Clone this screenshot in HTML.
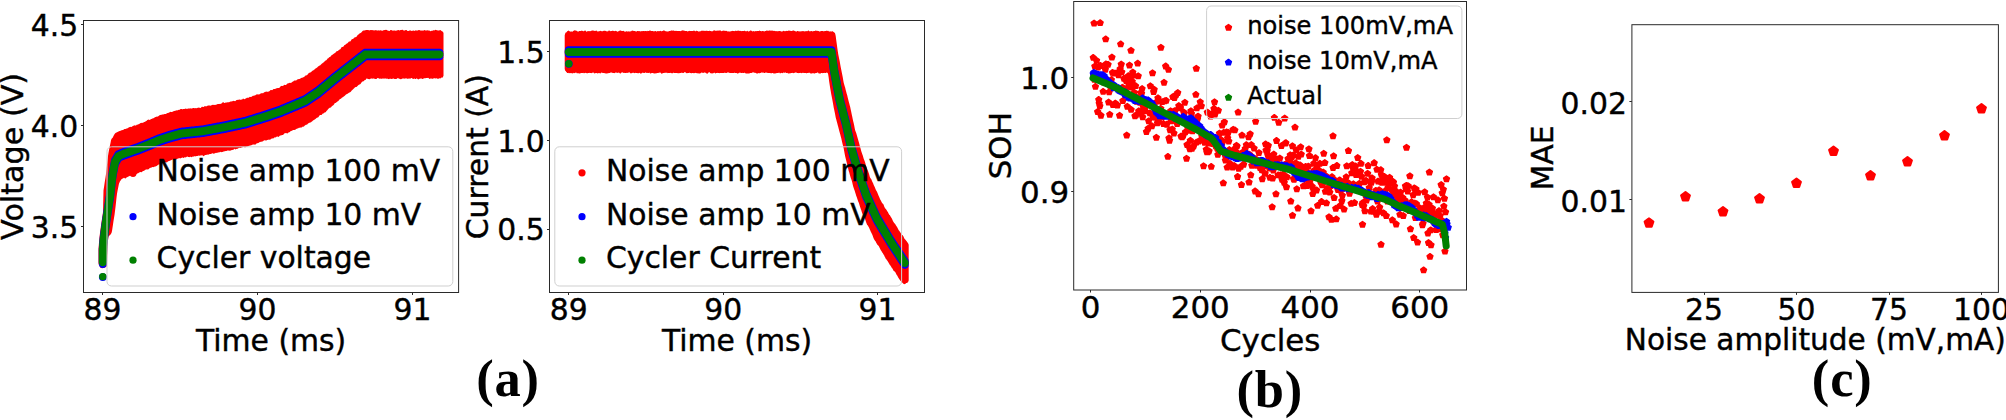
<!DOCTYPE html>
<html><head><meta charset="utf-8"><title>figure</title>
<style>html,body{margin:0;padding:0;background:#fff}svg{display:block}</style></head>
<body>
<svg width="2006" height="420" viewBox="0 0 2006 420">
<rect width="2006" height="420" fill="#fff"/>
<clipPath id="cp1"><rect x="83.5" y="20.5" width="375.1" height="272.0"/></clipPath>
<g clip-path="url(#cp1)">
<path d="M98.5,248.8 99.0,242.4 99.5,236.9 100.0,233.0 100.5,229.1 101.0,225.5 101.5,222.1 102.0,218.7 102.5,215.4 103.0,212.0 103.5,190.3 104.0,187.3 104.5,183.8 105.0,180.5 105.5,177.4 106.0,174.0 106.5,169.6 107.0,164.8 107.5,160.4 108.0,155.9 108.5,152.7 109.0,150.1 109.5,147.8 110.0,145.3 110.5,142.9 111.0,140.2 111.5,139.1 112.0,138.3 112.5,137.9 113.0,136.9 113.5,135.9 114.0,134.9 114.5,134.2 115.0,133.6 115.5,133.0 116.0,132.7 116.5,132.4 117.0,132.2 117.5,132.0 118.0,131.7 118.5,131.6 119.0,131.2 119.5,130.9 120.0,131.0 120.5,130.7 121.0,130.6 121.5,130.2 122.0,130.2 122.5,130.1 123.0,130.0 123.5,129.7 124.0,129.2 124.5,129.0 125.0,129.0 125.5,129.0 126.0,128.7 126.5,128.6 127.0,128.6 127.5,128.3 128.0,128.1 128.5,127.6 129.0,127.5 129.5,127.1 130.0,126.9 130.5,126.7 131.0,126.9 131.5,127.0 132.0,126.6 132.5,126.2 133.0,125.9 133.5,125.7 134.0,125.5 134.5,125.2 135.0,125.6 135.5,125.6 136.0,125.4 136.5,125.0 137.0,124.6 137.5,124.7 138.0,124.5 138.5,124.3 139.0,123.9 139.5,123.8 140.0,123.6 140.5,123.1 141.0,122.9 141.5,122.7 142.0,122.9 142.5,122.8 143.0,122.7 143.5,122.4 144.0,122.0 144.5,122.0 145.0,121.7 145.5,121.6 146.0,121.1 146.5,120.9 147.0,120.3 147.5,120.0 148.0,119.7 148.5,119.6 149.0,119.8 149.5,120.0 150.0,119.8 150.5,119.5 151.0,118.9 151.5,118.9 152.0,118.8 152.5,118.5 153.0,118.3 153.5,118.2 154.0,117.9 154.5,117.5 155.0,117.3 155.5,117.0 156.0,116.9 156.5,116.5 157.0,116.7 157.5,116.4 158.0,116.4 158.5,115.9 159.0,115.7 159.5,115.2 160.0,114.9 160.5,114.9 161.0,114.7 161.5,114.9 162.0,114.3 162.5,114.7 163.0,114.2 163.5,114.5 164.0,114.2 164.5,113.9 165.0,113.9 165.5,113.9 166.0,114.0 166.5,113.6 167.0,113.2 167.5,112.9 168.0,112.9 168.5,112.7 169.0,112.7 169.5,112.3 170.0,112.1 170.5,111.8 171.0,112.0 171.5,111.9 172.0,112.1 172.5,111.8 173.0,111.6 173.5,111.2 174.0,111.0 174.5,111.0 175.0,110.8 175.5,110.7 176.0,110.4 176.5,110.2 177.0,110.4 177.5,110.3 178.0,110.2 178.5,109.8 179.0,110.0 179.5,109.8 180.0,109.6 180.5,109.1 181.0,109.0 181.5,109.1 182.0,109.1 182.5,109.4 183.0,109.1 183.5,109.1 184.0,109.0 184.5,109.0 185.0,108.7 185.5,108.5 186.0,108.7 186.5,108.8 187.0,109.0 187.5,108.7 188.0,108.6 188.5,108.5 189.0,108.5 189.5,108.5 190.0,108.5 190.5,108.3 191.0,108.5 191.5,108.6 192.0,108.6 192.5,108.3 193.0,107.9 193.5,107.9 194.0,108.1 194.5,108.3 195.0,108.2 195.5,108.1 196.0,108.2 196.5,108.2 197.0,107.9 197.5,108.0 198.0,107.6 198.5,107.7 199.0,107.5 199.5,107.8 200.0,107.9 200.5,108.0 201.0,107.7 201.5,107.0 202.0,106.8 202.5,106.8 203.0,107.0 203.5,106.9 204.0,106.7 204.5,106.2 205.0,106.1 205.5,106.2 206.0,106.5 206.5,106.3 207.0,106.1 207.5,105.8 208.0,105.6 208.5,105.5 209.0,105.4 209.5,105.4 210.0,105.5 210.5,105.7 211.0,105.4 211.5,105.2 212.0,104.9 212.5,104.8 213.0,104.9 213.5,104.8 214.0,104.9 214.5,104.8 215.0,105.2 215.5,104.8 216.0,104.8 216.5,104.4 217.0,104.5 217.5,104.0 218.0,103.9 218.5,103.9 219.0,104.1 219.5,104.0 220.0,103.8 220.5,103.9 221.0,103.8 221.5,103.4 222.0,103.0 222.5,102.6 223.0,102.3 223.5,102.2 224.0,102.7 224.5,103.1 225.0,102.9 225.5,102.4 226.0,102.5 226.5,102.6 227.0,102.6 227.5,102.3 228.0,102.2 228.5,102.2 229.0,102.2 229.5,102.1 230.0,101.7 230.5,101.6 231.0,101.4 231.5,101.6 232.0,101.2 232.5,101.2 233.0,100.9 233.5,100.8 234.0,101.0 234.5,101.1 235.0,101.2 235.5,100.9 236.0,100.6 236.5,100.1 237.0,99.9 237.5,99.8 238.0,100.1 238.5,99.8 239.0,99.6 239.5,99.5 240.0,99.8 240.5,99.7 241.0,99.7 241.5,99.6 242.0,99.4 242.5,99.2 243.0,98.5 243.5,98.8 244.0,98.9 244.5,99.2 245.0,98.9 245.5,98.6 246.0,98.4 246.5,98.1 247.0,97.8 247.5,97.7 248.0,97.8 248.5,97.8 249.0,97.6 249.5,97.1 250.0,96.7 250.5,96.9 251.0,96.9 251.5,96.8 252.0,96.4 252.5,95.9 253.0,95.8 253.5,95.8 254.0,95.8 254.5,95.6 255.0,95.2 255.5,95.2 256.0,94.8 256.5,94.6 257.0,94.3 257.5,94.6 258.0,94.3 258.5,94.4 259.0,94.4 259.5,94.3 260.0,93.9 260.5,93.5 261.0,93.4 261.5,93.2 262.0,93.1 262.5,93.3 263.0,93.3 263.5,93.0 264.0,92.3 264.5,92.3 265.0,91.9 265.5,91.8 266.0,91.8 266.5,91.6 267.0,91.8 267.5,91.7 268.0,91.7 268.5,91.5 269.0,91.4 269.5,91.1 270.0,90.8 270.5,90.0 271.0,89.9 271.5,90.1 272.0,90.3 272.5,90.0 273.0,89.4 273.5,89.0 274.0,89.0 274.5,89.0 275.0,88.9 275.5,88.7 276.0,88.6 276.5,88.3 277.0,88.2 277.5,88.0 278.0,87.9 278.5,88.1 279.0,88.0 279.5,87.7 280.0,86.9 280.5,86.6 281.0,86.1 281.5,85.9 282.0,85.8 282.5,86.0 283.0,86.0 283.5,85.4 284.0,85.0 284.5,84.7 285.0,84.9 285.5,85.1 286.0,85.0 286.5,84.6 287.0,83.8 287.5,83.6 288.0,83.5 288.5,83.3 289.0,83.1 289.5,82.7 290.0,82.9 290.5,82.8 291.0,83.0 291.5,82.5 292.0,82.2 292.5,81.8 293.0,81.6 293.5,81.2 294.0,80.8 294.5,80.4 295.0,80.4 295.5,80.4 296.0,80.5 296.5,80.3 297.0,79.8 297.5,79.4 298.0,79.1 298.5,79.2 299.0,79.1 299.5,79.0 300.0,78.8 300.5,78.4 301.0,77.9 301.5,77.8 302.0,77.9 302.5,77.5 303.0,77.4 303.5,77.0 304.0,77.2 304.5,76.6 305.0,76.1 305.5,75.4 306.0,75.5 306.5,75.2 307.0,75.3 307.5,74.5 308.0,74.2 308.5,73.3 309.0,73.0 309.5,72.8 310.0,72.6 310.5,72.5 311.0,72.0 311.5,71.7 312.0,71.1 312.5,70.7 313.0,70.5 313.5,70.2 314.0,69.8 314.5,69.4 315.0,69.0 315.5,68.6 316.0,68.2 316.5,68.1 317.0,67.6 317.5,67.2 318.0,66.6 318.5,66.2 319.0,66.0 319.5,65.6 320.0,65.6 320.5,64.9 321.0,64.6 321.5,63.9 322.0,63.5 322.5,63.2 323.0,62.7 323.5,62.6 324.0,62.0 324.5,61.5 325.0,60.9 325.5,60.6 326.0,60.5 326.5,59.9 327.0,59.5 327.5,58.6 328.0,58.5 328.5,57.9 329.0,57.5 329.5,56.9 330.0,56.9 330.5,56.5 331.0,56.0 331.5,55.2 332.0,54.9 332.5,54.7 333.0,54.3 333.5,54.0 334.0,53.6 334.5,53.2 335.0,53.0 335.5,52.4 336.0,51.9 336.5,51.2 337.0,51.2 337.5,51.0 338.0,51.0 338.5,50.2 339.0,49.9 339.5,49.5 340.0,49.4 340.5,48.9 341.0,48.2 341.5,47.3 342.0,46.9 342.5,46.9 343.0,46.8 343.5,46.5 344.0,45.7 344.5,45.1 345.0,45.1 345.5,44.5 346.0,44.3 346.5,43.5 347.0,43.7 347.5,43.1 348.0,42.8 348.5,42.0 349.0,41.6 349.5,41.5 350.0,41.5 350.5,41.2 351.0,40.4 351.5,39.6 352.0,39.2 352.5,38.9 353.0,38.9 353.5,38.5 354.0,38.0 354.5,37.6 355.0,37.2 355.5,37.2 356.0,37.1 356.5,36.7 357.0,36.0 357.5,35.2 358.0,34.8 358.5,34.4 359.0,34.0 359.5,33.5 360.0,33.3 360.5,32.9 361.0,32.7 361.5,32.2 362.0,31.7 362.5,31.1 363.0,30.7 363.5,30.5 364.0,30.5 364.5,30.4 365.0,30.2 365.5,30.2 366.0,30.0 366.5,30.1 367.0,30.0 367.5,29.9 368.0,30.0 368.5,30.1 369.0,30.4 369.5,30.3 370.0,30.2 370.5,30.1 371.0,30.1 371.5,30.1 372.0,30.3 372.5,30.1 373.0,30.3 373.5,30.3 374.0,30.4 374.5,30.3 375.0,30.4 375.5,30.1 376.0,30.3 376.5,30.2 377.0,30.6 377.5,30.6 378.0,30.4 378.5,30.3 379.0,30.4 379.5,30.5 380.0,30.6 380.5,30.3 381.0,30.3 381.5,30.4 382.0,30.9 382.5,30.8 383.0,30.3 383.5,30.3 384.0,30.3 384.5,30.1 385.0,30.0 385.5,29.8 386.0,30.0 386.5,29.8 387.0,30.3 387.5,30.4 388.0,30.6 388.5,30.7 389.0,31.0 389.5,30.9 390.0,30.6 390.5,30.1 391.0,30.0 391.5,30.1 392.0,30.4 392.5,30.6 393.0,30.7 393.5,30.5 394.0,30.4 394.5,30.4 395.0,30.6 395.5,30.8 396.0,30.7 396.5,30.6 397.0,30.5 397.5,30.2 398.0,30.0 398.5,30.1 399.0,30.2 399.5,30.5 400.0,30.2 400.5,30.1 401.0,30.0 401.5,30.1 402.0,29.8 402.5,29.8 403.0,30.1 403.5,30.6 404.0,30.5 404.5,30.4 405.0,30.4 405.5,30.1 406.0,30.0 406.5,30.0 407.0,30.6 407.5,30.9 408.0,31.0 408.5,30.9 409.0,30.7 409.5,30.6 410.0,30.5 410.5,30.4 411.0,30.5 411.5,30.9 412.0,30.9 412.5,30.7 413.0,30.4 413.5,30.6 414.0,30.7 414.5,30.9 415.0,30.5 415.5,30.5 416.0,30.2 416.5,30.5 417.0,30.7 417.5,30.5 418.0,30.2 418.5,30.1 419.0,30.2 419.5,30.1 420.0,30.2 420.5,30.4 421.0,30.7 421.5,30.5 422.0,30.6 422.5,30.5 423.0,30.7 423.5,30.4 424.0,30.3 424.5,30.1 425.0,30.2 425.5,30.4 426.0,30.4 426.5,30.4 427.0,30.3 427.5,30.2 428.0,30.5 428.5,30.4 429.0,30.4 429.5,30.4 430.0,30.9 430.5,31.3 431.0,31.1 431.5,30.8 432.0,30.7 432.5,30.7 433.0,30.5 433.5,30.2 434.0,30.3 434.5,30.4 435.0,30.1 435.5,29.7 436.0,30.0 436.5,30.1 437.0,30.4 437.5,30.3 438.0,30.5 438.5,30.5 439.0,30.5 439.5,30.3 440.0,30.3 440.5,30.1 441.0,30.6 441.5,30.9 442.0,31.3 442.5,31.4 443.0,32.0 443.5,33.0 443.5,75.8 443.0,76.8 442.5,77.7 442.0,77.5 441.5,77.6 441.0,77.9 440.5,78.4 440.0,78.3 439.5,78.3 439.0,78.5 438.5,78.7 438.0,78.7 437.5,78.7 437.0,78.6 436.5,78.3 436.0,78.3 435.5,78.5 435.0,78.5 434.5,78.2 434.0,78.1 433.5,78.6 433.0,78.8 432.5,78.8 432.0,78.7 431.5,78.6 431.0,78.4 430.5,78.6 430.0,78.8 429.5,79.0 429.0,78.4 428.5,78.1 428.0,77.8 427.5,78.0 427.0,78.0 426.5,78.1 426.0,78.1 425.5,78.3 425.0,78.3 424.5,78.3 424.0,78.3 423.5,78.6 423.0,78.9 422.5,78.9 422.0,78.8 421.5,78.4 421.0,78.6 420.5,78.5 420.0,78.7 419.5,78.7 419.0,79.0 418.5,79.4 418.0,79.3 417.5,78.9 417.0,78.4 416.5,78.3 416.0,78.9 415.5,79.1 415.0,78.9 414.5,78.6 414.0,78.5 413.5,78.9 413.0,78.9 412.5,78.8 412.0,78.1 411.5,78.1 411.0,78.3 410.5,78.6 410.0,78.8 409.5,78.4 409.0,78.6 408.5,78.5 408.0,78.9 407.5,78.8 407.0,78.6 406.5,78.5 406.0,78.2 405.5,78.6 405.0,78.6 404.5,78.8 404.0,78.5 403.5,78.6 403.0,78.6 402.5,78.6 402.0,78.7 401.5,79.0 401.0,79.2 400.5,79.2 400.0,78.8 399.5,78.9 399.0,78.5 398.5,78.4 398.0,77.9 397.5,78.2 397.0,78.6 396.5,79.1 396.0,79.1 395.5,79.1 395.0,79.0 394.5,79.0 394.0,78.7 393.5,78.5 393.0,78.5 392.5,78.8 392.0,79.0 391.5,79.1 391.0,78.8 390.5,78.7 390.0,78.8 389.5,78.7 389.0,79.2 388.5,78.9 388.0,79.1 387.5,78.5 387.0,78.7 386.5,78.7 386.0,78.6 385.5,78.4 385.0,78.5 384.5,78.5 384.0,78.7 383.5,78.6 383.0,78.5 382.5,78.4 382.0,78.7 381.5,78.7 381.0,78.7 380.5,78.5 380.0,78.7 379.5,78.7 379.0,78.4 378.5,78.2 378.0,78.0 377.5,78.1 377.0,78.4 376.5,79.0 376.0,79.0 375.5,78.9 375.0,79.0 374.5,78.8 374.0,78.6 373.5,78.5 373.0,78.6 372.5,78.7 372.0,78.6 371.5,78.4 371.0,78.4 370.5,78.7 370.0,79.1 369.5,79.2 369.0,79.2 368.5,79.1 368.0,78.9 367.5,78.7 367.0,78.5 366.5,78.6 366.0,79.3 365.5,79.9 365.0,80.1 364.5,80.3 364.0,80.8 363.5,81.3 363.0,81.4 362.5,81.4 362.0,81.8 361.5,82.4 361.0,83.2 360.5,84.0 360.0,84.3 359.5,84.5 359.0,84.7 358.5,85.1 358.0,85.4 357.5,86.1 357.0,86.6 356.5,87.0 356.0,87.1 355.5,87.1 355.0,87.4 354.5,87.8 354.0,88.6 353.5,88.8 353.0,89.4 352.5,89.7 352.0,90.3 351.5,90.8 351.0,91.4 350.5,92.0 350.0,92.3 349.5,92.5 349.0,92.8 348.5,93.1 348.0,93.6 347.5,93.8 347.0,93.9 346.5,94.3 346.0,94.4 345.5,95.0 345.0,95.4 344.5,96.1 344.0,96.3 343.5,96.7 343.0,97.1 342.5,97.6 342.0,97.6 341.5,98.3 341.0,98.5 340.5,99.0 340.0,99.1 339.5,99.5 339.0,100.3 338.5,100.8 338.0,101.2 337.5,101.4 337.0,101.8 336.5,102.3 336.0,102.8 335.5,102.9 335.0,103.1 334.5,103.6 334.0,104.4 333.5,105.1 333.0,105.5 332.5,105.7 332.0,105.9 331.5,106.8 331.0,107.2 330.5,107.8 330.0,107.6 329.5,108.0 329.0,108.3 328.5,108.7 328.0,109.2 327.5,109.9 327.0,110.4 326.5,111.0 326.0,111.7 325.5,112.3 325.0,112.5 324.5,112.5 324.0,113.1 323.5,113.4 323.0,113.5 322.5,113.7 322.0,114.4 321.5,115.1 321.0,115.0 320.5,115.1 320.0,115.1 319.5,115.6 319.0,116.3 318.5,116.9 318.0,117.4 317.5,117.4 317.0,117.8 316.5,118.0 316.0,118.4 315.5,119.0 315.0,119.3 314.5,119.8 314.0,119.8 313.5,120.3 313.0,120.6 312.5,121.0 312.0,121.4 311.5,121.8 311.0,122.3 310.5,122.5 310.0,122.6 309.5,122.8 309.0,122.9 308.5,123.3 308.0,123.6 307.5,124.3 307.0,124.6 306.5,124.8 306.0,124.8 305.5,125.1 305.0,125.4 304.5,125.8 304.0,126.5 303.5,126.7 303.0,126.5 302.5,126.7 302.0,127.2 301.5,127.6 301.0,127.4 300.5,127.4 300.0,127.7 299.5,127.7 299.0,127.8 298.5,128.1 298.0,128.4 297.5,128.5 297.0,128.4 296.5,128.9 296.0,129.1 295.5,129.7 295.0,129.7 294.5,129.9 294.0,130.0 293.5,130.0 293.0,129.9 292.5,130.4 292.0,130.5 291.5,131.1 291.0,130.9 290.5,131.3 290.0,131.7 289.5,132.2 289.0,132.3 288.5,132.6 288.0,132.9 287.5,133.4 287.0,133.3 286.5,133.3 286.0,133.1 285.5,133.3 285.0,133.1 284.5,133.5 284.0,133.8 283.5,134.4 283.0,134.9 282.5,135.1 282.0,135.0 281.5,135.2 281.0,135.5 280.5,135.6 280.0,135.4 279.5,135.9 279.0,136.6 278.5,137.0 278.0,136.7 277.5,136.4 277.0,136.5 276.5,136.8 276.0,137.2 275.5,137.4 275.0,137.3 274.5,137.6 274.0,137.8 273.5,138.5 273.0,138.3 272.5,138.6 272.0,138.5 271.5,138.7 271.0,138.8 270.5,139.4 270.0,139.7 269.5,139.8 269.0,139.6 268.5,139.8 268.0,139.7 267.5,140.0 267.0,139.9 266.5,140.6 266.0,140.5 265.5,140.5 265.0,140.2 264.5,140.2 264.0,140.5 263.5,140.8 263.0,141.3 262.5,141.5 262.0,141.5 261.5,141.8 261.0,141.7 260.5,141.9 260.0,141.7 259.5,142.2 259.0,142.4 258.5,142.9 258.0,143.1 257.5,143.2 257.0,143.3 256.5,143.5 256.0,144.0 255.5,144.4 255.0,144.7 254.5,144.5 254.0,144.6 253.5,144.5 253.0,144.6 252.5,144.8 252.0,144.8 251.5,145.3 251.0,145.2 250.5,145.4 250.0,145.4 249.5,145.7 249.0,145.7 248.5,146.1 248.0,146.4 247.5,146.6 247.0,146.6 246.5,146.8 246.0,146.9 245.5,147.2 245.0,147.2 244.5,147.3 244.0,147.0 243.5,146.9 243.0,146.8 242.5,147.2 242.0,147.4 241.5,147.6 241.0,147.8 240.5,147.9 240.0,148.1 239.5,147.7 239.0,148.1 238.5,148.1 238.0,148.7 237.5,148.7 237.0,148.8 236.5,149.0 236.0,149.1 235.5,149.4 235.0,149.2 234.5,148.8 234.0,149.1 233.5,149.7 233.0,150.1 232.5,150.0 232.0,149.7 231.5,150.2 231.0,150.3 230.5,150.7 230.0,150.6 229.5,150.7 229.0,150.8 228.5,150.6 228.0,150.6 227.5,150.5 227.0,150.7 226.5,150.9 226.0,150.9 225.5,151.0 225.0,151.2 224.5,151.3 224.0,151.5 223.5,151.6 223.0,151.7 222.5,151.9 222.0,152.1 221.5,152.2 221.0,151.9 220.5,151.8 220.0,152.2 219.5,152.3 219.0,152.3 218.5,152.4 218.0,152.4 217.5,152.8 217.0,152.7 216.5,152.9 216.0,152.7 215.5,153.0 215.0,153.2 214.5,153.4 214.0,153.5 213.5,153.7 213.0,153.4 212.5,153.3 212.0,153.3 211.5,153.8 211.0,154.1 210.5,154.1 210.0,154.1 209.5,154.1 209.0,154.4 208.5,154.6 208.0,154.8 207.5,154.5 207.0,154.8 206.5,154.8 206.0,155.1 205.5,155.0 205.0,155.1 204.5,155.5 204.0,155.9 203.5,156.2 203.0,155.7 202.5,155.4 202.0,155.1 201.5,155.4 201.0,155.4 200.5,155.5 200.0,155.6 199.5,155.7 199.0,155.7 198.5,155.6 198.0,155.7 197.5,155.9 197.0,156.0 196.5,155.9 196.0,156.2 195.5,156.2 195.0,156.4 194.5,156.1 194.0,156.4 193.5,156.5 193.0,156.7 192.5,156.6 192.0,157.0 191.5,157.2 191.0,156.9 190.5,156.7 190.0,156.7 189.5,157.2 189.0,157.1 188.5,157.1 188.0,156.9 187.5,156.6 187.0,156.6 186.5,156.9 186.0,157.3 185.5,157.4 185.0,157.2 184.5,157.3 184.0,157.8 183.5,157.9 183.0,157.7 182.5,157.5 182.0,157.6 181.5,158.0 181.0,158.0 180.5,158.5 180.0,158.3 179.5,158.2 179.0,158.0 178.5,158.4 178.0,158.5 177.5,158.8 177.0,158.9 176.5,159.3 176.0,159.4 175.5,159.1 175.0,159.1 174.5,159.3 174.0,159.7 173.5,159.6 173.0,159.4 172.5,159.5 172.0,159.7 171.5,160.0 171.0,160.3 170.5,160.5 170.0,160.6 169.5,160.9 169.0,161.0 168.5,161.3 168.0,161.2 167.5,161.9 167.0,162.3 166.5,162.6 166.0,162.2 165.5,162.3 165.0,162.4 164.5,162.7 164.0,162.6 163.5,162.9 163.0,163.0 162.5,163.0 162.0,162.9 161.5,163.2 161.0,163.9 160.5,164.1 160.0,164.3 159.5,164.2 159.0,164.6 158.5,164.6 158.0,164.9 157.5,165.2 157.0,165.7 156.5,166.1 156.0,166.2 155.5,166.5 155.0,166.5 154.5,166.8 154.0,166.8 153.5,167.2 153.0,167.0 152.5,167.1 152.0,167.3 151.5,167.6 151.0,167.7 150.5,167.7 150.0,167.9 149.5,168.2 149.0,168.8 148.5,169.3 148.0,169.6 147.5,169.4 147.0,169.3 146.5,169.4 146.0,169.4 145.5,169.7 145.0,170.0 144.5,170.5 144.0,170.8 143.5,171.0 143.0,171.0 142.5,171.5 142.0,171.7 141.5,172.3 141.0,172.2 140.5,172.1 140.0,171.9 139.5,172.4 139.0,172.6 138.5,173.2 138.0,173.0 137.5,173.5 137.0,173.7 136.5,174.0 136.0,174.1 135.5,174.2 135.0,174.1 134.5,174.3 134.0,174.6 133.5,174.9 133.0,174.9 132.5,175.4 132.0,175.5 131.5,175.5 131.0,175.3 130.5,175.5 130.0,175.8 129.5,176.0 129.0,176.2 128.5,176.4 128.0,176.8 127.5,176.9 127.0,177.2 126.5,177.4 126.0,178.0 125.5,178.4 125.0,178.4 124.5,178.0 124.0,177.8 123.5,177.9 123.0,178.4 122.5,178.6 122.0,178.9 121.5,179.2 121.0,179.8 120.5,180.8 120.0,181.2 119.5,182.4 119.0,183.4 118.5,186.1 118.0,188.5 117.5,190.9 117.0,193.7 116.5,197.7 116.0,202.5 115.5,206.9 115.0,211.1 114.5,214.9 114.0,218.1 113.5,221.0 113.0,224.5 112.5,227.7 112.0,231.1 111.5,233.0 111.0,233.8 110.5,234.4 110.0,235.2 109.5,235.5 109.0,235.7 108.5,236.7 108.0,240.6 107.5,246.2 107.0,264.9 106.5,266.4 106.0,266.9 105.5,267.2 105.0,267.3 104.5,267.8 104.0,267.9 103.5,267.8 103.0,268.0 102.5,268.2 102.0,268.2 101.5,267.9 101.0,268.0 100.5,267.7 100.0,266.9 99.5,265.8 99.0,265.2 98.5,263.4Z" fill="#ff0000"/>
<path d="M98.8,248.2 99.3,241.8 99.8,236.4 100.3,232.7 100.8,228.9 101.3,225.2 101.8,221.5 102.3,218.0 102.8,214.8 103.3,211.5 103.8,208.3 104.3,205.1 104.8,201.9 105.3,198.7 105.8,195.5 106.3,192.1 106.8,187.8 107.3,183.4 107.8,179.1 108.3,174.7 108.8,171.3 109.3,168.7 109.8,166.1 110.3,163.5 110.8,160.9 111.3,158.7 111.8,157.7 112.3,156.9 112.8,156.0 113.3,155.2 113.8,154.3 114.3,153.5 114.8,152.6 115.3,151.8 115.8,151.2 116.3,150.9 116.8,150.6 117.3,150.4 117.8,150.2 118.3,150.0 118.8,149.7 119.3,149.5 119.8,149.3 120.3,149.1 120.8,148.9 121.3,148.7 121.8,148.5 122.3,148.3 122.8,148.1 123.3,147.9 123.8,147.7 124.3,147.5 124.8,147.3 125.3,147.2 125.8,147.0 126.3,146.8 126.8,146.6 127.3,146.5 127.8,146.3 128.3,146.1 128.8,146.0 129.3,145.8 129.8,145.6 130.3,145.4 130.8,145.3 131.3,145.1 131.8,144.9 132.3,144.7 132.8,144.6 133.3,144.4 133.8,144.2 134.3,144.0 134.8,143.9 135.3,143.7 135.8,143.5 136.3,143.4 136.8,143.2 137.3,143.0 137.8,142.8 138.3,142.6 138.8,142.4 139.3,142.2 139.8,142.0 140.3,141.8 140.8,141.6 141.3,141.4 141.8,141.2 142.3,141.0 142.8,140.8 143.3,140.6 143.8,140.4 144.3,140.2 144.8,140.0 145.3,139.8 145.8,139.6 146.3,139.4 146.8,139.2 147.3,139.0 147.8,138.8 148.3,138.6 148.8,138.4 149.3,138.2 149.8,137.9 150.3,137.7 150.8,137.5 151.3,137.3 151.8,137.1 152.3,136.9 152.8,136.7 153.3,136.5 153.8,136.3 154.3,136.1 154.8,135.8 155.3,135.6 155.8,135.4 156.3,135.2 156.8,135.0 157.3,134.8 157.8,134.6 158.3,134.4 158.8,134.2 159.3,134.0 159.8,133.9 160.3,133.7 160.8,133.5 161.3,133.4 161.8,133.2 162.3,133.1 162.8,132.9 163.3,132.7 163.8,132.6 164.3,132.4 164.8,132.3 165.3,132.1 165.8,131.9 166.3,131.8 166.8,131.6 167.3,131.5 167.8,131.3 168.3,131.1 168.8,131.0 169.3,130.8 169.8,130.7 170.3,130.6 170.8,130.4 171.3,130.3 171.8,130.2 172.3,130.0 172.8,129.9 173.3,129.8 173.8,129.6 174.3,129.5 174.8,129.3 175.3,129.2 175.8,129.1 176.3,128.9 176.8,128.8 177.3,128.7 177.8,128.5 178.3,128.4 178.8,128.3 179.3,128.1 179.8,128.0 180.3,127.9 180.8,127.7 181.3,127.7 181.8,127.6 182.3,127.6 182.8,127.5 183.3,127.5 183.8,127.4 184.3,127.4 184.8,127.3 185.3,127.3 185.8,127.2 186.3,127.2 186.8,127.1 187.3,127.0 187.8,127.0 188.3,126.9 188.8,126.9 189.3,126.8 189.8,126.8 190.3,126.7 190.8,126.7 191.3,126.6 191.8,126.6 192.3,126.5 192.8,126.5 193.3,126.4 193.8,126.4 194.3,126.3 194.8,126.2 195.3,126.2 195.8,126.1 196.3,126.1 196.8,126.0 197.3,126.0 197.8,125.9 198.3,125.9 198.8,125.8 199.3,125.8 199.8,125.7 200.3,125.7 200.8,125.6 201.3,125.5 201.8,125.5 202.3,125.4 202.8,125.4 203.3,125.3 203.8,125.2 204.3,125.1 204.8,125.0 205.3,124.9 205.8,124.8 206.3,124.7 206.8,124.6 207.3,124.5 207.8,124.4 208.3,124.3 208.8,124.2 209.3,124.1 209.8,124.0 210.3,124.0 210.8,123.9 211.3,123.8 211.8,123.7 212.3,123.6 212.8,123.5 213.3,123.4 213.8,123.3 214.3,123.2 214.8,123.1 215.3,123.0 215.8,122.9 216.3,122.8 216.8,122.7 217.3,122.6 217.8,122.5 218.3,122.5 218.8,122.4 219.3,122.3 219.8,122.2 220.3,122.1 220.8,122.0 221.3,121.9 221.8,121.8 222.3,121.7 222.8,121.6 223.3,121.5 223.8,121.4 224.3,121.3 224.8,121.2 225.3,121.1 225.8,121.0 226.3,120.9 226.8,120.8 227.3,120.7 227.8,120.6 228.3,120.4 228.8,120.3 229.3,120.2 229.8,120.1 230.3,120.0 230.8,119.9 231.3,119.8 231.8,119.7 232.3,119.6 232.8,119.5 233.3,119.4 233.8,119.3 234.3,119.2 234.8,119.1 235.3,118.9 235.8,118.8 236.3,118.7 236.8,118.6 237.3,118.5 237.8,118.4 238.3,118.3 238.8,118.2 239.3,118.1 239.8,118.0 240.3,117.9 240.8,117.8 241.3,117.7 241.8,117.5 242.3,117.4 242.8,117.3 243.3,117.2 243.8,117.1 244.3,117.0 244.8,116.9 245.3,116.7 245.8,116.6 246.3,116.4 246.8,116.3 247.3,116.1 247.8,116.0 248.3,115.8 248.8,115.6 249.3,115.5 249.8,115.3 250.3,115.2 250.8,115.0 251.3,114.9 251.8,114.7 252.3,114.5 252.8,114.4 253.3,114.2 253.8,114.1 254.3,113.9 254.8,113.8 255.3,113.6 255.8,113.5 256.3,113.3 256.8,113.1 257.3,113.0 257.8,112.8 258.3,112.7 258.8,112.5 259.3,112.4 259.8,112.2 260.3,112.0 260.8,111.9 261.3,111.7 261.8,111.6 262.3,111.4 262.8,111.3 263.3,111.1 263.8,110.9 264.3,110.8 264.8,110.6 265.3,110.5 265.8,110.3 266.3,110.1 266.8,110.0 267.3,109.8 267.8,109.6 268.3,109.5 268.8,109.3 269.3,109.1 269.8,109.0 270.3,108.8 270.8,108.6 271.3,108.4 271.8,108.3 272.3,108.1 272.8,107.9 273.3,107.8 273.8,107.6 274.3,107.4 274.8,107.2 275.3,107.1 275.8,106.9 276.3,106.7 276.8,106.6 277.3,106.4 277.8,106.2 278.3,106.1 278.8,105.9 279.3,105.7 279.8,105.5 280.3,105.2 280.8,105.0 281.3,104.8 281.8,104.6 282.3,104.4 282.8,104.2 283.3,104.0 283.8,103.8 284.3,103.6 284.8,103.4 285.3,103.1 285.8,102.9 286.3,102.7 286.8,102.5 287.3,102.3 287.8,102.1 288.3,101.9 288.8,101.7 289.3,101.5 289.8,101.3 290.3,101.1 290.8,100.8 291.3,100.6 291.8,100.4 292.3,100.2 292.8,100.0 293.3,99.8 293.8,99.6 294.3,99.4 294.8,99.2 295.3,99.0 295.8,98.7 296.3,98.5 296.8,98.3 297.3,98.1 297.8,97.9 298.3,97.7 298.8,97.5 299.3,97.3 299.8,97.1 300.3,96.8 300.8,96.6 301.3,96.4 301.8,96.2 302.3,96.0 302.8,95.8 303.3,95.5 303.8,95.2 304.3,94.9 304.8,94.5 305.3,94.2 305.8,93.9 306.3,93.5 306.8,93.2 307.3,92.9 307.8,92.5 308.3,92.2 308.8,91.8 309.3,91.5 309.8,91.2 310.3,90.8 310.8,90.5 311.3,90.2 311.8,89.8 312.3,89.5 312.8,89.2 313.3,88.8 313.8,88.5 314.3,88.2 314.8,87.8 315.3,87.5 315.8,87.1 316.3,86.7 316.8,86.3 317.3,85.9 317.8,85.5 318.3,85.1 318.8,84.7 319.3,84.2 319.8,83.8 320.3,83.4 320.8,83.0 321.3,82.6 321.8,82.2 322.3,81.8 322.8,81.4 323.3,80.9 323.8,80.5 324.3,80.1 324.8,79.7 325.3,79.3 325.8,78.9 326.3,78.5 326.8,78.1 327.3,77.6 327.8,77.2 328.3,76.8 328.8,76.4 329.3,76.0 329.8,75.6 330.3,75.2 330.8,74.8 331.3,74.3 331.8,73.9 332.3,73.5 332.8,73.1 333.3,72.7 333.8,72.3 334.3,71.9 334.8,71.5 335.3,71.1 335.8,70.7 336.3,70.4 336.8,70.0 337.3,69.6 337.8,69.2 338.3,68.8 338.8,68.4 339.3,68.0 339.8,67.6 340.3,67.2 340.8,66.8 341.3,66.5 341.8,66.1 342.3,65.7 342.8,65.3 343.3,64.9 343.8,64.5 344.3,64.1 344.8,63.7 345.3,63.3 345.8,62.9 346.3,62.6 346.8,62.2 347.3,61.8 347.8,61.4 348.3,61.0 348.8,60.6 349.3,60.2 349.8,59.8 350.3,59.4 350.8,59.0 351.3,58.7 351.8,58.3 352.3,57.9 352.8,57.5 353.3,57.1 353.8,56.7 354.3,56.3 354.8,55.9 355.3,55.5 355.8,55.1 356.3,54.7 356.8,54.3 357.3,53.9 357.8,53.5 358.3,53.1 358.8,52.8 359.3,52.4 359.8,52.0 360.3,51.6 360.8,51.2 361.3,50.8 361.8,50.4 362.3,50.0 362.8,49.6 363.3,49.2 363.8,49.0 364.3,48.8 364.8,48.7 365.3,48.7 365.8,48.7 366.3,48.7 366.8,48.7 367.3,48.7 367.8,48.7 368.3,48.7 368.8,48.7 369.3,48.7 369.8,48.7 370.3,48.7 370.8,48.7 371.3,48.7 371.8,48.7 372.3,48.7 372.8,48.7 373.3,48.7 373.8,48.7 374.3,48.7 374.8,48.7 375.3,48.7 375.8,48.7 376.3,48.7 376.8,48.7 377.3,48.7 377.8,48.7 378.3,48.7 378.8,48.7 379.3,48.7 379.8,48.7 380.3,48.7 380.8,48.7 381.3,48.7 381.8,48.7 382.3,48.7 382.8,48.7 383.3,48.7 383.8,48.7 384.3,48.7 384.8,48.7 385.3,48.7 385.8,48.7 386.3,48.7 386.8,48.7 387.3,48.7 387.8,48.7 388.3,48.7 388.8,48.7 389.3,48.7 389.8,48.7 390.3,48.7 390.8,48.7 391.3,48.7 391.8,48.7 392.3,48.7 392.8,48.7 393.3,48.7 393.8,48.7 394.3,48.7 394.8,48.7 395.3,48.7 395.8,48.7 396.3,48.7 396.8,48.7 397.3,48.7 397.8,48.7 398.3,48.7 398.8,48.7 399.3,48.7 399.8,48.7 400.3,48.7 400.8,48.7 401.3,48.7 401.8,48.7 402.3,48.7 402.8,48.7 403.3,48.7 403.8,48.7 404.3,48.7 404.8,48.7 405.3,48.7 405.8,48.7 406.3,48.7 406.8,48.7 407.3,48.7 407.8,48.7 408.3,48.7 408.8,48.7 409.3,48.7 409.8,48.7 410.3,48.7 410.8,48.7 411.3,48.7 411.8,48.7 412.3,48.7 412.8,48.7 413.3,48.7 413.8,48.7 414.3,48.7 414.8,48.7 415.3,48.7 415.8,48.7 416.3,48.7 416.8,48.7 417.3,48.7 417.8,48.7 418.3,48.7 418.8,48.7 419.3,48.7 419.8,48.7 420.3,48.7 420.8,48.7 421.3,48.7 421.8,48.7 422.3,48.7 422.8,48.7 423.3,48.7 423.8,48.7 424.3,48.7 424.8,48.7 425.3,48.7 425.8,48.7 426.3,48.7 426.8,48.7 427.3,48.7 427.8,48.7 428.3,48.7 428.8,48.7 429.3,48.7 429.8,48.7 430.3,48.7 430.8,48.7 431.3,48.7 431.8,48.7 432.3,48.7 432.8,48.7 433.3,48.7 433.8,48.7 434.3,48.7 434.8,48.7 435.3,48.7 435.8,48.7 436.3,48.7 436.8,48.7 437.3,48.7 437.8,48.7 438.3,48.7 438.8,48.7 439.3,48.7 439.8,48.7 440.3,48.8 440.8,48.9 441.3,49.1 441.8,49.4 442.3,49.8 442.8,50.4 443.3,51.5 443.3,57.5 442.8,58.6 442.3,59.2 441.8,59.6 441.3,59.9 440.8,60.1 440.3,60.2 439.8,60.3 439.3,60.3 438.8,60.3 438.3,60.3 437.8,60.3 437.3,60.3 436.8,60.3 436.3,60.3 435.8,60.3 435.3,60.3 434.8,60.3 434.3,60.3 433.8,60.3 433.3,60.3 432.8,60.3 432.3,60.3 431.8,60.3 431.3,60.3 430.8,60.3 430.3,60.3 429.8,60.3 429.3,60.3 428.8,60.3 428.3,60.3 427.8,60.3 427.3,60.3 426.8,60.3 426.3,60.3 425.8,60.3 425.3,60.3 424.8,60.3 424.3,60.3 423.8,60.3 423.3,60.3 422.8,60.3 422.3,60.3 421.8,60.3 421.3,60.3 420.8,60.3 420.3,60.3 419.8,60.3 419.3,60.3 418.8,60.3 418.3,60.3 417.8,60.3 417.3,60.3 416.8,60.3 416.3,60.3 415.8,60.3 415.3,60.3 414.8,60.3 414.3,60.3 413.8,60.3 413.3,60.3 412.8,60.3 412.3,60.3 411.8,60.3 411.3,60.3 410.8,60.3 410.3,60.3 409.8,60.3 409.3,60.3 408.8,60.3 408.3,60.3 407.8,60.3 407.3,60.3 406.8,60.3 406.3,60.3 405.8,60.3 405.3,60.3 404.8,60.3 404.3,60.3 403.8,60.3 403.3,60.3 402.8,60.3 402.3,60.3 401.8,60.3 401.3,60.3 400.8,60.3 400.3,60.3 399.8,60.3 399.3,60.3 398.8,60.3 398.3,60.3 397.8,60.3 397.3,60.3 396.8,60.3 396.3,60.3 395.8,60.3 395.3,60.3 394.8,60.3 394.3,60.3 393.8,60.3 393.3,60.3 392.8,60.3 392.3,60.3 391.8,60.3 391.3,60.3 390.8,60.3 390.3,60.3 389.8,60.3 389.3,60.3 388.8,60.3 388.3,60.3 387.8,60.3 387.3,60.3 386.8,60.3 386.3,60.3 385.8,60.3 385.3,60.3 384.8,60.3 384.3,60.3 383.8,60.3 383.3,60.3 382.8,60.3 382.3,60.3 381.8,60.3 381.3,60.3 380.8,60.3 380.3,60.3 379.8,60.3 379.3,60.3 378.8,60.3 378.3,60.3 377.8,60.3 377.3,60.3 376.8,60.3 376.3,60.3 375.8,60.3 375.3,60.3 374.8,60.3 374.3,60.3 373.8,60.3 373.3,60.3 372.8,60.3 372.3,60.3 371.8,60.3 371.3,60.3 370.8,60.3 370.3,60.3 369.8,60.3 369.3,60.3 368.8,60.3 368.3,60.3 367.8,60.3 367.3,60.3 366.8,60.3 366.3,60.6 365.8,61.0 365.3,61.4 364.8,61.8 364.3,62.2 363.8,62.6 363.3,63.0 362.8,63.4 362.3,63.8 361.8,64.2 361.3,64.6 360.8,65.0 360.3,65.4 359.8,65.8 359.3,66.2 358.8,66.5 358.3,66.9 357.8,67.3 357.3,67.7 356.8,68.1 356.3,68.5 355.8,68.9 355.3,69.3 354.8,69.7 354.3,70.1 353.8,70.4 353.3,70.8 352.8,71.2 352.3,71.6 351.8,72.0 351.3,72.4 350.8,72.8 350.3,73.2 349.8,73.6 349.3,74.0 348.8,74.3 348.3,74.7 347.8,75.1 347.3,75.5 346.8,75.9 346.3,76.3 345.8,76.7 345.3,77.1 344.8,77.5 344.3,77.9 343.8,78.2 343.3,78.6 342.8,79.0 342.3,79.4 341.8,79.8 341.3,80.2 340.8,80.6 340.3,81.0 339.8,81.4 339.3,81.8 338.8,82.2 338.3,82.5 337.8,82.9 337.3,83.4 336.8,83.8 336.3,84.2 335.8,84.6 335.3,85.0 334.8,85.4 334.3,85.8 333.8,86.2 333.3,86.7 332.8,87.1 332.3,87.5 331.8,87.9 331.3,88.3 330.8,88.7 330.3,89.1 329.8,89.6 329.3,90.0 328.8,90.4 328.3,90.8 327.8,91.2 327.3,91.6 326.8,92.0 326.3,92.4 325.8,92.9 325.3,93.3 324.8,93.7 324.3,94.1 323.8,94.5 323.3,94.9 322.8,95.3 322.3,95.7 321.8,96.2 321.3,96.6 320.8,97.0 320.3,97.4 319.8,97.7 319.3,98.0 318.8,98.4 318.3,98.7 317.8,99.0 317.3,99.4 316.8,99.7 316.3,100.0 315.8,100.4 315.3,100.7 314.8,101.1 314.3,101.4 313.8,101.7 313.3,102.1 312.8,102.4 312.3,102.7 311.8,103.1 311.3,103.4 310.8,103.7 310.3,104.1 309.8,104.4 309.3,104.7 308.8,105.1 308.3,105.4 307.8,105.7 307.3,106.1 306.8,106.4 306.3,106.6 305.8,106.8 305.3,107.0 304.8,107.2 304.3,107.4 303.8,107.6 303.3,107.9 302.8,108.1 302.3,108.3 301.8,108.5 301.3,108.7 300.8,108.9 300.3,109.1 299.8,109.3 299.3,109.5 298.8,109.7 298.3,110.0 297.8,110.2 297.3,110.4 296.8,110.6 296.3,110.8 295.8,111.0 295.3,111.2 294.8,111.4 294.3,111.6 293.8,111.9 293.3,112.1 292.8,112.3 292.3,112.5 291.8,112.7 291.3,112.9 290.8,113.1 290.3,113.3 289.8,113.5 289.3,113.7 288.8,114.0 288.3,114.2 287.8,114.4 287.3,114.6 286.8,114.8 286.3,115.0 285.8,115.2 285.3,115.4 284.8,115.6 284.3,115.8 283.8,116.0 283.3,116.3 282.8,116.5 282.3,116.7 281.8,116.9 281.3,117.1 280.8,117.3 280.3,117.4 279.8,117.6 279.3,117.8 278.8,117.9 278.3,118.1 277.8,118.3 277.3,118.4 276.8,118.6 276.3,118.8 275.8,119.0 275.3,119.1 274.8,119.3 274.3,119.5 273.8,119.6 273.3,119.8 272.8,120.0 272.3,120.2 271.8,120.3 271.3,120.5 270.8,120.7 270.3,120.8 269.8,121.0 269.3,121.2 268.8,121.3 268.3,121.5 267.8,121.7 267.3,121.8 266.8,122.0 266.3,122.1 265.8,122.3 265.3,122.5 264.8,122.6 264.3,122.8 263.8,122.9 263.3,123.1 262.8,123.2 262.3,123.4 261.8,123.6 261.3,123.7 260.8,123.9 260.3,124.0 259.8,124.2 259.3,124.3 258.8,124.5 258.3,124.6 257.8,124.8 257.3,125.0 256.8,125.1 256.3,125.3 255.8,125.4 255.3,125.6 254.8,125.7 254.3,125.9 253.8,126.1 253.3,126.2 252.8,126.4 252.3,126.5 251.8,126.7 251.3,126.8 250.8,127.0 250.3,127.2 249.8,127.3 249.3,127.5 248.8,127.6 248.3,127.8 247.8,127.9 247.3,128.1 246.8,128.2 246.3,128.4 245.8,128.5 245.3,128.6 244.8,128.7 244.3,128.8 243.8,128.9 243.3,129.0 242.8,129.1 242.3,129.2 241.8,129.3 241.3,129.4 240.8,129.5 240.3,129.7 239.8,129.8 239.3,129.9 238.8,130.0 238.3,130.1 237.8,130.2 237.3,130.3 236.8,130.4 236.3,130.5 235.8,130.6 235.3,130.7 234.8,130.8 234.3,130.9 233.8,131.0 233.3,131.2 232.8,131.3 232.3,131.4 231.8,131.5 231.3,131.6 230.8,131.7 230.3,131.8 229.8,131.9 229.3,132.0 228.8,132.1 228.3,132.2 227.8,132.3 227.3,132.4 226.8,132.6 226.3,132.7 225.8,132.8 225.3,132.9 224.8,133.0 224.3,133.1 223.8,133.2 223.3,133.3 222.8,133.3 222.3,133.4 221.8,133.5 221.3,133.6 220.8,133.7 220.3,133.8 219.8,133.9 219.3,134.0 218.8,134.1 218.3,134.2 217.8,134.3 217.3,134.4 216.8,134.5 216.3,134.6 215.8,134.7 215.3,134.7 214.8,134.8 214.3,134.9 213.8,135.0 213.3,135.1 212.8,135.2 212.3,135.3 211.8,135.4 211.3,135.5 210.8,135.6 210.3,135.7 209.8,135.8 209.3,135.9 208.8,136.0 208.3,136.1 207.8,136.1 207.3,136.2 206.8,136.3 206.3,136.4 205.8,136.5 205.3,136.6 204.8,136.7 204.3,136.8 203.8,136.9 203.3,137.0 202.8,137.0 202.3,137.1 201.8,137.1 201.3,137.2 200.8,137.2 200.3,137.3 199.8,137.4 199.3,137.4 198.8,137.5 198.3,137.5 197.8,137.6 197.3,137.6 196.8,137.7 196.3,137.7 195.8,137.8 195.3,137.8 194.8,137.9 194.3,137.9 193.8,138.0 193.3,138.0 192.8,138.1 192.3,138.2 191.8,138.2 191.3,138.3 190.8,138.3 190.3,138.4 189.8,138.4 189.3,138.5 188.8,138.5 188.3,138.6 187.8,138.6 187.3,138.7 186.8,138.7 186.3,138.8 185.8,138.9 185.3,138.9 184.8,139.0 184.3,139.0 183.8,139.1 183.3,139.1 182.8,139.2 182.3,139.2 181.8,139.3 181.3,139.5 180.8,139.6 180.3,139.7 179.8,139.9 179.3,140.0 178.8,140.2 178.3,140.3 177.8,140.4 177.3,140.6 176.8,140.7 176.3,140.8 175.8,141.0 175.3,141.1 174.8,141.2 174.3,141.4 173.8,141.5 173.3,141.6 172.8,141.8 172.3,141.9 171.8,142.1 171.3,142.2 170.8,142.3 170.3,142.5 169.8,142.7 169.3,142.8 168.8,143.0 168.3,143.1 167.8,143.3 167.3,143.5 166.8,143.6 166.3,143.8 165.8,143.9 165.3,144.1 164.8,144.3 164.3,144.4 163.8,144.6 163.3,144.7 162.8,144.9 162.3,145.1 161.8,145.2 161.3,145.4 160.8,145.6 160.3,145.8 159.8,146.0 159.3,146.2 158.8,146.4 158.3,146.7 157.8,146.9 157.3,147.1 156.8,147.3 156.3,147.5 155.8,147.7 155.3,147.9 154.8,148.1 154.3,148.3 153.8,148.5 153.3,148.8 152.8,149.0 152.3,149.2 151.8,149.4 151.3,149.6 150.8,149.8 150.3,150.0 149.8,150.2 149.3,150.4 148.8,150.6 148.3,150.8 147.8,151.0 147.3,151.2 146.8,151.4 146.3,151.6 145.8,151.8 145.3,152.0 144.8,152.2 144.3,152.4 143.8,152.6 143.3,152.8 142.8,153.0 142.3,153.2 141.8,153.4 141.3,153.6 140.8,153.8 140.3,154.0 139.8,154.2 139.3,154.4 138.8,154.6 138.3,154.7 137.8,154.9 137.3,155.1 136.8,155.2 136.3,155.4 135.8,155.6 135.3,155.8 134.8,155.9 134.3,156.1 133.8,156.3 133.3,156.5 132.8,156.6 132.3,156.8 131.8,157.0 131.3,157.2 130.8,157.3 130.3,157.5 129.8,157.7 129.3,157.8 128.8,158.0 128.3,158.2 127.8,158.4 127.3,158.5 126.8,158.7 126.3,158.9 125.8,159.1 125.3,159.3 124.8,159.5 124.3,159.7 123.8,159.9 123.3,160.1 122.8,160.3 122.3,160.6 121.8,160.8 121.3,161.0 120.8,161.8 120.3,162.7 119.8,163.5 119.3,164.4 118.8,165.2 118.3,167.8 117.8,170.4 117.3,173.0 116.8,175.6 116.3,178.8 115.8,183.1 115.3,187.4 114.8,191.8 114.3,196.2 113.8,199.7 113.3,202.9 112.8,206.1 112.3,209.3 111.8,212.5 111.3,215.7 110.8,219.0 110.3,222.2 109.8,225.6 109.3,229.3 108.8,233.1 108.3,236.8 107.8,240.5 107.3,245.7 106.8,264.1 106.3,266.0 105.8,266.7 105.3,267.2 104.8,267.6 104.3,267.8 103.8,268.0 103.3,268.1 102.8,268.1 102.3,268.1 101.8,268.0 101.3,267.8 100.8,267.6 100.3,267.2 99.8,266.7 99.3,266.0 98.8,264.1Z" fill="#0000ff"/>
<path d="M98.8,250.0 99.3,243.6 99.8,238.2 100.3,234.5 100.8,230.7 101.3,227.0 101.8,223.3 102.3,219.8 102.8,216.6 103.3,213.3 103.8,210.1 104.3,206.9 104.8,203.7 105.3,200.5 105.8,197.3 106.3,193.9 106.8,189.6 107.3,185.2 107.8,180.9 108.3,176.5 108.8,173.1 109.3,170.5 109.8,167.9 110.3,165.3 110.8,162.7 111.3,160.5 111.8,159.5 112.3,158.7 112.8,157.8 113.3,157.0 113.8,156.1 114.3,155.3 114.8,154.4 115.3,153.6 115.8,153.0 116.3,152.7 116.8,152.4 117.3,152.2 117.8,152.0 118.3,151.8 118.8,151.5 119.3,151.3 119.8,151.1 120.3,150.9 120.8,150.7 121.3,150.5 121.8,150.3 122.3,150.1 122.8,149.9 123.3,149.7 123.8,149.5 124.3,149.3 124.8,149.1 125.3,149.0 125.8,148.8 126.3,148.6 126.8,148.4 127.3,148.3 127.8,148.1 128.3,147.9 128.8,147.8 129.3,147.6 129.8,147.4 130.3,147.2 130.8,147.1 131.3,146.9 131.8,146.7 132.3,146.5 132.8,146.4 133.3,146.2 133.8,146.0 134.3,145.8 134.8,145.7 135.3,145.5 135.8,145.3 136.3,145.2 136.8,145.0 137.3,144.8 137.8,144.6 138.3,144.4 138.8,144.2 139.3,144.0 139.8,143.8 140.3,143.6 140.8,143.4 141.3,143.2 141.8,143.0 142.3,142.8 142.8,142.6 143.3,142.4 143.8,142.2 144.3,142.0 144.8,141.8 145.3,141.6 145.8,141.4 146.3,141.2 146.8,141.0 147.3,140.8 147.8,140.6 148.3,140.4 148.8,140.2 149.3,140.0 149.8,139.7 150.3,139.5 150.8,139.3 151.3,139.1 151.8,138.9 152.3,138.7 152.8,138.5 153.3,138.3 153.8,138.1 154.3,137.9 154.8,137.6 155.3,137.4 155.8,137.2 156.3,137.0 156.8,136.8 157.3,136.6 157.8,136.4 158.3,136.2 158.8,136.0 159.3,135.8 159.8,135.7 160.3,135.5 160.8,135.3 161.3,135.2 161.8,135.0 162.3,134.9 162.8,134.7 163.3,134.5 163.8,134.4 164.3,134.2 164.8,134.1 165.3,133.9 165.8,133.7 166.3,133.6 166.8,133.4 167.3,133.3 167.8,133.1 168.3,132.9 168.8,132.8 169.3,132.6 169.8,132.5 170.3,132.4 170.8,132.2 171.3,132.1 171.8,132.0 172.3,131.8 172.8,131.7 173.3,131.6 173.8,131.4 174.3,131.3 174.8,131.1 175.3,131.0 175.8,130.9 176.3,130.7 176.8,130.6 177.3,130.5 177.8,130.3 178.3,130.2 178.8,130.1 179.3,129.9 179.8,129.8 180.3,129.7 180.8,129.5 181.3,129.5 181.8,129.4 182.3,129.4 182.8,129.3 183.3,129.3 183.8,129.2 184.3,129.2 184.8,129.1 185.3,129.1 185.8,129.0 186.3,129.0 186.8,128.9 187.3,128.8 187.8,128.8 188.3,128.7 188.8,128.7 189.3,128.6 189.8,128.6 190.3,128.5 190.8,128.5 191.3,128.4 191.8,128.4 192.3,128.3 192.8,128.3 193.3,128.2 193.8,128.2 194.3,128.1 194.8,128.0 195.3,128.0 195.8,127.9 196.3,127.9 196.8,127.8 197.3,127.8 197.8,127.7 198.3,127.7 198.8,127.6 199.3,127.6 199.8,127.5 200.3,127.5 200.8,127.4 201.3,127.3 201.8,127.3 202.3,127.2 202.8,127.2 203.3,127.1 203.8,127.0 204.3,126.9 204.8,126.8 205.3,126.7 205.8,126.6 206.3,126.5 206.8,126.4 207.3,126.3 207.8,126.2 208.3,126.1 208.8,126.0 209.3,125.9 209.8,125.8 210.3,125.8 210.8,125.7 211.3,125.6 211.8,125.5 212.3,125.4 212.8,125.3 213.3,125.2 213.8,125.1 214.3,125.0 214.8,124.9 215.3,124.8 215.8,124.7 216.3,124.6 216.8,124.5 217.3,124.4 217.8,124.3 218.3,124.3 218.8,124.2 219.3,124.1 219.8,124.0 220.3,123.9 220.8,123.8 221.3,123.7 221.8,123.6 222.3,123.5 222.8,123.4 223.3,123.3 223.8,123.2 224.3,123.1 224.8,123.0 225.3,122.9 225.8,122.8 226.3,122.7 226.8,122.6 227.3,122.5 227.8,122.4 228.3,122.2 228.8,122.1 229.3,122.0 229.8,121.9 230.3,121.8 230.8,121.7 231.3,121.6 231.8,121.5 232.3,121.4 232.8,121.3 233.3,121.2 233.8,121.1 234.3,121.0 234.8,120.9 235.3,120.7 235.8,120.6 236.3,120.5 236.8,120.4 237.3,120.3 237.8,120.2 238.3,120.1 238.8,120.0 239.3,119.9 239.8,119.8 240.3,119.7 240.8,119.6 241.3,119.5 241.8,119.3 242.3,119.2 242.8,119.1 243.3,119.0 243.8,118.9 244.3,118.8 244.8,118.7 245.3,118.5 245.8,118.4 246.3,118.2 246.8,118.1 247.3,117.9 247.8,117.8 248.3,117.6 248.8,117.4 249.3,117.3 249.8,117.1 250.3,117.0 250.8,116.8 251.3,116.7 251.8,116.5 252.3,116.3 252.8,116.2 253.3,116.0 253.8,115.9 254.3,115.7 254.8,115.6 255.3,115.4 255.8,115.3 256.3,115.1 256.8,114.9 257.3,114.8 257.8,114.6 258.3,114.5 258.8,114.3 259.3,114.2 259.8,114.0 260.3,113.8 260.8,113.7 261.3,113.5 261.8,113.4 262.3,113.2 262.8,113.1 263.3,112.9 263.8,112.7 264.3,112.6 264.8,112.4 265.3,112.3 265.8,112.1 266.3,111.9 266.8,111.8 267.3,111.6 267.8,111.4 268.3,111.3 268.8,111.1 269.3,110.9 269.8,110.8 270.3,110.6 270.8,110.4 271.3,110.2 271.8,110.1 272.3,109.9 272.8,109.7 273.3,109.6 273.8,109.4 274.3,109.2 274.8,109.0 275.3,108.9 275.8,108.7 276.3,108.5 276.8,108.4 277.3,108.2 277.8,108.0 278.3,107.9 278.8,107.7 279.3,107.5 279.8,107.3 280.3,107.0 280.8,106.8 281.3,106.6 281.8,106.4 282.3,106.2 282.8,106.0 283.3,105.8 283.8,105.6 284.3,105.4 284.8,105.2 285.3,104.9 285.8,104.7 286.3,104.5 286.8,104.3 287.3,104.1 287.8,103.9 288.3,103.7 288.8,103.5 289.3,103.3 289.8,103.1 290.3,102.9 290.8,102.6 291.3,102.4 291.8,102.2 292.3,102.0 292.8,101.8 293.3,101.6 293.8,101.4 294.3,101.2 294.8,101.0 295.3,100.8 295.8,100.5 296.3,100.3 296.8,100.1 297.3,99.9 297.8,99.7 298.3,99.5 298.8,99.3 299.3,99.1 299.8,98.9 300.3,98.6 300.8,98.4 301.3,98.2 301.8,98.0 302.3,97.8 302.8,97.6 303.3,97.3 303.8,97.0 304.3,96.7 304.8,96.3 305.3,96.0 305.8,95.7 306.3,95.3 306.8,95.0 307.3,94.7 307.8,94.3 308.3,94.0 308.8,93.6 309.3,93.3 309.8,93.0 310.3,92.6 310.8,92.3 311.3,92.0 311.8,91.6 312.3,91.3 312.8,91.0 313.3,90.6 313.8,90.3 314.3,90.0 314.8,89.6 315.3,89.3 315.8,88.9 316.3,88.5 316.8,88.1 317.3,87.7 317.8,87.3 318.3,86.9 318.8,86.5 319.3,86.0 319.8,85.6 320.3,85.2 320.8,84.8 321.3,84.4 321.8,84.0 322.3,83.6 322.8,83.2 323.3,82.7 323.8,82.3 324.3,81.9 324.8,81.5 325.3,81.1 325.8,80.7 326.3,80.3 326.8,79.9 327.3,79.4 327.8,79.0 328.3,78.6 328.8,78.2 329.3,77.8 329.8,77.4 330.3,77.0 330.8,76.6 331.3,76.1 331.8,75.7 332.3,75.3 332.8,74.9 333.3,74.5 333.8,74.1 334.3,73.7 334.8,73.3 335.3,72.9 335.8,72.5 336.3,72.2 336.8,71.8 337.3,71.4 337.8,71.0 338.3,70.6 338.8,70.2 339.3,69.8 339.8,69.4 340.3,69.0 340.8,68.6 341.3,68.3 341.8,67.9 342.3,67.5 342.8,67.1 343.3,66.7 343.8,66.3 344.3,65.9 344.8,65.5 345.3,65.1 345.8,64.7 346.3,64.4 346.8,64.0 347.3,63.6 347.8,63.2 348.3,62.8 348.8,62.4 349.3,62.0 349.8,61.6 350.3,61.2 350.8,60.8 351.3,60.5 351.8,60.1 352.3,59.7 352.8,59.3 353.3,58.9 353.8,58.5 354.3,58.1 354.8,57.7 355.3,57.3 355.8,56.9 356.3,56.5 356.8,56.1 357.3,55.7 357.8,55.3 358.3,54.9 358.8,54.6 359.3,54.2 359.8,53.8 360.3,53.4 360.8,53.0 361.3,52.6 361.8,52.2 362.3,51.8 362.8,51.4 363.3,51.0 363.8,50.8 364.3,50.6 364.8,50.5 365.3,50.5 365.8,50.5 366.3,50.5 366.8,50.5 367.3,50.5 367.8,50.5 368.3,50.5 368.8,50.5 369.3,50.5 369.8,50.5 370.3,50.5 370.8,50.5 371.3,50.5 371.8,50.5 372.3,50.5 372.8,50.5 373.3,50.5 373.8,50.5 374.3,50.5 374.8,50.5 375.3,50.5 375.8,50.5 376.3,50.5 376.8,50.5 377.3,50.5 377.8,50.5 378.3,50.5 378.8,50.5 379.3,50.5 379.8,50.5 380.3,50.5 380.8,50.5 381.3,50.5 381.8,50.5 382.3,50.5 382.8,50.5 383.3,50.5 383.8,50.5 384.3,50.5 384.8,50.5 385.3,50.5 385.8,50.5 386.3,50.5 386.8,50.5 387.3,50.5 387.8,50.5 388.3,50.5 388.8,50.5 389.3,50.5 389.8,50.5 390.3,50.5 390.8,50.5 391.3,50.5 391.8,50.5 392.3,50.5 392.8,50.5 393.3,50.5 393.8,50.5 394.3,50.5 394.8,50.5 395.3,50.5 395.8,50.5 396.3,50.5 396.8,50.5 397.3,50.5 397.8,50.5 398.3,50.5 398.8,50.5 399.3,50.5 399.8,50.5 400.3,50.5 400.8,50.5 401.3,50.5 401.8,50.5 402.3,50.5 402.8,50.5 403.3,50.5 403.8,50.5 404.3,50.5 404.8,50.5 405.3,50.5 405.8,50.5 406.3,50.5 406.8,50.5 407.3,50.5 407.8,50.5 408.3,50.5 408.8,50.5 409.3,50.5 409.8,50.5 410.3,50.5 410.8,50.5 411.3,50.5 411.8,50.5 412.3,50.5 412.8,50.5 413.3,50.5 413.8,50.5 414.3,50.5 414.8,50.5 415.3,50.5 415.8,50.5 416.3,50.5 416.8,50.5 417.3,50.5 417.8,50.5 418.3,50.5 418.8,50.5 419.3,50.5 419.8,50.5 420.3,50.5 420.8,50.5 421.3,50.5 421.8,50.5 422.3,50.5 422.8,50.5 423.3,50.5 423.8,50.5 424.3,50.5 424.8,50.5 425.3,50.5 425.8,50.5 426.3,50.5 426.8,50.5 427.3,50.5 427.8,50.5 428.3,50.5 428.8,50.5 429.3,50.5 429.8,50.5 430.3,50.5 430.8,50.5 431.3,50.5 431.8,50.5 432.3,50.5 432.8,50.5 433.3,50.5 433.8,50.5 434.3,50.5 434.8,50.5 435.3,50.5 435.8,50.5 436.3,50.5 436.8,50.5 437.3,50.5 437.8,50.5 438.3,50.5 438.8,50.5 439.3,50.5 439.8,50.5 440.3,50.6 440.8,50.7 441.3,50.9 441.8,51.2 442.3,51.6 442.8,52.2 443.3,53.3 443.3,55.7 442.8,56.8 442.3,57.4 441.8,57.8 441.3,58.1 440.8,58.3 440.3,58.4 439.8,58.5 439.3,58.5 438.8,58.5 438.3,58.5 437.8,58.5 437.3,58.5 436.8,58.5 436.3,58.5 435.8,58.5 435.3,58.5 434.8,58.5 434.3,58.5 433.8,58.5 433.3,58.5 432.8,58.5 432.3,58.5 431.8,58.5 431.3,58.5 430.8,58.5 430.3,58.5 429.8,58.5 429.3,58.5 428.8,58.5 428.3,58.5 427.8,58.5 427.3,58.5 426.8,58.5 426.3,58.5 425.8,58.5 425.3,58.5 424.8,58.5 424.3,58.5 423.8,58.5 423.3,58.5 422.8,58.5 422.3,58.5 421.8,58.5 421.3,58.5 420.8,58.5 420.3,58.5 419.8,58.5 419.3,58.5 418.8,58.5 418.3,58.5 417.8,58.5 417.3,58.5 416.8,58.5 416.3,58.5 415.8,58.5 415.3,58.5 414.8,58.5 414.3,58.5 413.8,58.5 413.3,58.5 412.8,58.5 412.3,58.5 411.8,58.5 411.3,58.5 410.8,58.5 410.3,58.5 409.8,58.5 409.3,58.5 408.8,58.5 408.3,58.5 407.8,58.5 407.3,58.5 406.8,58.5 406.3,58.5 405.8,58.5 405.3,58.5 404.8,58.5 404.3,58.5 403.8,58.5 403.3,58.5 402.8,58.5 402.3,58.5 401.8,58.5 401.3,58.5 400.8,58.5 400.3,58.5 399.8,58.5 399.3,58.5 398.8,58.5 398.3,58.5 397.8,58.5 397.3,58.5 396.8,58.5 396.3,58.5 395.8,58.5 395.3,58.5 394.8,58.5 394.3,58.5 393.8,58.5 393.3,58.5 392.8,58.5 392.3,58.5 391.8,58.5 391.3,58.5 390.8,58.5 390.3,58.5 389.8,58.5 389.3,58.5 388.8,58.5 388.3,58.5 387.8,58.5 387.3,58.5 386.8,58.5 386.3,58.5 385.8,58.5 385.3,58.5 384.8,58.5 384.3,58.5 383.8,58.5 383.3,58.5 382.8,58.5 382.3,58.5 381.8,58.5 381.3,58.5 380.8,58.5 380.3,58.5 379.8,58.5 379.3,58.5 378.8,58.5 378.3,58.5 377.8,58.5 377.3,58.5 376.8,58.5 376.3,58.5 375.8,58.5 375.3,58.5 374.8,58.5 374.3,58.5 373.8,58.5 373.3,58.5 372.8,58.5 372.3,58.5 371.8,58.5 371.3,58.5 370.8,58.5 370.3,58.5 369.8,58.5 369.3,58.5 368.8,58.5 368.3,58.5 367.8,58.5 367.3,58.5 366.8,58.5 366.3,58.8 365.8,59.2 365.3,59.6 364.8,60.0 364.3,60.4 363.8,60.8 363.3,61.2 362.8,61.6 362.3,62.0 361.8,62.4 361.3,62.8 360.8,63.2 360.3,63.6 359.8,64.0 359.3,64.4 358.8,64.7 358.3,65.1 357.8,65.5 357.3,65.9 356.8,66.3 356.3,66.7 355.8,67.1 355.3,67.5 354.8,67.9 354.3,68.3 353.8,68.6 353.3,69.0 352.8,69.4 352.3,69.8 351.8,70.2 351.3,70.6 350.8,71.0 350.3,71.4 349.8,71.8 349.3,72.2 348.8,72.5 348.3,72.9 347.8,73.3 347.3,73.7 346.8,74.1 346.3,74.5 345.8,74.9 345.3,75.3 344.8,75.7 344.3,76.1 343.8,76.4 343.3,76.8 342.8,77.2 342.3,77.6 341.8,78.0 341.3,78.4 340.8,78.8 340.3,79.2 339.8,79.6 339.3,80.0 338.8,80.4 338.3,80.7 337.8,81.1 337.3,81.6 336.8,82.0 336.3,82.4 335.8,82.8 335.3,83.2 334.8,83.6 334.3,84.0 333.8,84.4 333.3,84.9 332.8,85.3 332.3,85.7 331.8,86.1 331.3,86.5 330.8,86.9 330.3,87.3 329.8,87.8 329.3,88.2 328.8,88.6 328.3,89.0 327.8,89.4 327.3,89.8 326.8,90.2 326.3,90.6 325.8,91.1 325.3,91.5 324.8,91.9 324.3,92.3 323.8,92.7 323.3,93.1 322.8,93.5 322.3,93.9 321.8,94.4 321.3,94.8 320.8,95.2 320.3,95.6 319.8,95.9 319.3,96.2 318.8,96.6 318.3,96.9 317.8,97.2 317.3,97.6 316.8,97.9 316.3,98.2 315.8,98.6 315.3,98.9 314.8,99.3 314.3,99.6 313.8,99.9 313.3,100.3 312.8,100.6 312.3,100.9 311.8,101.3 311.3,101.6 310.8,101.9 310.3,102.3 309.8,102.6 309.3,102.9 308.8,103.3 308.3,103.6 307.8,103.9 307.3,104.3 306.8,104.6 306.3,104.8 305.8,105.0 305.3,105.2 304.8,105.4 304.3,105.6 303.8,105.8 303.3,106.1 302.8,106.3 302.3,106.5 301.8,106.7 301.3,106.9 300.8,107.1 300.3,107.3 299.8,107.5 299.3,107.7 298.8,107.9 298.3,108.2 297.8,108.4 297.3,108.6 296.8,108.8 296.3,109.0 295.8,109.2 295.3,109.4 294.8,109.6 294.3,109.8 293.8,110.1 293.3,110.3 292.8,110.5 292.3,110.7 291.8,110.9 291.3,111.1 290.8,111.3 290.3,111.5 289.8,111.7 289.3,111.9 288.8,112.2 288.3,112.4 287.8,112.6 287.3,112.8 286.8,113.0 286.3,113.2 285.8,113.4 285.3,113.6 284.8,113.8 284.3,114.0 283.8,114.2 283.3,114.5 282.8,114.7 282.3,114.9 281.8,115.1 281.3,115.3 280.8,115.5 280.3,115.6 279.8,115.8 279.3,116.0 278.8,116.1 278.3,116.3 277.8,116.5 277.3,116.6 276.8,116.8 276.3,117.0 275.8,117.2 275.3,117.3 274.8,117.5 274.3,117.7 273.8,117.8 273.3,118.0 272.8,118.2 272.3,118.4 271.8,118.5 271.3,118.7 270.8,118.9 270.3,119.0 269.8,119.2 269.3,119.4 268.8,119.5 268.3,119.7 267.8,119.9 267.3,120.0 266.8,120.2 266.3,120.3 265.8,120.5 265.3,120.7 264.8,120.8 264.3,121.0 263.8,121.1 263.3,121.3 262.8,121.4 262.3,121.6 261.8,121.8 261.3,121.9 260.8,122.1 260.3,122.2 259.8,122.4 259.3,122.5 258.8,122.7 258.3,122.8 257.8,123.0 257.3,123.2 256.8,123.3 256.3,123.5 255.8,123.6 255.3,123.8 254.8,123.9 254.3,124.1 253.8,124.3 253.3,124.4 252.8,124.6 252.3,124.7 251.8,124.9 251.3,125.0 250.8,125.2 250.3,125.4 249.8,125.5 249.3,125.7 248.8,125.8 248.3,126.0 247.8,126.1 247.3,126.3 246.8,126.4 246.3,126.6 245.8,126.7 245.3,126.8 244.8,126.9 244.3,127.0 243.8,127.1 243.3,127.2 242.8,127.3 242.3,127.4 241.8,127.5 241.3,127.6 240.8,127.7 240.3,127.9 239.8,128.0 239.3,128.1 238.8,128.2 238.3,128.3 237.8,128.4 237.3,128.5 236.8,128.6 236.3,128.7 235.8,128.8 235.3,128.9 234.8,129.0 234.3,129.1 233.8,129.2 233.3,129.4 232.8,129.5 232.3,129.6 231.8,129.7 231.3,129.8 230.8,129.9 230.3,130.0 229.8,130.1 229.3,130.2 228.8,130.3 228.3,130.4 227.8,130.5 227.3,130.6 226.8,130.8 226.3,130.9 225.8,131.0 225.3,131.1 224.8,131.2 224.3,131.3 223.8,131.4 223.3,131.5 222.8,131.5 222.3,131.6 221.8,131.7 221.3,131.8 220.8,131.9 220.3,132.0 219.8,132.1 219.3,132.2 218.8,132.3 218.3,132.4 217.8,132.5 217.3,132.6 216.8,132.7 216.3,132.8 215.8,132.9 215.3,132.9 214.8,133.0 214.3,133.1 213.8,133.2 213.3,133.3 212.8,133.4 212.3,133.5 211.8,133.6 211.3,133.7 210.8,133.8 210.3,133.9 209.8,134.0 209.3,134.1 208.8,134.2 208.3,134.3 207.8,134.3 207.3,134.4 206.8,134.5 206.3,134.6 205.8,134.7 205.3,134.8 204.8,134.9 204.3,135.0 203.8,135.1 203.3,135.2 202.8,135.2 202.3,135.3 201.8,135.3 201.3,135.4 200.8,135.4 200.3,135.5 199.8,135.6 199.3,135.6 198.8,135.7 198.3,135.7 197.8,135.8 197.3,135.8 196.8,135.9 196.3,135.9 195.8,136.0 195.3,136.0 194.8,136.1 194.3,136.1 193.8,136.2 193.3,136.2 192.8,136.3 192.3,136.4 191.8,136.4 191.3,136.5 190.8,136.5 190.3,136.6 189.8,136.6 189.3,136.7 188.8,136.7 188.3,136.8 187.8,136.8 187.3,136.9 186.8,136.9 186.3,137.0 185.8,137.1 185.3,137.1 184.8,137.2 184.3,137.2 183.8,137.3 183.3,137.3 182.8,137.4 182.3,137.4 181.8,137.5 181.3,137.7 180.8,137.8 180.3,137.9 179.8,138.1 179.3,138.2 178.8,138.4 178.3,138.5 177.8,138.6 177.3,138.8 176.8,138.9 176.3,139.0 175.8,139.2 175.3,139.3 174.8,139.4 174.3,139.6 173.8,139.7 173.3,139.8 172.8,140.0 172.3,140.1 171.8,140.3 171.3,140.4 170.8,140.5 170.3,140.7 169.8,140.9 169.3,141.0 168.8,141.2 168.3,141.3 167.8,141.5 167.3,141.7 166.8,141.8 166.3,142.0 165.8,142.1 165.3,142.3 164.8,142.5 164.3,142.6 163.8,142.8 163.3,142.9 162.8,143.1 162.3,143.3 161.8,143.4 161.3,143.6 160.8,143.8 160.3,144.0 159.8,144.2 159.3,144.4 158.8,144.6 158.3,144.9 157.8,145.1 157.3,145.3 156.8,145.5 156.3,145.7 155.8,145.9 155.3,146.1 154.8,146.3 154.3,146.5 153.8,146.7 153.3,147.0 152.8,147.2 152.3,147.4 151.8,147.6 151.3,147.8 150.8,148.0 150.3,148.2 149.8,148.4 149.3,148.6 148.8,148.8 148.3,149.0 147.8,149.2 147.3,149.4 146.8,149.6 146.3,149.8 145.8,150.0 145.3,150.2 144.8,150.4 144.3,150.6 143.8,150.8 143.3,151.0 142.8,151.2 142.3,151.4 141.8,151.6 141.3,151.8 140.8,152.0 140.3,152.2 139.8,152.4 139.3,152.6 138.8,152.8 138.3,152.9 137.8,153.1 137.3,153.3 136.8,153.4 136.3,153.6 135.8,153.8 135.3,154.0 134.8,154.1 134.3,154.3 133.8,154.5 133.3,154.7 132.8,154.8 132.3,155.0 131.8,155.2 131.3,155.4 130.8,155.5 130.3,155.7 129.8,155.9 129.3,156.0 128.8,156.2 128.3,156.4 127.8,156.6 127.3,156.7 126.8,156.9 126.3,157.1 125.8,157.3 125.3,157.5 124.8,157.7 124.3,157.9 123.8,158.1 123.3,158.3 122.8,158.5 122.3,158.8 121.8,159.0 121.3,159.2 120.8,160.0 120.3,160.9 119.8,161.7 119.3,162.6 118.8,163.4 118.3,166.0 117.8,168.6 117.3,171.2 116.8,173.8 116.3,177.0 115.8,181.3 115.3,185.6 114.8,190.0 114.3,194.4 113.8,197.9 113.3,201.1 112.8,204.3 112.3,207.5 111.8,210.7 111.3,213.9 110.8,217.2 110.3,220.4 109.8,223.8 109.3,227.5 108.8,231.3 108.3,235.0 107.8,238.7 107.3,243.9 106.8,262.3 106.3,264.2 105.8,264.9 105.3,265.4 104.8,265.8 104.3,266.0 103.8,266.2 103.3,266.3 102.8,266.3 102.3,266.3 101.8,266.2 101.3,266.0 100.8,265.8 100.3,265.4 99.8,264.9 99.3,264.2 98.8,262.3Z" fill="#008000"/>
<circle cx="102.8" cy="277.1" r="3.9" fill="#0000ff"/>
<circle cx="102.8" cy="276.6" r="3.7" fill="#008000"/>
</g>
<rect x="83.5" y="20.5" width="375.1" height="272.0" fill="none" stroke="#2a2a2a" stroke-width="1.0"/>
<line x1="81.0" y1="24.5" x2="83.5" y2="24.5" stroke="#2a2a2a" stroke-width="1.0"/>
<text transform="translate(78.20,35.60) scale(1.0,1)" font-family="'DejaVu Sans','Liberation Sans',sans-serif" font-size="29.8" font-weight="normal" text-anchor="end" stroke="#000" stroke-width="0.4" >4.5</text>
<line x1="81.0" y1="125.5" x2="83.5" y2="125.5" stroke="#2a2a2a" stroke-width="1.0"/>
<text transform="translate(78.20,136.60) scale(1.0,1)" font-family="'DejaVu Sans','Liberation Sans',sans-serif" font-size="29.8" font-weight="normal" text-anchor="end" stroke="#000" stroke-width="0.4" >4.0</text>
<line x1="81.0" y1="226.5" x2="83.5" y2="226.5" stroke="#2a2a2a" stroke-width="1.0"/>
<text transform="translate(78.20,237.60) scale(1.0,1)" font-family="'DejaVu Sans','Liberation Sans',sans-serif" font-size="29.8" font-weight="normal" text-anchor="end" stroke="#000" stroke-width="0.4" >3.5</text>
<line x1="102.5" y1="292.5" x2="102.5" y2="295.0" stroke="#2a2a2a" stroke-width="1.0"/>
<text transform="translate(102.50,319.60) scale(1.0,1)" font-family="'DejaVu Sans','Liberation Sans',sans-serif" font-size="29.8" font-weight="normal" text-anchor="middle" stroke="#000" stroke-width="0.4" >89</text>
<line x1="257.5" y1="292.5" x2="257.5" y2="295.0" stroke="#2a2a2a" stroke-width="1.0"/>
<text transform="translate(257.50,319.60) scale(1.0,1)" font-family="'DejaVu Sans','Liberation Sans',sans-serif" font-size="29.8" font-weight="normal" text-anchor="middle" stroke="#000" stroke-width="0.4" >90</text>
<line x1="412.5" y1="292.5" x2="412.5" y2="295.0" stroke="#2a2a2a" stroke-width="1.0"/>
<text transform="translate(412.50,319.60) scale(1.0,1)" font-family="'DejaVu Sans','Liberation Sans',sans-serif" font-size="29.8" font-weight="normal" text-anchor="middle" stroke="#000" stroke-width="0.4" >91</text>
<text transform="translate(271.10,351.20) scale(1.0,1)" font-family="'DejaVu Sans','Liberation Sans',sans-serif" font-size="29.8" font-weight="normal" text-anchor="middle" stroke="#000" stroke-width="0.4" >Time (ms)</text>
<text transform="translate(23.00,156.40) rotate(-90) scale(1.0,1)" font-family="'DejaVu Sans','Liberation Sans',sans-serif" font-size="30.2" font-weight="normal" text-anchor="middle" stroke="#000" stroke-width="0.4" >Voltage (V)</text>
<rect x="107" y="146.8" width="345.8" height="139.2" rx="4.5" ry="4.5" fill="none" stroke="#cfcfcf" stroke-width="1"/>
<circle cx="133.0" cy="216.7" r="3.6" fill="#0000ff"/>
<circle cx="133.0" cy="260.2" r="3.6" fill="#008000"/>
<circle cx="133.0" cy="173.3" r="3.6" fill="#ff0000"/>
<text transform="translate(156.60,181.30) scale(1.0,1)" font-family="'DejaVu Sans','Liberation Sans',sans-serif" font-size="29.8" font-weight="normal" text-anchor="start" stroke="#000" stroke-width="0.4" >Noise amp 100 mV</text>
<text transform="translate(156.60,224.70) scale(1.0,1)" font-family="'DejaVu Sans','Liberation Sans',sans-serif" font-size="29.8" font-weight="normal" text-anchor="start" stroke="#000" stroke-width="0.4" >Noise amp 10 mV</text>
<text transform="translate(156.60,268.10) scale(1.0,1)" font-family="'DejaVu Sans','Liberation Sans',sans-serif" font-size="29.8" font-weight="normal" text-anchor="start" stroke="#000" stroke-width="0.4" >Cycler voltage</text>
<clipPath id="cp2"><rect x="549.5" y="20.5" width="375.0" height="272.0"/></clipPath>
<g clip-path="url(#cp2)">
<path d="M564.7,35.2 565.2,33.5 565.7,32.5 566.2,32.4 566.7,31.9 567.2,31.3 567.7,31.1 568.2,30.8 568.7,30.6 569.2,30.9 569.7,31.2 570.2,31.9 570.7,31.3 571.2,31.4 571.7,31.4 572.2,31.8 572.7,31.5 573.2,31.1 573.7,30.8 574.2,30.4 574.7,30.3 575.2,30.4 575.7,30.6 576.2,30.8 576.7,30.8 577.2,31.3 577.7,31.5 578.2,31.5 578.7,31.4 579.2,31.1 579.7,31.0 580.2,31.0 580.7,30.9 581.2,30.9 581.7,30.5 582.2,30.8 582.7,31.1 583.2,31.2 583.7,31.2 584.2,30.8 584.7,30.7 585.2,30.5 585.7,30.8 586.2,31.4 586.7,31.7 587.2,31.4 587.7,31.1 588.2,30.9 588.7,31.2 589.2,31.1 589.7,31.2 590.2,31.2 590.7,31.1 591.2,30.9 591.7,30.6 592.2,30.6 592.7,30.4 593.2,30.7 593.7,30.6 594.2,30.8 594.7,30.9 595.2,30.9 595.7,30.7 596.2,30.5 596.7,30.8 597.2,31.3 597.7,31.6 598.2,31.4 598.7,31.3 599.2,30.9 599.7,31.2 600.2,30.9 600.7,30.7 601.2,30.9 601.7,31.2 602.2,31.5 602.7,31.1 603.2,30.8 603.7,31.0 604.2,30.7 604.7,30.7 605.2,30.7 605.7,31.0 606.2,31.3 606.7,31.3 607.2,31.6 607.7,31.3 608.2,31.3 608.7,30.6 609.2,30.5 609.7,30.7 610.2,30.9 610.7,31.2 611.2,30.9 611.7,30.9 612.2,30.8 612.7,30.7 613.2,30.8 613.7,31.0 614.2,31.2 614.7,31.1 615.2,30.9 615.7,30.8 616.2,30.9 616.7,31.2 617.2,31.6 617.7,31.8 618.2,31.6 618.7,31.1 619.2,30.8 619.7,30.7 620.2,30.5 620.7,30.6 621.2,30.7 621.7,31.0 622.2,31.0 622.7,31.0 623.2,30.7 623.7,31.0 624.2,31.2 624.7,31.7 625.2,31.5 625.7,31.7 626.2,31.3 626.7,31.3 627.2,31.5 627.7,31.4 628.2,31.4 628.7,31.3 629.2,31.5 629.7,31.5 630.2,31.4 630.7,31.2 631.2,31.2 631.7,30.8 632.2,30.8 632.7,30.6 633.2,30.8 633.7,30.9 634.2,31.1 634.7,30.9 635.2,31.2 635.7,31.3 636.2,31.7 636.7,31.3 637.2,31.0 637.7,31.0 638.2,31.2 638.7,30.9 639.2,30.9 639.7,31.3 640.2,31.3 640.7,31.4 641.2,30.9 641.7,31.2 642.2,31.3 642.7,31.0 643.2,31.1 643.7,31.1 644.2,31.2 644.7,31.1 645.2,30.9 645.7,30.9 646.2,31.2 646.7,31.0 647.2,31.3 647.7,30.8 648.2,31.1 648.7,30.9 649.2,30.7 649.7,30.5 650.2,30.4 650.7,30.7 651.2,31.0 651.7,31.0 652.2,30.9 652.7,30.9 653.2,31.1 653.7,31.5 654.2,31.3 654.7,31.2 655.2,30.9 655.7,31.0 656.2,31.4 656.7,31.4 657.2,31.2 657.7,31.0 658.2,30.9 658.7,31.2 659.2,31.2 659.7,31.1 660.2,30.7 660.7,30.9 661.2,31.2 661.7,31.2 662.2,31.0 662.7,30.9 663.2,30.6 663.7,30.5 664.2,30.6 664.7,30.8 665.2,31.1 665.7,31.2 666.2,31.4 666.7,31.3 667.2,31.5 667.7,31.5 668.2,31.4 668.7,31.2 669.2,31.1 669.7,31.0 670.2,30.9 670.7,30.8 671.2,30.6 671.7,30.6 672.2,30.6 672.7,30.8 673.2,30.6 673.7,30.6 674.2,30.7 674.7,31.0 675.2,30.8 675.7,30.9 676.2,30.7 676.7,30.9 677.2,31.0 677.7,31.1 678.2,31.0 678.7,31.0 679.2,31.0 679.7,31.1 680.2,30.9 680.7,31.2 681.2,30.8 681.7,30.7 682.2,30.3 682.7,30.5 683.2,30.5 683.7,30.5 684.2,30.8 684.7,30.8 685.2,30.9 685.7,30.9 686.2,31.0 686.7,31.0 687.2,31.2 687.7,31.4 688.2,31.2 688.7,30.9 689.2,30.7 689.7,30.9 690.2,31.0 690.7,31.1 691.2,31.0 691.7,31.0 692.2,31.1 692.7,31.1 693.2,30.8 693.7,30.7 694.2,30.6 694.7,31.1 695.2,31.2 695.7,31.2 696.2,30.8 696.7,30.8 697.2,31.0 697.7,31.1 698.2,31.5 698.7,31.4 699.2,31.6 699.7,31.3 700.2,31.4 700.7,30.9 701.2,30.8 701.7,30.7 702.2,30.9 702.7,30.6 703.2,30.7 703.7,30.7 704.2,31.0 704.7,30.8 705.2,30.8 705.7,31.0 706.2,30.8 706.7,30.7 707.2,30.7 707.7,30.9 708.2,31.0 708.7,30.9 709.2,30.7 709.7,30.8 710.2,31.0 710.7,31.0 711.2,31.3 711.7,31.2 712.2,31.3 712.7,31.2 713.2,30.8 713.7,30.6 714.2,30.3 714.7,30.4 715.2,30.7 715.7,30.8 716.2,30.9 716.7,30.6 717.2,30.7 717.7,30.5 718.2,30.7 718.7,30.6 719.2,30.6 719.7,30.5 720.2,30.4 720.7,30.6 721.2,30.9 721.7,31.2 722.2,31.0 722.7,30.8 723.2,30.6 723.7,30.8 724.2,30.6 724.7,30.9 725.2,30.8 725.7,31.0 726.2,30.8 726.7,31.1 727.2,31.3 727.7,31.4 728.2,31.3 728.7,31.4 729.2,31.4 729.7,31.4 730.2,31.4 730.7,31.3 731.2,31.3 731.7,30.9 732.2,30.8 732.7,30.9 733.2,30.9 733.7,31.0 734.2,30.9 734.7,31.2 735.2,30.7 735.7,30.7 736.2,30.7 736.7,31.0 737.2,31.0 737.7,30.5 738.2,30.7 738.7,30.6 739.2,31.1 739.7,30.7 740.2,31.0 740.7,30.8 741.2,31.2 741.7,30.9 742.2,30.9 742.7,31.1 743.2,31.1 743.7,31.1 744.2,30.7 744.7,30.7 745.2,31.0 745.7,31.3 746.2,31.4 746.7,30.9 747.2,30.8 747.7,31.1 748.2,31.5 748.7,31.5 749.2,31.2 749.7,31.0 750.2,30.6 750.7,30.5 751.2,30.7 751.7,30.8 752.2,31.4 752.7,31.3 753.2,31.3 753.7,31.0 754.2,31.3 754.7,31.5 755.2,31.2 755.7,30.9 756.2,31.1 756.7,31.2 757.2,31.0 757.7,31.0 758.2,31.1 758.7,31.0 759.2,30.8 759.7,30.6 760.2,30.9 760.7,30.9 761.2,31.3 761.7,31.3 762.2,31.0 762.7,30.9 763.2,31.0 763.7,31.3 764.2,31.4 764.7,31.2 765.2,30.9 765.7,30.9 766.2,30.8 766.7,30.6 767.2,30.6 767.7,30.7 768.2,31.0 768.7,30.6 769.2,30.5 769.7,30.4 770.2,30.5 770.7,30.8 771.2,30.6 771.7,30.8 772.2,30.5 772.7,30.8 773.2,30.7 773.7,30.9 774.2,30.8 774.7,31.0 775.2,30.9 775.7,31.2 776.2,30.9 776.7,31.3 777.2,31.2 777.7,31.3 778.2,31.0 778.7,31.2 779.2,30.9 779.7,31.0 780.2,31.1 780.7,31.3 781.2,31.4 781.7,31.4 782.2,31.5 782.7,31.3 783.2,31.1 783.7,30.8 784.2,31.1 784.7,31.2 785.2,31.3 785.7,31.0 786.2,30.8 786.7,30.9 787.2,30.9 787.7,30.9 788.2,30.6 788.7,30.7 789.2,30.5 789.7,30.8 790.2,30.9 790.7,30.8 791.2,30.9 791.7,30.9 792.2,31.0 792.7,30.6 793.2,30.5 793.7,30.6 794.2,30.7 794.7,30.9 795.2,31.0 795.7,31.4 796.2,31.6 796.7,31.4 797.2,31.0 797.7,30.9 798.2,31.0 798.7,31.4 799.2,31.2 799.7,31.4 800.2,31.3 800.7,31.5 801.2,31.3 801.7,31.3 802.2,31.2 802.7,31.1 803.2,31.2 803.7,31.1 804.2,31.4 804.7,31.2 805.2,31.4 805.7,31.1 806.2,31.1 806.7,31.3 807.2,31.2 807.7,31.1 808.2,30.6 808.7,30.6 809.2,31.2 809.7,31.3 810.2,31.6 810.7,31.0 811.2,31.0 811.7,31.0 812.2,31.5 812.7,31.3 813.2,31.3 813.7,31.0 814.2,31.0 814.7,30.9 815.2,30.8 815.7,30.6 816.2,30.7 816.7,30.8 817.2,31.1 817.7,30.8 818.2,31.0 818.7,31.1 819.2,31.5 819.7,31.5 820.2,31.3 820.7,31.3 821.2,31.0 821.7,31.1 822.2,30.9 822.7,31.0 823.2,31.2 823.7,31.2 824.2,31.2 824.7,30.9 825.2,31.0 825.7,30.9 826.2,30.8 826.7,30.8 827.2,30.8 827.7,30.9 828.2,30.8 828.7,31.2 829.2,31.5 829.7,31.6 830.2,31.3 830.7,31.4 831.2,31.4 831.7,31.4 832.2,31.2 832.7,31.3 833.2,31.7 833.7,31.9 834.2,32.6 834.7,32.8 835.2,33.8 835.7,36.0 836.2,40.0 836.7,43.5 837.2,47.2 837.7,50.7 838.2,54.1 838.7,56.6 839.2,59.0 839.7,61.3 840.2,64.2 840.7,66.9 841.2,69.6 841.7,72.1 842.2,74.6 842.7,77.1 843.2,80.0 843.7,82.7 844.2,84.4 844.7,86.2 845.2,87.7 845.7,90.0 846.2,91.8 846.7,93.7 847.2,95.3 847.7,97.5 848.2,99.4 848.7,101.5 849.2,103.3 849.7,105.2 850.2,107.1 850.7,109.4 851.2,111.7 851.7,114.3 852.2,116.6 852.7,119.1 853.2,121.2 853.7,123.2 854.2,125.6 854.7,128.3 855.2,130.4 855.7,131.7 856.2,133.1 856.7,134.8 857.2,136.5 857.7,138.3 858.2,139.9 858.7,141.7 859.2,143.6 859.7,145.4 860.2,147.3 860.7,149.0 861.2,151.0 861.7,152.6 862.2,154.1 862.7,155.3 863.2,157.1 863.7,158.7 864.2,160.1 864.7,161.3 865.2,162.8 865.7,164.5 866.2,166.3 866.7,167.9 867.2,169.2 867.7,170.3 868.2,171.4 868.7,172.9 869.2,174.5 869.7,176.6 870.2,177.8 870.7,178.6 871.2,179.1 871.7,180.2 872.2,181.4 872.7,182.5 873.2,183.5 873.7,184.9 874.2,186.1 874.7,187.1 875.2,188.3 875.7,189.4 876.2,190.5 876.7,191.3 877.2,192.3 877.7,193.6 878.2,194.7 878.7,195.9 879.2,197.0 879.7,198.3 880.2,199.5 880.7,200.2 881.2,201.3 881.7,202.2 882.2,203.3 882.7,203.6 883.2,204.1 883.7,205.0 884.2,206.5 884.7,207.5 885.2,208.4 885.7,208.8 886.2,209.6 886.7,210.2 887.2,211.2 887.7,211.8 888.2,212.8 888.7,213.8 889.2,214.7 889.7,215.1 890.2,215.8 890.7,216.7 891.2,217.4 891.7,218.3 892.2,219.3 892.7,220.4 893.2,221.5 893.7,222.3 894.2,223.1 894.7,223.6 895.2,224.1 895.7,224.9 896.2,225.7 896.7,226.5 897.2,227.3 897.7,228.3 898.2,229.2 898.7,230.2 899.2,230.8 899.7,231.4 900.2,232.3 900.7,233.0 901.2,233.9 901.7,234.3 902.2,235.0 902.7,235.2 903.2,236.1 903.7,236.9 904.2,238.2 904.7,238.9 905.2,239.5 905.7,240.0 906.2,240.7 906.7,241.3 907.2,242.1 907.7,242.7 908.2,243.6 908.7,244.8 908.7,280.6 908.2,281.7 907.7,282.4 907.2,282.8 906.7,282.9 906.2,283.1 905.7,283.4 905.2,283.9 904.7,284.2 904.2,284.1 903.7,284.0 903.2,283.6 902.7,283.1 902.2,282.5 901.7,282.0 901.2,281.5 900.7,281.0 900.2,280.6 899.7,279.8 899.2,278.9 898.7,278.2 898.2,277.4 897.7,276.5 897.2,275.5 896.7,274.9 896.2,274.1 895.7,273.1 895.2,272.1 894.7,271.5 894.2,271.2 893.7,270.9 893.2,269.9 892.7,269.1 892.2,268.2 891.7,267.7 891.2,266.8 890.7,266.1 890.2,265.2 889.7,264.7 889.2,263.7 888.7,263.0 888.2,261.9 887.7,261.2 887.2,260.4 886.7,260.1 886.2,259.1 885.7,258.8 885.2,257.4 884.7,256.8 884.2,255.5 883.7,254.7 883.2,253.9 882.7,253.0 882.2,252.4 881.7,251.5 881.2,250.8 880.7,249.9 880.2,249.1 879.7,247.9 879.2,247.0 878.7,246.1 878.2,245.6 877.7,244.9 877.2,244.6 876.7,243.6 876.2,242.7 875.7,241.4 875.2,241.0 874.7,240.2 874.2,239.4 873.7,238.5 873.2,237.2 872.7,235.8 872.2,234.5 871.7,233.6 871.2,232.6 870.7,231.5 870.2,230.3 869.7,229.2 869.2,228.1 868.7,227.0 868.2,226.2 867.7,225.3 867.2,224.9 866.7,223.8 866.2,222.5 865.7,221.0 865.2,219.6 864.7,218.3 864.2,217.2 863.7,216.0 863.2,215.2 862.7,214.2 862.2,213.3 861.7,211.7 861.2,210.0 860.7,208.7 860.2,207.3 859.7,205.8 859.2,204.1 858.7,202.6 858.2,201.5 857.7,200.0 857.2,198.5 856.7,197.0 856.2,195.7 855.7,194.0 855.2,192.5 854.7,190.8 854.2,189.4 853.7,188.0 853.2,186.4 852.7,184.4 852.2,182.2 851.7,180.5 851.2,179.0 850.7,177.8 850.2,176.0 849.7,174.3 849.2,172.3 848.7,170.9 848.2,168.8 847.7,166.9 847.2,164.8 846.7,162.6 846.2,160.5 845.7,158.5 845.2,156.4 844.7,154.1 844.2,151.2 843.7,148.6 843.2,146.4 842.7,144.5 842.2,142.4 841.7,140.3 841.2,138.1 840.7,136.2 840.2,134.3 839.7,132.6 839.2,130.7 838.7,128.7 838.2,126.8 837.7,124.9 837.2,123.0 836.7,121.2 836.2,119.3 835.7,117.6 835.2,114.8 834.7,112.2 834.2,109.8 833.7,107.4 833.2,104.6 832.7,101.7 832.2,99.0 831.7,96.5 831.2,93.9 830.7,90.9 830.2,88.3 829.7,85.1 829.2,81.8 828.7,77.8 828.2,74.4 827.7,72.9 827.2,72.8 826.7,72.5 826.2,72.7 825.7,72.9 825.2,72.9 824.7,72.9 824.2,72.8 823.7,72.9 823.2,73.0 822.7,73.2 822.2,73.0 821.7,73.0 821.2,73.0 820.7,73.4 820.2,73.4 819.7,73.6 819.2,73.4 818.7,73.4 818.2,72.8 817.7,72.6 817.2,72.4 816.7,73.1 816.2,72.9 815.7,73.1 815.2,73.2 814.7,73.5 814.2,73.6 813.7,73.3 813.2,73.2 812.7,73.3 812.2,73.2 811.7,73.5 811.2,73.5 810.7,73.5 810.2,73.2 809.7,72.8 809.2,72.8 808.7,72.8 808.2,72.9 807.7,73.1 807.2,73.0 806.7,73.2 806.2,73.2 805.7,73.1 805.2,73.0 804.7,73.0 804.2,73.0 803.7,73.0 803.2,72.7 802.7,72.8 802.2,72.9 801.7,73.3 801.2,73.1 800.7,73.1 800.2,72.7 799.7,73.0 799.2,73.0 798.7,73.1 798.2,73.2 797.7,73.1 797.2,73.1 796.7,72.8 796.2,72.6 795.7,72.4 795.2,72.6 794.7,72.7 794.2,72.9 793.7,73.2 793.2,73.0 792.7,73.0 792.2,72.7 791.7,72.9 791.2,73.1 790.7,73.2 790.2,73.2 789.7,73.2 789.2,73.4 788.7,73.4 788.2,73.5 787.7,72.8 787.2,73.2 786.7,73.0 786.2,73.0 785.7,72.6 785.2,72.5 784.7,72.9 784.2,72.6 783.7,72.5 783.2,72.8 782.7,73.1 782.2,73.3 781.7,72.8 781.2,72.9 780.7,73.2 780.2,73.3 779.7,73.2 779.2,72.6 778.7,72.8 778.2,73.0 777.7,72.9 777.2,72.9 776.7,72.9 776.2,73.2 775.7,73.4 775.2,73.2 774.7,73.4 774.2,73.4 773.7,73.4 773.2,73.3 772.7,73.1 772.2,73.1 771.7,73.3 771.2,73.2 770.7,73.2 770.2,73.0 769.7,73.1 769.2,73.0 768.7,73.1 768.2,73.0 767.7,73.1 767.2,72.8 766.7,72.8 766.2,72.5 765.7,72.6 765.2,72.7 764.7,73.1 764.2,72.9 763.7,72.7 763.2,72.6 762.7,72.6 762.2,72.7 761.7,72.6 761.2,72.6 760.7,72.9 760.2,73.1 759.7,73.3 759.2,73.3 758.7,73.0 758.2,73.3 757.7,73.4 757.2,73.6 756.7,73.4 756.2,73.3 755.7,73.0 755.2,72.8 754.7,72.7 754.2,72.7 753.7,72.6 753.2,72.2 752.7,72.4 752.2,72.6 751.7,73.0 751.2,73.1 750.7,73.1 750.2,73.1 749.7,73.2 749.2,73.4 748.7,73.6 748.2,73.6 747.7,73.4 747.2,73.4 746.7,73.5 746.2,73.6 745.7,73.4 745.2,72.9 744.7,72.7 744.2,72.7 743.7,72.9 743.2,72.9 742.7,72.9 742.2,72.8 741.7,73.1 741.2,73.1 740.7,73.1 740.2,72.5 739.7,72.7 739.2,72.7 738.7,73.1 738.2,73.4 737.7,73.5 737.2,73.4 736.7,72.9 736.2,72.9 735.7,73.0 735.2,72.9 734.7,72.8 734.2,72.7 733.7,73.0 733.2,73.1 732.7,73.0 732.2,72.9 731.7,72.9 731.2,73.0 730.7,72.9 730.2,73.1 729.7,72.9 729.2,72.8 728.7,72.6 728.2,72.6 727.7,72.5 727.2,72.6 726.7,72.9 726.2,73.0 725.7,73.1 725.2,72.7 724.7,72.8 724.2,72.7 723.7,72.9 723.2,73.1 722.7,73.0 722.2,73.0 721.7,72.9 721.2,73.0 720.7,73.1 720.2,73.1 719.7,73.2 719.2,73.0 718.7,73.1 718.2,72.9 717.7,73.0 717.2,72.8 716.7,73.0 716.2,73.1 715.7,73.6 715.2,73.3 714.7,73.0 714.2,72.5 713.7,73.0 713.2,73.2 712.7,73.4 712.2,73.2 711.7,73.2 711.2,73.4 710.7,73.2 710.2,73.0 709.7,72.3 709.2,72.2 708.7,72.2 708.2,72.9 707.7,73.5 707.2,73.8 706.7,73.8 706.2,73.1 705.7,72.9 705.2,72.5 704.7,72.5 704.2,72.5 703.7,72.8 703.2,73.1 702.7,72.9 702.2,72.6 701.7,72.5 701.2,72.8 700.7,73.1 700.2,73.5 699.7,73.4 699.2,73.4 698.7,73.2 698.2,73.5 697.7,73.4 697.2,73.1 696.7,73.2 696.2,73.1 695.7,73.0 695.2,72.8 694.7,73.1 694.2,73.3 693.7,73.2 693.2,73.1 692.7,72.9 692.2,73.1 691.7,73.1 691.2,73.4 690.7,73.0 690.2,72.9 689.7,72.7 689.2,72.8 688.7,72.9 688.2,72.9 687.7,73.0 687.2,73.2 686.7,73.3 686.2,72.9 685.7,72.7 685.2,72.1 684.7,72.3 684.2,72.3 683.7,72.9 683.2,73.1 682.7,72.9 682.2,72.8 681.7,72.7 681.2,72.8 680.7,73.0 680.2,73.0 679.7,73.2 679.2,72.9 678.7,73.2 678.2,73.3 677.7,73.2 677.2,73.1 676.7,73.0 676.2,73.1 675.7,73.0 675.2,72.9 674.7,72.9 674.2,72.9 673.7,72.6 673.2,72.9 672.7,73.0 672.2,73.4 671.7,73.2 671.2,72.9 670.7,72.8 670.2,72.9 669.7,72.9 669.2,73.0 668.7,73.1 668.2,73.1 667.7,73.2 667.2,72.8 666.7,72.8 666.2,72.8 665.7,72.8 665.2,72.7 664.7,72.7 664.2,72.9 663.7,72.9 663.2,73.1 662.7,73.2 662.2,73.6 661.7,73.7 661.2,73.4 660.7,72.8 660.2,72.4 659.7,72.5 659.2,72.8 658.7,72.9 658.2,72.8 657.7,73.0 657.2,73.0 656.7,73.3 656.2,73.2 655.7,73.5 655.2,73.2 654.7,73.4 654.2,73.5 653.7,73.3 653.2,73.3 652.7,73.0 652.2,73.0 651.7,72.9 651.2,73.3 650.7,73.6 650.2,73.4 649.7,72.9 649.2,72.5 648.7,72.9 648.2,73.0 647.7,73.1 647.2,72.8 646.7,72.9 646.2,72.7 645.7,72.6 645.2,72.5 644.7,73.0 644.2,72.9 643.7,72.9 643.2,72.7 642.7,72.6 642.2,72.9 641.7,73.1 641.2,73.7 640.7,73.8 640.2,73.3 639.7,73.0 639.2,72.8 638.7,73.2 638.2,73.2 637.7,73.2 637.2,73.1 636.7,73.0 636.2,73.0 635.7,72.8 635.2,73.1 634.7,72.9 634.2,73.2 633.7,72.8 633.2,72.7 632.7,72.8 632.2,73.0 631.7,73.0 631.2,73.4 630.7,73.3 630.2,73.3 629.7,72.6 629.2,72.3 628.7,72.4 628.2,72.8 627.7,72.8 627.2,73.0 626.7,72.7 626.2,73.1 625.7,73.1 625.2,73.1 624.7,72.9 624.2,72.8 623.7,73.0 623.2,72.7 622.7,72.6 622.2,72.2 621.7,72.4 621.2,72.8 620.7,73.4 620.2,73.4 619.7,73.2 619.2,72.8 618.7,72.6 618.2,72.7 617.7,72.7 617.2,72.9 616.7,72.7 616.2,72.6 615.7,72.6 615.2,72.7 614.7,72.9 614.2,73.2 613.7,73.0 613.2,73.1 612.7,72.7 612.2,72.9 611.7,72.5 611.2,72.5 610.7,72.5 610.2,72.7 609.7,73.1 609.2,72.9 608.7,73.2 608.2,73.1 607.7,73.5 607.2,73.3 606.7,73.5 606.2,73.4 605.7,73.4 605.2,73.3 604.7,73.3 604.2,73.0 603.7,73.1 603.2,73.0 602.7,73.1 602.2,72.8 601.7,72.6 601.2,72.8 600.7,73.2 600.2,73.4 599.7,73.1 599.2,73.2 598.7,72.9 598.2,73.3 597.7,73.2 597.2,73.4 596.7,73.1 596.2,73.0 595.7,72.9 595.2,73.3 594.7,73.5 594.2,73.3 593.7,72.9 593.2,72.3 592.7,72.7 592.2,72.8 591.7,73.2 591.2,73.1 590.7,73.1 590.2,72.9 589.7,72.9 589.2,72.7 588.7,73.1 588.2,73.1 587.7,73.3 587.2,73.2 586.7,73.2 586.2,72.9 585.7,72.8 585.2,73.0 584.7,73.3 584.2,73.1 583.7,73.2 583.2,72.8 582.7,73.1 582.2,72.9 581.7,73.0 581.2,73.0 580.7,73.2 580.2,73.2 579.7,73.4 579.2,73.4 578.7,73.4 578.2,73.0 577.7,73.3 577.2,73.2 576.7,73.3 576.2,72.6 575.7,72.5 575.2,72.9 574.7,73.0 574.2,73.2 573.7,72.8 573.2,73.3 572.7,73.3 572.2,73.6 571.7,73.2 571.2,73.0 570.7,73.1 570.2,73.3 569.7,73.3 569.2,72.9 568.7,72.8 568.2,73.3 567.7,73.0 567.2,73.1 566.7,72.3 566.2,72.0 565.7,71.1 565.2,70.7 564.7,68.9Z" fill="#ff0000"/>
<path d="M564.7,50.2 565.2,48.3 565.7,47.6 566.2,47.1 566.7,46.7 567.2,46.5 567.7,46.3 568.2,46.2 568.7,46.2 569.2,46.2 569.7,46.2 570.2,46.2 570.7,46.2 571.2,46.2 571.7,46.2 572.2,46.2 572.7,46.2 573.2,46.2 573.7,46.2 574.2,46.2 574.7,46.2 575.2,46.2 575.7,46.2 576.2,46.2 576.7,46.2 577.2,46.2 577.7,46.2 578.2,46.2 578.7,46.2 579.2,46.2 579.7,46.2 580.2,46.2 580.7,46.2 581.2,46.2 581.7,46.2 582.2,46.2 582.7,46.2 583.2,46.2 583.7,46.2 584.2,46.2 584.7,46.2 585.2,46.2 585.7,46.2 586.2,46.2 586.7,46.2 587.2,46.2 587.7,46.2 588.2,46.2 588.7,46.2 589.2,46.2 589.7,46.2 590.2,46.2 590.7,46.2 591.2,46.2 591.7,46.2 592.2,46.2 592.7,46.2 593.2,46.2 593.7,46.2 594.2,46.2 594.7,46.2 595.2,46.2 595.7,46.2 596.2,46.2 596.7,46.2 597.2,46.2 597.7,46.2 598.2,46.2 598.7,46.2 599.2,46.2 599.7,46.2 600.2,46.2 600.7,46.2 601.2,46.2 601.7,46.2 602.2,46.2 602.7,46.2 603.2,46.2 603.7,46.2 604.2,46.2 604.7,46.2 605.2,46.2 605.7,46.2 606.2,46.2 606.7,46.2 607.2,46.2 607.7,46.2 608.2,46.2 608.7,46.2 609.2,46.2 609.7,46.2 610.2,46.2 610.7,46.2 611.2,46.2 611.7,46.2 612.2,46.2 612.7,46.2 613.2,46.2 613.7,46.2 614.2,46.2 614.7,46.2 615.2,46.2 615.7,46.2 616.2,46.2 616.7,46.2 617.2,46.2 617.7,46.2 618.2,46.2 618.7,46.2 619.2,46.2 619.7,46.2 620.2,46.2 620.7,46.2 621.2,46.2 621.7,46.2 622.2,46.2 622.7,46.2 623.2,46.2 623.7,46.2 624.2,46.2 624.7,46.2 625.2,46.2 625.7,46.2 626.2,46.2 626.7,46.2 627.2,46.2 627.7,46.2 628.2,46.2 628.7,46.2 629.2,46.2 629.7,46.2 630.2,46.2 630.7,46.2 631.2,46.2 631.7,46.2 632.2,46.2 632.7,46.2 633.2,46.2 633.7,46.2 634.2,46.2 634.7,46.2 635.2,46.2 635.7,46.2 636.2,46.2 636.7,46.2 637.2,46.2 637.7,46.2 638.2,46.2 638.7,46.2 639.2,46.2 639.7,46.2 640.2,46.2 640.7,46.2 641.2,46.2 641.7,46.2 642.2,46.2 642.7,46.2 643.2,46.2 643.7,46.2 644.2,46.2 644.7,46.2 645.2,46.2 645.7,46.2 646.2,46.2 646.7,46.2 647.2,46.2 647.7,46.2 648.2,46.2 648.7,46.2 649.2,46.2 649.7,46.2 650.2,46.2 650.7,46.2 651.2,46.2 651.7,46.2 652.2,46.2 652.7,46.2 653.2,46.2 653.7,46.2 654.2,46.2 654.7,46.2 655.2,46.2 655.7,46.2 656.2,46.2 656.7,46.2 657.2,46.2 657.7,46.2 658.2,46.2 658.7,46.2 659.2,46.2 659.7,46.2 660.2,46.2 660.7,46.2 661.2,46.2 661.7,46.2 662.2,46.2 662.7,46.2 663.2,46.2 663.7,46.2 664.2,46.2 664.7,46.2 665.2,46.2 665.7,46.2 666.2,46.2 666.7,46.2 667.2,46.2 667.7,46.2 668.2,46.2 668.7,46.2 669.2,46.2 669.7,46.2 670.2,46.2 670.7,46.2 671.2,46.2 671.7,46.2 672.2,46.2 672.7,46.2 673.2,46.2 673.7,46.2 674.2,46.2 674.7,46.2 675.2,46.2 675.7,46.2 676.2,46.2 676.7,46.2 677.2,46.2 677.7,46.2 678.2,46.2 678.7,46.2 679.2,46.2 679.7,46.2 680.2,46.2 680.7,46.2 681.2,46.2 681.7,46.2 682.2,46.2 682.7,46.2 683.2,46.2 683.7,46.2 684.2,46.2 684.7,46.2 685.2,46.2 685.7,46.2 686.2,46.2 686.7,46.2 687.2,46.2 687.7,46.2 688.2,46.2 688.7,46.2 689.2,46.2 689.7,46.2 690.2,46.2 690.7,46.2 691.2,46.2 691.7,46.2 692.2,46.2 692.7,46.2 693.2,46.2 693.7,46.2 694.2,46.2 694.7,46.2 695.2,46.2 695.7,46.2 696.2,46.2 696.7,46.2 697.2,46.2 697.7,46.2 698.2,46.2 698.7,46.2 699.2,46.2 699.7,46.2 700.2,46.2 700.7,46.2 701.2,46.2 701.7,46.2 702.2,46.2 702.7,46.2 703.2,46.2 703.7,46.2 704.2,46.2 704.7,46.2 705.2,46.2 705.7,46.2 706.2,46.2 706.7,46.2 707.2,46.2 707.7,46.2 708.2,46.2 708.7,46.2 709.2,46.2 709.7,46.2 710.2,46.2 710.7,46.2 711.2,46.2 711.7,46.2 712.2,46.2 712.7,46.2 713.2,46.2 713.7,46.2 714.2,46.2 714.7,46.2 715.2,46.2 715.7,46.2 716.2,46.2 716.7,46.2 717.2,46.2 717.7,46.2 718.2,46.2 718.7,46.2 719.2,46.2 719.7,46.2 720.2,46.2 720.7,46.2 721.2,46.2 721.7,46.2 722.2,46.2 722.7,46.2 723.2,46.2 723.7,46.2 724.2,46.2 724.7,46.2 725.2,46.2 725.7,46.2 726.2,46.2 726.7,46.2 727.2,46.2 727.7,46.2 728.2,46.2 728.7,46.2 729.2,46.2 729.7,46.2 730.2,46.2 730.7,46.2 731.2,46.2 731.7,46.2 732.2,46.2 732.7,46.2 733.2,46.2 733.7,46.2 734.2,46.2 734.7,46.2 735.2,46.2 735.7,46.2 736.2,46.2 736.7,46.2 737.2,46.2 737.7,46.2 738.2,46.2 738.7,46.2 739.2,46.2 739.7,46.2 740.2,46.2 740.7,46.2 741.2,46.2 741.7,46.2 742.2,46.2 742.7,46.2 743.2,46.2 743.7,46.2 744.2,46.2 744.7,46.2 745.2,46.2 745.7,46.2 746.2,46.2 746.7,46.2 747.2,46.2 747.7,46.2 748.2,46.2 748.7,46.2 749.2,46.2 749.7,46.2 750.2,46.2 750.7,46.2 751.2,46.2 751.7,46.2 752.2,46.2 752.7,46.2 753.2,46.2 753.7,46.2 754.2,46.2 754.7,46.2 755.2,46.2 755.7,46.2 756.2,46.2 756.7,46.2 757.2,46.2 757.7,46.2 758.2,46.2 758.7,46.2 759.2,46.2 759.7,46.2 760.2,46.2 760.7,46.2 761.2,46.2 761.7,46.2 762.2,46.2 762.7,46.2 763.2,46.2 763.7,46.2 764.2,46.2 764.7,46.2 765.2,46.2 765.7,46.2 766.2,46.2 766.7,46.2 767.2,46.2 767.7,46.2 768.2,46.2 768.7,46.2 769.2,46.2 769.7,46.2 770.2,46.2 770.7,46.2 771.2,46.2 771.7,46.2 772.2,46.2 772.7,46.2 773.2,46.2 773.7,46.2 774.2,46.2 774.7,46.2 775.2,46.2 775.7,46.2 776.2,46.2 776.7,46.2 777.2,46.2 777.7,46.2 778.2,46.2 778.7,46.2 779.2,46.2 779.7,46.2 780.2,46.2 780.7,46.2 781.2,46.2 781.7,46.2 782.2,46.2 782.7,46.2 783.2,46.2 783.7,46.2 784.2,46.2 784.7,46.2 785.2,46.2 785.7,46.2 786.2,46.2 786.7,46.2 787.2,46.2 787.7,46.2 788.2,46.2 788.7,46.2 789.2,46.2 789.7,46.2 790.2,46.2 790.7,46.2 791.2,46.2 791.7,46.2 792.2,46.2 792.7,46.2 793.2,46.2 793.7,46.2 794.2,46.2 794.7,46.2 795.2,46.2 795.7,46.2 796.2,46.2 796.7,46.2 797.2,46.2 797.7,46.2 798.2,46.2 798.7,46.2 799.2,46.2 799.7,46.2 800.2,46.2 800.7,46.2 801.2,46.2 801.7,46.2 802.2,46.2 802.7,46.2 803.2,46.2 803.7,46.2 804.2,46.2 804.7,46.2 805.2,46.2 805.7,46.2 806.2,46.2 806.7,46.2 807.2,46.2 807.7,46.2 808.2,46.2 808.7,46.2 809.2,46.2 809.7,46.2 810.2,46.2 810.7,46.2 811.2,46.2 811.7,46.2 812.2,46.2 812.7,46.2 813.2,46.2 813.7,46.2 814.2,46.2 814.7,46.2 815.2,46.2 815.7,46.2 816.2,46.2 816.7,46.2 817.2,46.2 817.7,46.2 818.2,46.2 818.7,46.2 819.2,46.2 819.7,46.2 820.2,46.2 820.7,46.2 821.2,46.2 821.7,46.2 822.2,46.2 822.7,46.2 823.2,46.2 823.7,46.2 824.2,46.2 824.7,46.2 825.2,46.2 825.7,46.2 826.2,46.2 826.7,46.2 827.2,46.2 827.7,46.2 828.2,46.2 828.7,46.2 829.2,46.2 829.7,46.2 830.2,46.2 830.7,46.2 831.2,46.2 831.7,46.2 832.2,46.3 832.7,46.4 833.2,46.6 833.7,46.9 834.2,47.2 834.7,47.8 835.2,48.7 835.7,51.4 836.2,55.0 836.7,58.6 837.2,62.2 837.7,65.8 838.2,68.9 838.7,71.6 839.2,74.3 839.7,76.9 840.2,79.6 840.7,82.3 841.2,84.9 841.7,87.5 842.2,90.1 842.7,92.6 843.2,95.3 843.7,97.7 844.2,99.6 844.7,101.5 845.2,103.3 845.7,105.2 846.2,107.1 846.7,109.0 847.2,110.9 847.7,112.8 848.2,114.7 848.7,116.6 849.2,118.5 849.7,120.4 850.2,122.5 850.7,124.8 851.2,127.1 851.7,129.4 852.2,131.7 852.7,133.9 853.2,136.2 853.7,138.5 854.2,140.8 854.7,143.1 855.2,145.2 855.7,147.0 856.2,148.7 856.7,150.4 857.2,152.1 857.7,153.9 858.2,155.6 858.7,157.3 859.2,159.0 859.7,160.8 860.2,162.5 860.7,164.2 861.2,165.9 861.7,167.7 862.2,169.2 862.7,170.7 863.2,172.2 863.7,173.6 864.2,175.1 864.7,176.6 865.2,178.1 865.7,179.5 866.2,181.0 866.7,182.5 867.2,183.9 867.7,185.4 868.2,186.9 868.7,188.3 869.2,189.8 869.7,191.3 870.2,192.5 870.7,193.6 871.2,194.7 871.7,195.8 872.2,196.9 872.7,198.0 873.2,199.2 873.7,200.3 874.2,201.4 874.7,202.5 875.2,203.6 875.7,204.7 876.2,205.8 876.7,206.9 877.2,208.0 877.7,209.1 878.2,210.2 878.7,211.3 879.2,212.4 879.7,213.5 880.2,214.6 880.7,215.6 881.2,216.4 881.7,217.2 882.2,218.1 882.7,218.9 883.2,219.7 883.7,220.6 884.2,221.4 884.7,222.2 885.2,223.1 885.7,223.9 886.2,224.7 886.7,225.5 887.2,226.4 887.7,227.2 888.2,228.0 888.7,228.9 889.2,229.7 889.7,230.5 890.2,231.4 890.7,232.2 891.2,233.0 891.7,233.9 892.2,234.7 892.7,235.5 893.2,236.4 893.7,237.2 894.2,238.0 894.7,238.8 895.2,239.6 895.7,240.3 896.2,241.1 896.7,241.8 897.2,242.6 897.7,243.3 898.2,244.1 898.7,244.8 899.2,245.6 899.7,246.3 900.2,247.1 900.7,247.8 901.2,248.6 901.7,249.3 902.2,250.1 902.7,250.8 903.2,251.6 903.7,252.3 904.2,253.1 904.7,253.8 905.2,254.6 905.7,255.3 906.2,256.1 906.7,256.8 907.2,257.6 907.7,258.3 908.2,259.1 908.7,260.3 908.7,265.7 908.2,266.9 907.7,267.6 907.2,268.0 906.7,268.3 906.2,268.5 905.7,268.7 905.2,268.8 904.7,268.8 904.2,268.8 903.7,268.6 903.2,268.5 902.7,268.2 902.2,267.8 901.7,267.3 901.2,266.6 900.7,265.9 900.2,265.1 899.7,264.4 899.2,263.6 898.7,262.9 898.2,262.1 897.7,261.4 897.2,260.6 896.7,259.9 896.2,259.1 895.7,258.4 895.2,257.6 894.7,256.9 894.2,256.1 893.7,255.4 893.2,254.6 892.7,253.9 892.2,253.1 891.7,252.4 891.2,251.6 890.7,250.9 890.2,250.1 889.7,249.4 889.2,248.6 888.7,247.9 888.2,247.1 887.7,246.3 887.2,245.5 886.7,244.7 886.2,243.8 885.7,243.0 885.2,242.2 884.7,241.3 884.2,240.5 883.7,239.7 883.2,238.9 882.7,238.0 882.2,237.2 881.7,236.4 881.2,235.5 880.7,234.7 880.2,233.9 879.7,233.0 879.2,232.2 878.7,231.4 878.2,230.5 877.7,229.7 877.2,228.9 876.7,228.0 876.2,227.2 875.7,226.4 875.2,225.5 874.7,224.7 874.2,223.9 873.7,223.0 873.2,222.1 872.7,221.0 872.2,219.9 871.7,218.8 871.2,217.7 870.7,216.6 870.2,215.5 869.7,214.4 869.2,213.3 868.7,212.2 868.2,211.1 867.7,210.0 867.2,208.9 866.7,207.8 866.2,206.7 865.7,205.6 865.2,204.5 864.7,203.4 864.2,202.3 863.7,201.2 863.2,200.1 862.7,199.0 862.2,197.7 861.7,196.2 861.2,194.7 860.7,193.3 860.2,191.8 859.7,190.3 859.2,188.8 858.7,187.4 858.2,185.9 857.7,184.4 857.2,183.0 856.7,181.5 856.2,180.0 855.7,178.6 855.2,177.1 854.7,175.6 854.2,174.1 853.7,172.4 853.2,170.7 852.7,168.9 852.2,167.2 851.7,165.5 851.2,163.8 850.7,162.0 850.2,160.3 849.7,158.6 849.2,156.9 848.7,155.1 848.2,153.4 847.7,151.7 847.2,149.8 846.7,147.5 846.2,145.2 845.7,143.0 845.2,140.7 844.7,138.4 844.2,136.1 843.7,133.8 843.2,131.5 842.7,129.2 842.2,126.9 841.7,125.0 841.2,123.1 840.7,121.2 840.2,119.3 839.7,117.4 839.2,115.5 838.7,113.6 838.2,111.8 837.7,109.9 837.2,108.0 836.7,106.1 836.2,104.2 835.7,102.2 835.2,99.6 834.7,97.0 834.2,94.4 833.7,91.8 833.2,89.2 832.7,86.6 832.2,84.0 831.7,81.3 831.2,78.6 830.7,75.9 830.2,73.2 829.7,69.9 829.2,66.3 828.7,62.7 828.2,59.1 827.7,57.8 827.2,57.8 826.7,57.8 826.2,57.8 825.7,57.8 825.2,57.8 824.7,57.8 824.2,57.8 823.7,57.8 823.2,57.8 822.7,57.8 822.2,57.8 821.7,57.8 821.2,57.8 820.7,57.8 820.2,57.8 819.7,57.8 819.2,57.8 818.7,57.8 818.2,57.8 817.7,57.8 817.2,57.8 816.7,57.8 816.2,57.8 815.7,57.8 815.2,57.8 814.7,57.8 814.2,57.8 813.7,57.8 813.2,57.8 812.7,57.8 812.2,57.8 811.7,57.8 811.2,57.8 810.7,57.8 810.2,57.8 809.7,57.8 809.2,57.8 808.7,57.8 808.2,57.8 807.7,57.8 807.2,57.8 806.7,57.8 806.2,57.8 805.7,57.8 805.2,57.8 804.7,57.8 804.2,57.8 803.7,57.8 803.2,57.8 802.7,57.8 802.2,57.8 801.7,57.8 801.2,57.8 800.7,57.8 800.2,57.8 799.7,57.8 799.2,57.8 798.7,57.8 798.2,57.8 797.7,57.8 797.2,57.8 796.7,57.8 796.2,57.8 795.7,57.8 795.2,57.8 794.7,57.8 794.2,57.8 793.7,57.8 793.2,57.8 792.7,57.8 792.2,57.8 791.7,57.8 791.2,57.8 790.7,57.8 790.2,57.8 789.7,57.8 789.2,57.8 788.7,57.8 788.2,57.8 787.7,57.8 787.2,57.8 786.7,57.8 786.2,57.8 785.7,57.8 785.2,57.8 784.7,57.8 784.2,57.8 783.7,57.8 783.2,57.8 782.7,57.8 782.2,57.8 781.7,57.8 781.2,57.8 780.7,57.8 780.2,57.8 779.7,57.8 779.2,57.8 778.7,57.8 778.2,57.8 777.7,57.8 777.2,57.8 776.7,57.8 776.2,57.8 775.7,57.8 775.2,57.8 774.7,57.8 774.2,57.8 773.7,57.8 773.2,57.8 772.7,57.8 772.2,57.8 771.7,57.8 771.2,57.8 770.7,57.8 770.2,57.8 769.7,57.8 769.2,57.8 768.7,57.8 768.2,57.8 767.7,57.8 767.2,57.8 766.7,57.8 766.2,57.8 765.7,57.8 765.2,57.8 764.7,57.8 764.2,57.8 763.7,57.8 763.2,57.8 762.7,57.8 762.2,57.8 761.7,57.8 761.2,57.8 760.7,57.8 760.2,57.8 759.7,57.8 759.2,57.8 758.7,57.8 758.2,57.8 757.7,57.8 757.2,57.8 756.7,57.8 756.2,57.8 755.7,57.8 755.2,57.8 754.7,57.8 754.2,57.8 753.7,57.8 753.2,57.8 752.7,57.8 752.2,57.8 751.7,57.8 751.2,57.8 750.7,57.8 750.2,57.8 749.7,57.8 749.2,57.8 748.7,57.8 748.2,57.8 747.7,57.8 747.2,57.8 746.7,57.8 746.2,57.8 745.7,57.8 745.2,57.8 744.7,57.8 744.2,57.8 743.7,57.8 743.2,57.8 742.7,57.8 742.2,57.8 741.7,57.8 741.2,57.8 740.7,57.8 740.2,57.8 739.7,57.8 739.2,57.8 738.7,57.8 738.2,57.8 737.7,57.8 737.2,57.8 736.7,57.8 736.2,57.8 735.7,57.8 735.2,57.8 734.7,57.8 734.2,57.8 733.7,57.8 733.2,57.8 732.7,57.8 732.2,57.8 731.7,57.8 731.2,57.8 730.7,57.8 730.2,57.8 729.7,57.8 729.2,57.8 728.7,57.8 728.2,57.8 727.7,57.8 727.2,57.8 726.7,57.8 726.2,57.8 725.7,57.8 725.2,57.8 724.7,57.8 724.2,57.8 723.7,57.8 723.2,57.8 722.7,57.8 722.2,57.8 721.7,57.8 721.2,57.8 720.7,57.8 720.2,57.8 719.7,57.8 719.2,57.8 718.7,57.8 718.2,57.8 717.7,57.8 717.2,57.8 716.7,57.8 716.2,57.8 715.7,57.8 715.2,57.8 714.7,57.8 714.2,57.8 713.7,57.8 713.2,57.8 712.7,57.8 712.2,57.8 711.7,57.8 711.2,57.8 710.7,57.8 710.2,57.8 709.7,57.8 709.2,57.8 708.7,57.8 708.2,57.8 707.7,57.8 707.2,57.8 706.7,57.8 706.2,57.8 705.7,57.8 705.2,57.8 704.7,57.8 704.2,57.8 703.7,57.8 703.2,57.8 702.7,57.8 702.2,57.8 701.7,57.8 701.2,57.8 700.7,57.8 700.2,57.8 699.7,57.8 699.2,57.8 698.7,57.8 698.2,57.8 697.7,57.8 697.2,57.8 696.7,57.8 696.2,57.8 695.7,57.8 695.2,57.8 694.7,57.8 694.2,57.8 693.7,57.8 693.2,57.8 692.7,57.8 692.2,57.8 691.7,57.8 691.2,57.8 690.7,57.8 690.2,57.8 689.7,57.8 689.2,57.8 688.7,57.8 688.2,57.8 687.7,57.8 687.2,57.8 686.7,57.8 686.2,57.8 685.7,57.8 685.2,57.8 684.7,57.8 684.2,57.8 683.7,57.8 683.2,57.8 682.7,57.8 682.2,57.8 681.7,57.8 681.2,57.8 680.7,57.8 680.2,57.8 679.7,57.8 679.2,57.8 678.7,57.8 678.2,57.8 677.7,57.8 677.2,57.8 676.7,57.8 676.2,57.8 675.7,57.8 675.2,57.8 674.7,57.8 674.2,57.8 673.7,57.8 673.2,57.8 672.7,57.8 672.2,57.8 671.7,57.8 671.2,57.8 670.7,57.8 670.2,57.8 669.7,57.8 669.2,57.8 668.7,57.8 668.2,57.8 667.7,57.8 667.2,57.8 666.7,57.8 666.2,57.8 665.7,57.8 665.2,57.8 664.7,57.8 664.2,57.8 663.7,57.8 663.2,57.8 662.7,57.8 662.2,57.8 661.7,57.8 661.2,57.8 660.7,57.8 660.2,57.8 659.7,57.8 659.2,57.8 658.7,57.8 658.2,57.8 657.7,57.8 657.2,57.8 656.7,57.8 656.2,57.8 655.7,57.8 655.2,57.8 654.7,57.8 654.2,57.8 653.7,57.8 653.2,57.8 652.7,57.8 652.2,57.8 651.7,57.8 651.2,57.8 650.7,57.8 650.2,57.8 649.7,57.8 649.2,57.8 648.7,57.8 648.2,57.8 647.7,57.8 647.2,57.8 646.7,57.8 646.2,57.8 645.7,57.8 645.2,57.8 644.7,57.8 644.2,57.8 643.7,57.8 643.2,57.8 642.7,57.8 642.2,57.8 641.7,57.8 641.2,57.8 640.7,57.8 640.2,57.8 639.7,57.8 639.2,57.8 638.7,57.8 638.2,57.8 637.7,57.8 637.2,57.8 636.7,57.8 636.2,57.8 635.7,57.8 635.2,57.8 634.7,57.8 634.2,57.8 633.7,57.8 633.2,57.8 632.7,57.8 632.2,57.8 631.7,57.8 631.2,57.8 630.7,57.8 630.2,57.8 629.7,57.8 629.2,57.8 628.7,57.8 628.2,57.8 627.7,57.8 627.2,57.8 626.7,57.8 626.2,57.8 625.7,57.8 625.2,57.8 624.7,57.8 624.2,57.8 623.7,57.8 623.2,57.8 622.7,57.8 622.2,57.8 621.7,57.8 621.2,57.8 620.7,57.8 620.2,57.8 619.7,57.8 619.2,57.8 618.7,57.8 618.2,57.8 617.7,57.8 617.2,57.8 616.7,57.8 616.2,57.8 615.7,57.8 615.2,57.8 614.7,57.8 614.2,57.8 613.7,57.8 613.2,57.8 612.7,57.8 612.2,57.8 611.7,57.8 611.2,57.8 610.7,57.8 610.2,57.8 609.7,57.8 609.2,57.8 608.7,57.8 608.2,57.8 607.7,57.8 607.2,57.8 606.7,57.8 606.2,57.8 605.7,57.8 605.2,57.8 604.7,57.8 604.2,57.8 603.7,57.8 603.2,57.8 602.7,57.8 602.2,57.8 601.7,57.8 601.2,57.8 600.7,57.8 600.2,57.8 599.7,57.8 599.2,57.8 598.7,57.8 598.2,57.8 597.7,57.8 597.2,57.8 596.7,57.8 596.2,57.8 595.7,57.8 595.2,57.8 594.7,57.8 594.2,57.8 593.7,57.8 593.2,57.8 592.7,57.8 592.2,57.8 591.7,57.8 591.2,57.8 590.7,57.8 590.2,57.8 589.7,57.8 589.2,57.8 588.7,57.8 588.2,57.8 587.7,57.8 587.2,57.8 586.7,57.8 586.2,57.8 585.7,57.8 585.2,57.8 584.7,57.8 584.2,57.8 583.7,57.8 583.2,57.8 582.7,57.8 582.2,57.8 581.7,57.8 581.2,57.8 580.7,57.8 580.2,57.8 579.7,57.8 579.2,57.8 578.7,57.8 578.2,57.8 577.7,57.8 577.2,57.8 576.7,57.8 576.2,57.8 575.7,57.8 575.2,57.8 574.7,57.8 574.2,57.8 573.7,57.8 573.2,57.8 572.7,57.8 572.2,57.8 571.7,57.8 571.2,57.8 570.7,57.8 570.2,57.8 569.7,57.8 569.2,57.8 568.7,57.8 568.2,57.8 567.7,57.7 567.2,57.5 566.7,57.3 566.2,56.9 565.7,56.4 565.2,55.7 564.7,53.8Z" fill="#0000ff"/>
<path d="M564.7,52.0 565.2,50.1 565.7,49.4 566.2,48.9 566.7,48.5 567.2,48.3 567.7,48.1 568.2,48.0 568.7,48.0 569.2,48.0 569.7,48.0 570.2,48.0 570.7,48.0 571.2,48.0 571.7,48.0 572.2,48.0 572.7,48.0 573.2,48.0 573.7,48.0 574.2,48.0 574.7,48.0 575.2,48.0 575.7,48.0 576.2,48.0 576.7,48.0 577.2,48.0 577.7,48.0 578.2,48.0 578.7,48.0 579.2,48.0 579.7,48.0 580.2,48.0 580.7,48.0 581.2,48.0 581.7,48.0 582.2,48.0 582.7,48.0 583.2,48.0 583.7,48.0 584.2,48.0 584.7,48.0 585.2,48.0 585.7,48.0 586.2,48.0 586.7,48.0 587.2,48.0 587.7,48.0 588.2,48.0 588.7,48.0 589.2,48.0 589.7,48.0 590.2,48.0 590.7,48.0 591.2,48.0 591.7,48.0 592.2,48.0 592.7,48.0 593.2,48.0 593.7,48.0 594.2,48.0 594.7,48.0 595.2,48.0 595.7,48.0 596.2,48.0 596.7,48.0 597.2,48.0 597.7,48.0 598.2,48.0 598.7,48.0 599.2,48.0 599.7,48.0 600.2,48.0 600.7,48.0 601.2,48.0 601.7,48.0 602.2,48.0 602.7,48.0 603.2,48.0 603.7,48.0 604.2,48.0 604.7,48.0 605.2,48.0 605.7,48.0 606.2,48.0 606.7,48.0 607.2,48.0 607.7,48.0 608.2,48.0 608.7,48.0 609.2,48.0 609.7,48.0 610.2,48.0 610.7,48.0 611.2,48.0 611.7,48.0 612.2,48.0 612.7,48.0 613.2,48.0 613.7,48.0 614.2,48.0 614.7,48.0 615.2,48.0 615.7,48.0 616.2,48.0 616.7,48.0 617.2,48.0 617.7,48.0 618.2,48.0 618.7,48.0 619.2,48.0 619.7,48.0 620.2,48.0 620.7,48.0 621.2,48.0 621.7,48.0 622.2,48.0 622.7,48.0 623.2,48.0 623.7,48.0 624.2,48.0 624.7,48.0 625.2,48.0 625.7,48.0 626.2,48.0 626.7,48.0 627.2,48.0 627.7,48.0 628.2,48.0 628.7,48.0 629.2,48.0 629.7,48.0 630.2,48.0 630.7,48.0 631.2,48.0 631.7,48.0 632.2,48.0 632.7,48.0 633.2,48.0 633.7,48.0 634.2,48.0 634.7,48.0 635.2,48.0 635.7,48.0 636.2,48.0 636.7,48.0 637.2,48.0 637.7,48.0 638.2,48.0 638.7,48.0 639.2,48.0 639.7,48.0 640.2,48.0 640.7,48.0 641.2,48.0 641.7,48.0 642.2,48.0 642.7,48.0 643.2,48.0 643.7,48.0 644.2,48.0 644.7,48.0 645.2,48.0 645.7,48.0 646.2,48.0 646.7,48.0 647.2,48.0 647.7,48.0 648.2,48.0 648.7,48.0 649.2,48.0 649.7,48.0 650.2,48.0 650.7,48.0 651.2,48.0 651.7,48.0 652.2,48.0 652.7,48.0 653.2,48.0 653.7,48.0 654.2,48.0 654.7,48.0 655.2,48.0 655.7,48.0 656.2,48.0 656.7,48.0 657.2,48.0 657.7,48.0 658.2,48.0 658.7,48.0 659.2,48.0 659.7,48.0 660.2,48.0 660.7,48.0 661.2,48.0 661.7,48.0 662.2,48.0 662.7,48.0 663.2,48.0 663.7,48.0 664.2,48.0 664.7,48.0 665.2,48.0 665.7,48.0 666.2,48.0 666.7,48.0 667.2,48.0 667.7,48.0 668.2,48.0 668.7,48.0 669.2,48.0 669.7,48.0 670.2,48.0 670.7,48.0 671.2,48.0 671.7,48.0 672.2,48.0 672.7,48.0 673.2,48.0 673.7,48.0 674.2,48.0 674.7,48.0 675.2,48.0 675.7,48.0 676.2,48.0 676.7,48.0 677.2,48.0 677.7,48.0 678.2,48.0 678.7,48.0 679.2,48.0 679.7,48.0 680.2,48.0 680.7,48.0 681.2,48.0 681.7,48.0 682.2,48.0 682.7,48.0 683.2,48.0 683.7,48.0 684.2,48.0 684.7,48.0 685.2,48.0 685.7,48.0 686.2,48.0 686.7,48.0 687.2,48.0 687.7,48.0 688.2,48.0 688.7,48.0 689.2,48.0 689.7,48.0 690.2,48.0 690.7,48.0 691.2,48.0 691.7,48.0 692.2,48.0 692.7,48.0 693.2,48.0 693.7,48.0 694.2,48.0 694.7,48.0 695.2,48.0 695.7,48.0 696.2,48.0 696.7,48.0 697.2,48.0 697.7,48.0 698.2,48.0 698.7,48.0 699.2,48.0 699.7,48.0 700.2,48.0 700.7,48.0 701.2,48.0 701.7,48.0 702.2,48.0 702.7,48.0 703.2,48.0 703.7,48.0 704.2,48.0 704.7,48.0 705.2,48.0 705.7,48.0 706.2,48.0 706.7,48.0 707.2,48.0 707.7,48.0 708.2,48.0 708.7,48.0 709.2,48.0 709.7,48.0 710.2,48.0 710.7,48.0 711.2,48.0 711.7,48.0 712.2,48.0 712.7,48.0 713.2,48.0 713.7,48.0 714.2,48.0 714.7,48.0 715.2,48.0 715.7,48.0 716.2,48.0 716.7,48.0 717.2,48.0 717.7,48.0 718.2,48.0 718.7,48.0 719.2,48.0 719.7,48.0 720.2,48.0 720.7,48.0 721.2,48.0 721.7,48.0 722.2,48.0 722.7,48.0 723.2,48.0 723.7,48.0 724.2,48.0 724.7,48.0 725.2,48.0 725.7,48.0 726.2,48.0 726.7,48.0 727.2,48.0 727.7,48.0 728.2,48.0 728.7,48.0 729.2,48.0 729.7,48.0 730.2,48.0 730.7,48.0 731.2,48.0 731.7,48.0 732.2,48.0 732.7,48.0 733.2,48.0 733.7,48.0 734.2,48.0 734.7,48.0 735.2,48.0 735.7,48.0 736.2,48.0 736.7,48.0 737.2,48.0 737.7,48.0 738.2,48.0 738.7,48.0 739.2,48.0 739.7,48.0 740.2,48.0 740.7,48.0 741.2,48.0 741.7,48.0 742.2,48.0 742.7,48.0 743.2,48.0 743.7,48.0 744.2,48.0 744.7,48.0 745.2,48.0 745.7,48.0 746.2,48.0 746.7,48.0 747.2,48.0 747.7,48.0 748.2,48.0 748.7,48.0 749.2,48.0 749.7,48.0 750.2,48.0 750.7,48.0 751.2,48.0 751.7,48.0 752.2,48.0 752.7,48.0 753.2,48.0 753.7,48.0 754.2,48.0 754.7,48.0 755.2,48.0 755.7,48.0 756.2,48.0 756.7,48.0 757.2,48.0 757.7,48.0 758.2,48.0 758.7,48.0 759.2,48.0 759.7,48.0 760.2,48.0 760.7,48.0 761.2,48.0 761.7,48.0 762.2,48.0 762.7,48.0 763.2,48.0 763.7,48.0 764.2,48.0 764.7,48.0 765.2,48.0 765.7,48.0 766.2,48.0 766.7,48.0 767.2,48.0 767.7,48.0 768.2,48.0 768.7,48.0 769.2,48.0 769.7,48.0 770.2,48.0 770.7,48.0 771.2,48.0 771.7,48.0 772.2,48.0 772.7,48.0 773.2,48.0 773.7,48.0 774.2,48.0 774.7,48.0 775.2,48.0 775.7,48.0 776.2,48.0 776.7,48.0 777.2,48.0 777.7,48.0 778.2,48.0 778.7,48.0 779.2,48.0 779.7,48.0 780.2,48.0 780.7,48.0 781.2,48.0 781.7,48.0 782.2,48.0 782.7,48.0 783.2,48.0 783.7,48.0 784.2,48.0 784.7,48.0 785.2,48.0 785.7,48.0 786.2,48.0 786.7,48.0 787.2,48.0 787.7,48.0 788.2,48.0 788.7,48.0 789.2,48.0 789.7,48.0 790.2,48.0 790.7,48.0 791.2,48.0 791.7,48.0 792.2,48.0 792.7,48.0 793.2,48.0 793.7,48.0 794.2,48.0 794.7,48.0 795.2,48.0 795.7,48.0 796.2,48.0 796.7,48.0 797.2,48.0 797.7,48.0 798.2,48.0 798.7,48.0 799.2,48.0 799.7,48.0 800.2,48.0 800.7,48.0 801.2,48.0 801.7,48.0 802.2,48.0 802.7,48.0 803.2,48.0 803.7,48.0 804.2,48.0 804.7,48.0 805.2,48.0 805.7,48.0 806.2,48.0 806.7,48.0 807.2,48.0 807.7,48.0 808.2,48.0 808.7,48.0 809.2,48.0 809.7,48.0 810.2,48.0 810.7,48.0 811.2,48.0 811.7,48.0 812.2,48.0 812.7,48.0 813.2,48.0 813.7,48.0 814.2,48.0 814.7,48.0 815.2,48.0 815.7,48.0 816.2,48.0 816.7,48.0 817.2,48.0 817.7,48.0 818.2,48.0 818.7,48.0 819.2,48.0 819.7,48.0 820.2,48.0 820.7,48.0 821.2,48.0 821.7,48.0 822.2,48.0 822.7,48.0 823.2,48.0 823.7,48.0 824.2,48.0 824.7,48.0 825.2,48.0 825.7,48.0 826.2,48.0 826.7,48.0 827.2,48.0 827.7,48.0 828.2,48.0 828.7,48.0 829.2,48.0 829.7,48.0 830.2,48.0 830.7,48.0 831.2,48.0 831.7,48.0 832.2,48.1 832.7,48.2 833.2,48.4 833.7,48.7 834.2,49.0 834.7,49.6 835.2,50.5 835.7,53.2 836.2,56.8 836.7,60.4 837.2,64.0 837.7,67.6 838.2,70.7 838.7,73.4 839.2,76.1 839.7,78.7 840.2,81.4 840.7,84.1 841.2,86.7 841.7,89.3 842.2,91.9 842.7,94.4 843.2,97.1 843.7,99.5 844.2,101.4 844.7,103.3 845.2,105.1 845.7,107.0 846.2,108.9 846.7,110.8 847.2,112.7 847.7,114.6 848.2,116.5 848.7,118.4 849.2,120.3 849.7,122.2 850.2,124.3 850.7,126.6 851.2,128.9 851.7,131.2 852.2,133.5 852.7,135.7 853.2,138.0 853.7,140.3 854.2,142.6 854.7,144.9 855.2,147.0 855.7,148.8 856.2,150.5 856.7,152.2 857.2,153.9 857.7,155.7 858.2,157.4 858.7,159.1 859.2,160.8 859.7,162.6 860.2,164.3 860.7,166.0 861.2,167.7 861.7,169.5 862.2,171.0 862.7,172.5 863.2,174.0 863.7,175.4 864.2,176.9 864.7,178.4 865.2,179.9 865.7,181.3 866.2,182.8 866.7,184.3 867.2,185.7 867.7,187.2 868.2,188.7 868.7,190.1 869.2,191.6 869.7,193.1 870.2,194.3 870.7,195.4 871.2,196.5 871.7,197.6 872.2,198.7 872.7,199.8 873.2,201.0 873.7,202.1 874.2,203.2 874.7,204.3 875.2,205.4 875.7,206.5 876.2,207.6 876.7,208.7 877.2,209.8 877.7,210.9 878.2,212.0 878.7,213.1 879.2,214.2 879.7,215.3 880.2,216.4 880.7,217.4 881.2,218.2 881.7,219.0 882.2,219.9 882.7,220.7 883.2,221.5 883.7,222.4 884.2,223.2 884.7,224.0 885.2,224.9 885.7,225.7 886.2,226.5 886.7,227.3 887.2,228.2 887.7,229.0 888.2,229.8 888.7,230.7 889.2,231.5 889.7,232.3 890.2,233.2 890.7,234.0 891.2,234.8 891.7,235.7 892.2,236.5 892.7,237.3 893.2,238.2 893.7,239.0 894.2,239.8 894.7,240.6 895.2,241.4 895.7,242.1 896.2,242.9 896.7,243.6 897.2,244.4 897.7,245.1 898.2,245.9 898.7,246.6 899.2,247.4 899.7,248.1 900.2,248.9 900.7,249.6 901.2,250.4 901.7,251.1 902.2,251.9 902.7,252.6 903.2,253.4 903.7,254.1 904.2,254.9 904.7,255.6 905.2,256.4 905.7,257.1 906.2,257.9 906.7,258.6 907.2,259.4 907.7,260.1 908.2,260.9 908.7,262.1 908.7,263.9 908.2,265.1 907.7,265.8 907.2,266.2 906.7,266.5 906.2,266.7 905.7,266.9 905.2,267.0 904.7,267.0 904.2,267.0 903.7,266.8 903.2,266.7 902.7,266.4 902.2,266.0 901.7,265.5 901.2,264.8 900.7,264.1 900.2,263.3 899.7,262.6 899.2,261.8 898.7,261.1 898.2,260.3 897.7,259.6 897.2,258.8 896.7,258.1 896.2,257.3 895.7,256.6 895.2,255.8 894.7,255.1 894.2,254.3 893.7,253.6 893.2,252.8 892.7,252.1 892.2,251.3 891.7,250.6 891.2,249.8 890.7,249.1 890.2,248.3 889.7,247.6 889.2,246.8 888.7,246.1 888.2,245.3 887.7,244.5 887.2,243.7 886.7,242.9 886.2,242.0 885.7,241.2 885.2,240.4 884.7,239.5 884.2,238.7 883.7,237.9 883.2,237.1 882.7,236.2 882.2,235.4 881.7,234.6 881.2,233.7 880.7,232.9 880.2,232.1 879.7,231.2 879.2,230.4 878.7,229.6 878.2,228.7 877.7,227.9 877.2,227.1 876.7,226.2 876.2,225.4 875.7,224.6 875.2,223.7 874.7,222.9 874.2,222.1 873.7,221.2 873.2,220.3 872.7,219.2 872.2,218.1 871.7,217.0 871.2,215.9 870.7,214.8 870.2,213.7 869.7,212.6 869.2,211.5 868.7,210.4 868.2,209.3 867.7,208.2 867.2,207.1 866.7,206.0 866.2,204.9 865.7,203.8 865.2,202.7 864.7,201.6 864.2,200.5 863.7,199.4 863.2,198.3 862.7,197.2 862.2,195.9 861.7,194.4 861.2,192.9 860.7,191.5 860.2,190.0 859.7,188.5 859.2,187.0 858.7,185.6 858.2,184.1 857.7,182.6 857.2,181.2 856.7,179.7 856.2,178.2 855.7,176.8 855.2,175.3 854.7,173.8 854.2,172.3 853.7,170.6 853.2,168.9 852.7,167.1 852.2,165.4 851.7,163.7 851.2,162.0 850.7,160.2 850.2,158.5 849.7,156.8 849.2,155.1 848.7,153.3 848.2,151.6 847.7,149.9 847.2,148.0 846.7,145.7 846.2,143.4 845.7,141.2 845.2,138.9 844.7,136.6 844.2,134.3 843.7,132.0 843.2,129.7 842.7,127.4 842.2,125.1 841.7,123.2 841.2,121.3 840.7,119.4 840.2,117.5 839.7,115.6 839.2,113.7 838.7,111.8 838.2,110.0 837.7,108.1 837.2,106.2 836.7,104.3 836.2,102.4 835.7,100.4 835.2,97.8 834.7,95.2 834.2,92.6 833.7,90.0 833.2,87.4 832.7,84.8 832.2,82.2 831.7,79.5 831.2,76.8 830.7,74.1 830.2,71.4 829.7,68.1 829.2,64.5 828.7,60.9 828.2,57.3 827.7,56.0 827.2,56.0 826.7,56.0 826.2,56.0 825.7,56.0 825.2,56.0 824.7,56.0 824.2,56.0 823.7,56.0 823.2,56.0 822.7,56.0 822.2,56.0 821.7,56.0 821.2,56.0 820.7,56.0 820.2,56.0 819.7,56.0 819.2,56.0 818.7,56.0 818.2,56.0 817.7,56.0 817.2,56.0 816.7,56.0 816.2,56.0 815.7,56.0 815.2,56.0 814.7,56.0 814.2,56.0 813.7,56.0 813.2,56.0 812.7,56.0 812.2,56.0 811.7,56.0 811.2,56.0 810.7,56.0 810.2,56.0 809.7,56.0 809.2,56.0 808.7,56.0 808.2,56.0 807.7,56.0 807.2,56.0 806.7,56.0 806.2,56.0 805.7,56.0 805.2,56.0 804.7,56.0 804.2,56.0 803.7,56.0 803.2,56.0 802.7,56.0 802.2,56.0 801.7,56.0 801.2,56.0 800.7,56.0 800.2,56.0 799.7,56.0 799.2,56.0 798.7,56.0 798.2,56.0 797.7,56.0 797.2,56.0 796.7,56.0 796.2,56.0 795.7,56.0 795.2,56.0 794.7,56.0 794.2,56.0 793.7,56.0 793.2,56.0 792.7,56.0 792.2,56.0 791.7,56.0 791.2,56.0 790.7,56.0 790.2,56.0 789.7,56.0 789.2,56.0 788.7,56.0 788.2,56.0 787.7,56.0 787.2,56.0 786.7,56.0 786.2,56.0 785.7,56.0 785.2,56.0 784.7,56.0 784.2,56.0 783.7,56.0 783.2,56.0 782.7,56.0 782.2,56.0 781.7,56.0 781.2,56.0 780.7,56.0 780.2,56.0 779.7,56.0 779.2,56.0 778.7,56.0 778.2,56.0 777.7,56.0 777.2,56.0 776.7,56.0 776.2,56.0 775.7,56.0 775.2,56.0 774.7,56.0 774.2,56.0 773.7,56.0 773.2,56.0 772.7,56.0 772.2,56.0 771.7,56.0 771.2,56.0 770.7,56.0 770.2,56.0 769.7,56.0 769.2,56.0 768.7,56.0 768.2,56.0 767.7,56.0 767.2,56.0 766.7,56.0 766.2,56.0 765.7,56.0 765.2,56.0 764.7,56.0 764.2,56.0 763.7,56.0 763.2,56.0 762.7,56.0 762.2,56.0 761.7,56.0 761.2,56.0 760.7,56.0 760.2,56.0 759.7,56.0 759.2,56.0 758.7,56.0 758.2,56.0 757.7,56.0 757.2,56.0 756.7,56.0 756.2,56.0 755.7,56.0 755.2,56.0 754.7,56.0 754.2,56.0 753.7,56.0 753.2,56.0 752.7,56.0 752.2,56.0 751.7,56.0 751.2,56.0 750.7,56.0 750.2,56.0 749.7,56.0 749.2,56.0 748.7,56.0 748.2,56.0 747.7,56.0 747.2,56.0 746.7,56.0 746.2,56.0 745.7,56.0 745.2,56.0 744.7,56.0 744.2,56.0 743.7,56.0 743.2,56.0 742.7,56.0 742.2,56.0 741.7,56.0 741.2,56.0 740.7,56.0 740.2,56.0 739.7,56.0 739.2,56.0 738.7,56.0 738.2,56.0 737.7,56.0 737.2,56.0 736.7,56.0 736.2,56.0 735.7,56.0 735.2,56.0 734.7,56.0 734.2,56.0 733.7,56.0 733.2,56.0 732.7,56.0 732.2,56.0 731.7,56.0 731.2,56.0 730.7,56.0 730.2,56.0 729.7,56.0 729.2,56.0 728.7,56.0 728.2,56.0 727.7,56.0 727.2,56.0 726.7,56.0 726.2,56.0 725.7,56.0 725.2,56.0 724.7,56.0 724.2,56.0 723.7,56.0 723.2,56.0 722.7,56.0 722.2,56.0 721.7,56.0 721.2,56.0 720.7,56.0 720.2,56.0 719.7,56.0 719.2,56.0 718.7,56.0 718.2,56.0 717.7,56.0 717.2,56.0 716.7,56.0 716.2,56.0 715.7,56.0 715.2,56.0 714.7,56.0 714.2,56.0 713.7,56.0 713.2,56.0 712.7,56.0 712.2,56.0 711.7,56.0 711.2,56.0 710.7,56.0 710.2,56.0 709.7,56.0 709.2,56.0 708.7,56.0 708.2,56.0 707.7,56.0 707.2,56.0 706.7,56.0 706.2,56.0 705.7,56.0 705.2,56.0 704.7,56.0 704.2,56.0 703.7,56.0 703.2,56.0 702.7,56.0 702.2,56.0 701.7,56.0 701.2,56.0 700.7,56.0 700.2,56.0 699.7,56.0 699.2,56.0 698.7,56.0 698.2,56.0 697.7,56.0 697.2,56.0 696.7,56.0 696.2,56.0 695.7,56.0 695.2,56.0 694.7,56.0 694.2,56.0 693.7,56.0 693.2,56.0 692.7,56.0 692.2,56.0 691.7,56.0 691.2,56.0 690.7,56.0 690.2,56.0 689.7,56.0 689.2,56.0 688.7,56.0 688.2,56.0 687.7,56.0 687.2,56.0 686.7,56.0 686.2,56.0 685.7,56.0 685.2,56.0 684.7,56.0 684.2,56.0 683.7,56.0 683.2,56.0 682.7,56.0 682.2,56.0 681.7,56.0 681.2,56.0 680.7,56.0 680.2,56.0 679.7,56.0 679.2,56.0 678.7,56.0 678.2,56.0 677.7,56.0 677.2,56.0 676.7,56.0 676.2,56.0 675.7,56.0 675.2,56.0 674.7,56.0 674.2,56.0 673.7,56.0 673.2,56.0 672.7,56.0 672.2,56.0 671.7,56.0 671.2,56.0 670.7,56.0 670.2,56.0 669.7,56.0 669.2,56.0 668.7,56.0 668.2,56.0 667.7,56.0 667.2,56.0 666.7,56.0 666.2,56.0 665.7,56.0 665.2,56.0 664.7,56.0 664.2,56.0 663.7,56.0 663.2,56.0 662.7,56.0 662.2,56.0 661.7,56.0 661.2,56.0 660.7,56.0 660.2,56.0 659.7,56.0 659.2,56.0 658.7,56.0 658.2,56.0 657.7,56.0 657.2,56.0 656.7,56.0 656.2,56.0 655.7,56.0 655.2,56.0 654.7,56.0 654.2,56.0 653.7,56.0 653.2,56.0 652.7,56.0 652.2,56.0 651.7,56.0 651.2,56.0 650.7,56.0 650.2,56.0 649.7,56.0 649.2,56.0 648.7,56.0 648.2,56.0 647.7,56.0 647.2,56.0 646.7,56.0 646.2,56.0 645.7,56.0 645.2,56.0 644.7,56.0 644.2,56.0 643.7,56.0 643.2,56.0 642.7,56.0 642.2,56.0 641.7,56.0 641.2,56.0 640.7,56.0 640.2,56.0 639.7,56.0 639.2,56.0 638.7,56.0 638.2,56.0 637.7,56.0 637.2,56.0 636.7,56.0 636.2,56.0 635.7,56.0 635.2,56.0 634.7,56.0 634.2,56.0 633.7,56.0 633.2,56.0 632.7,56.0 632.2,56.0 631.7,56.0 631.2,56.0 630.7,56.0 630.2,56.0 629.7,56.0 629.2,56.0 628.7,56.0 628.2,56.0 627.7,56.0 627.2,56.0 626.7,56.0 626.2,56.0 625.7,56.0 625.2,56.0 624.7,56.0 624.2,56.0 623.7,56.0 623.2,56.0 622.7,56.0 622.2,56.0 621.7,56.0 621.2,56.0 620.7,56.0 620.2,56.0 619.7,56.0 619.2,56.0 618.7,56.0 618.2,56.0 617.7,56.0 617.2,56.0 616.7,56.0 616.2,56.0 615.7,56.0 615.2,56.0 614.7,56.0 614.2,56.0 613.7,56.0 613.2,56.0 612.7,56.0 612.2,56.0 611.7,56.0 611.2,56.0 610.7,56.0 610.2,56.0 609.7,56.0 609.2,56.0 608.7,56.0 608.2,56.0 607.7,56.0 607.2,56.0 606.7,56.0 606.2,56.0 605.7,56.0 605.2,56.0 604.7,56.0 604.2,56.0 603.7,56.0 603.2,56.0 602.7,56.0 602.2,56.0 601.7,56.0 601.2,56.0 600.7,56.0 600.2,56.0 599.7,56.0 599.2,56.0 598.7,56.0 598.2,56.0 597.7,56.0 597.2,56.0 596.7,56.0 596.2,56.0 595.7,56.0 595.2,56.0 594.7,56.0 594.2,56.0 593.7,56.0 593.2,56.0 592.7,56.0 592.2,56.0 591.7,56.0 591.2,56.0 590.7,56.0 590.2,56.0 589.7,56.0 589.2,56.0 588.7,56.0 588.2,56.0 587.7,56.0 587.2,56.0 586.7,56.0 586.2,56.0 585.7,56.0 585.2,56.0 584.7,56.0 584.2,56.0 583.7,56.0 583.2,56.0 582.7,56.0 582.2,56.0 581.7,56.0 581.2,56.0 580.7,56.0 580.2,56.0 579.7,56.0 579.2,56.0 578.7,56.0 578.2,56.0 577.7,56.0 577.2,56.0 576.7,56.0 576.2,56.0 575.7,56.0 575.2,56.0 574.7,56.0 574.2,56.0 573.7,56.0 573.2,56.0 572.7,56.0 572.2,56.0 571.7,56.0 571.2,56.0 570.7,56.0 570.2,56.0 569.7,56.0 569.2,56.0 568.7,56.0 568.2,56.0 567.7,55.9 567.2,55.7 566.7,55.5 566.2,55.1 565.7,54.6 565.2,53.9 564.7,52.0Z" fill="#008000"/>
<circle cx="568.8" cy="63.8" r="3.9" fill="#0000ff"/>
<circle cx="568.8" cy="63.8" r="3.7" fill="#008000"/>
</g>
<rect x="549.5" y="20.5" width="375.0" height="272.0" fill="none" stroke="#2a2a2a" stroke-width="1.0"/>
<line x1="547.0" y1="51.5" x2="549.5" y2="51.5" stroke="#2a2a2a" stroke-width="1.0"/>
<text transform="translate(544.70,62.70) scale(1.0,1)" font-family="'DejaVu Sans','Liberation Sans',sans-serif" font-size="29.8" font-weight="normal" text-anchor="end" stroke="#000" stroke-width="0.4" >1.5</text>
<line x1="547.0" y1="140.5" x2="549.5" y2="140.5" stroke="#2a2a2a" stroke-width="1.0"/>
<text transform="translate(544.70,151.50) scale(1.0,1)" font-family="'DejaVu Sans','Liberation Sans',sans-serif" font-size="29.8" font-weight="normal" text-anchor="end" stroke="#000" stroke-width="0.4" >1.0</text>
<line x1="547.0" y1="229.5" x2="549.5" y2="229.5" stroke="#2a2a2a" stroke-width="1.0"/>
<text transform="translate(544.70,240.30) scale(1.0,1)" font-family="'DejaVu Sans','Liberation Sans',sans-serif" font-size="29.8" font-weight="normal" text-anchor="end" stroke="#000" stroke-width="0.4" >0.5</text>
<line x1="568.5" y1="292.5" x2="568.5" y2="295.0" stroke="#2a2a2a" stroke-width="1.0"/>
<text transform="translate(568.80,319.60) scale(1.0,1)" font-family="'DejaVu Sans','Liberation Sans',sans-serif" font-size="29.8" font-weight="normal" text-anchor="middle" stroke="#000" stroke-width="0.4" >89</text>
<line x1="723.5" y1="292.5" x2="723.5" y2="295.0" stroke="#2a2a2a" stroke-width="1.0"/>
<text transform="translate(723.20,319.60) scale(1.0,1)" font-family="'DejaVu Sans','Liberation Sans',sans-serif" font-size="29.8" font-weight="normal" text-anchor="middle" stroke="#000" stroke-width="0.4" >90</text>
<line x1="877.5" y1="292.5" x2="877.5" y2="295.0" stroke="#2a2a2a" stroke-width="1.0"/>
<text transform="translate(877.50,319.60) scale(1.0,1)" font-family="'DejaVu Sans','Liberation Sans',sans-serif" font-size="29.8" font-weight="normal" text-anchor="middle" stroke="#000" stroke-width="0.4" >91</text>
<text transform="translate(737.00,351.20) scale(1.0,1)" font-family="'DejaVu Sans','Liberation Sans',sans-serif" font-size="29.8" font-weight="normal" text-anchor="middle" stroke="#000" stroke-width="0.4" >Time (ms)</text>
<text transform="translate(488.20,156.70) rotate(-90) scale(1.0,1)" font-family="'DejaVu Sans','Liberation Sans',sans-serif" font-size="29.8" font-weight="normal" text-anchor="middle" stroke="#000" stroke-width="0.4" >Current (A)</text>
<rect x="554.8" y="146.8" width="346.80000000000007" height="139.2" rx="4.5" ry="4.5" fill="none" stroke="#cfcfcf" stroke-width="1"/>
<circle cx="582.0" cy="172.8" r="3.6" fill="#ff0000"/>
<circle cx="582.0" cy="216.7" r="3.6" fill="#0000ff"/>
<circle cx="582.0" cy="260.2" r="3.6" fill="#008000"/>
<text transform="translate(606.00,181.30) scale(1.0,1)" font-family="'DejaVu Sans','Liberation Sans',sans-serif" font-size="29.8" font-weight="normal" text-anchor="start" stroke="#000" stroke-width="0.4" >Noise amp 100 mV</text>
<text transform="translate(606.00,224.70) scale(1.0,1)" font-family="'DejaVu Sans','Liberation Sans',sans-serif" font-size="29.8" font-weight="normal" text-anchor="start" stroke="#000" stroke-width="0.4" >Noise amp 10 mV</text>
<text transform="translate(606.00,268.10) scale(1.0,1)" font-family="'DejaVu Sans','Liberation Sans',sans-serif" font-size="29.8" font-weight="normal" text-anchor="start" stroke="#000" stroke-width="0.4" >Cycler Current</text>
<clipPath id="cp3"><rect x="1073.7" y="1.5" width="392.79999999999995" height="288.5"/></clipPath>
<g clip-path="url(#cp3)">
<path d="M1093.2,54.7 1096.1,56.8 1095.0,60.1 1091.5,60.1 1090.4,56.8ZM1093.8,72.6 1096.6,74.7 1095.6,78.0 1092.0,78.0 1090.9,74.7ZM1094.3,76.6 1097.2,78.7 1096.1,82.0 1092.6,82.0 1091.5,78.7ZM1094.9,63.3 1097.7,65.4 1096.7,68.8 1093.1,68.8 1092.0,65.4ZM1095.4,83.7 1098.3,85.8 1097.2,89.1 1093.7,89.1 1092.6,85.8ZM1096.0,71.4 1098.8,73.5 1097.8,76.8 1094.2,76.8 1093.1,73.5ZM1096.5,57.7 1099.4,59.7 1098.3,63.1 1094.8,63.1 1093.7,59.7ZM1097.1,76.4 1099.9,78.5 1098.8,81.8 1095.3,81.8 1094.2,78.5ZM1097.6,108.8 1100.5,110.9 1099.4,114.2 1095.9,114.2 1094.8,110.9ZM1098.2,64.4 1101.0,66.5 1099.9,69.8 1096.4,69.8 1095.3,66.5ZM1098.7,96.7 1101.6,98.8 1100.5,102.2 1097.0,102.2 1095.9,98.8ZM1099.3,100.6 1102.1,102.7 1101.0,106.1 1097.5,106.1 1096.4,102.7ZM1099.8,103.0 1102.7,105.0 1101.6,108.4 1098.1,108.4 1097.0,105.0ZM1100.4,62.7 1103.2,64.8 1102.1,68.2 1098.6,68.2 1097.5,64.8ZM1100.9,112.4 1103.8,114.5 1102.7,117.9 1099.2,117.9 1098.1,114.5ZM1102.0,73.3 1104.9,75.4 1103.8,78.8 1100.3,78.8 1099.2,75.4ZM1102.6,74.0 1105.4,76.1 1104.3,79.4 1100.8,79.4 1099.7,76.1ZM1103.1,88.7 1106.0,90.8 1104.9,94.1 1101.4,94.1 1100.3,90.8ZM1103.7,79.3 1106.5,81.4 1105.4,84.8 1101.9,84.8 1100.8,81.4ZM1104.2,75.6 1107.1,77.7 1106.0,81.0 1102.5,81.0 1101.4,77.7ZM1105.3,66.6 1108.2,68.6 1107.1,72.0 1103.6,72.0 1102.5,68.6ZM1105.9,61.2 1108.7,63.3 1107.6,66.6 1104.1,66.6 1103.0,63.3ZM1108.1,61.6 1110.9,63.7 1109.8,67.1 1106.3,67.1 1105.2,63.7ZM1108.6,99.3 1111.5,101.4 1110.4,104.7 1106.8,104.7 1105.8,101.4ZM1109.2,89.1 1112.0,91.2 1110.9,94.5 1107.4,94.5 1106.3,91.2ZM1109.7,111.6 1112.6,113.6 1111.5,117.0 1107.9,117.0 1106.9,113.6ZM1110.8,85.2 1113.7,87.3 1112.6,90.6 1109.0,90.6 1108.0,87.3ZM1111.4,76.8 1114.2,78.9 1113.1,82.3 1109.6,82.3 1108.5,78.9ZM1111.9,54.3 1114.8,56.4 1113.7,59.7 1110.1,59.7 1109.0,56.4ZM1112.5,69.7 1115.3,71.8 1114.2,75.1 1110.7,75.1 1109.6,71.8ZM1113.0,101.9 1115.9,104.0 1114.8,107.3 1111.2,107.3 1110.1,104.0ZM1114.1,70.3 1116.9,72.3 1115.9,75.7 1112.3,75.7 1111.2,72.3ZM1115.2,100.4 1118.0,102.5 1117.0,105.8 1113.4,105.8 1112.3,102.5ZM1115.7,100.6 1118.6,102.7 1117.5,106.1 1114.0,106.1 1112.9,102.7ZM1116.3,70.2 1119.1,72.2 1118.1,75.6 1114.5,75.6 1113.4,72.2ZM1117.4,102.2 1120.2,104.3 1119.2,107.7 1115.6,107.7 1114.5,104.3ZM1118.5,72.0 1121.3,74.1 1120.2,77.4 1116.7,77.4 1115.6,74.1ZM1119.6,112.6 1122.4,114.6 1121.3,118.0 1117.8,118.0 1116.7,114.6ZM1120.1,65.9 1123.0,68.0 1121.9,71.3 1118.4,71.3 1117.3,68.0ZM1120.7,41.2 1123.5,43.3 1122.4,46.6 1118.9,46.6 1117.8,43.3ZM1121.2,61.3 1124.1,63.4 1123.0,66.7 1119.5,66.7 1118.4,63.4ZM1121.8,69.2 1124.6,71.2 1123.5,74.6 1120.0,74.6 1118.9,71.2ZM1122.3,84.6 1125.2,86.6 1124.1,90.0 1120.6,90.0 1119.5,86.6ZM1122.9,97.9 1125.7,99.9 1124.6,103.3 1121.1,103.3 1120.0,99.9ZM1123.4,85.0 1126.3,87.1 1125.2,90.4 1121.7,90.4 1120.6,87.1ZM1124.0,75.7 1126.8,77.8 1125.7,81.1 1122.2,81.1 1121.1,77.8ZM1124.5,90.7 1127.4,92.8 1126.3,96.2 1122.8,96.2 1121.7,92.8ZM1125.6,87.8 1128.5,89.9 1127.4,93.3 1123.9,93.3 1122.8,89.9ZM1126.2,77.9 1129.0,79.9 1127.9,83.3 1124.4,83.3 1123.3,79.9ZM1126.7,132.3 1129.6,134.4 1128.5,137.7 1125.0,137.7 1123.9,134.4ZM1127.3,103.6 1130.1,105.6 1129.0,109.0 1125.5,109.0 1124.4,105.6ZM1127.8,75.4 1130.7,77.5 1129.6,80.8 1126.1,80.8 1125.0,77.5ZM1128.4,72.9 1131.2,75.0 1130.1,78.3 1126.6,78.3 1125.5,75.0ZM1128.9,82.8 1131.8,84.9 1130.7,88.2 1127.1,88.2 1126.1,84.9ZM1129.5,62.3 1132.3,64.4 1131.2,67.7 1127.7,67.7 1126.6,64.4ZM1130.0,78.3 1132.9,80.4 1131.8,83.8 1128.2,83.8 1127.2,80.4ZM1130.6,78.5 1133.4,80.6 1132.3,83.9 1128.8,83.9 1127.7,80.6ZM1131.1,106.7 1134.0,108.8 1132.9,112.1 1129.3,112.1 1128.3,108.8ZM1131.7,84.4 1134.5,86.5 1133.4,89.8 1129.9,89.8 1128.8,86.5ZM1132.2,78.4 1135.1,80.5 1134.0,83.9 1130.4,83.9 1129.4,80.5ZM1132.8,69.3 1135.6,71.3 1134.5,74.7 1131.0,74.7 1129.9,71.3ZM1133.3,72.4 1136.2,74.4 1135.1,77.8 1131.5,77.8 1130.4,74.4ZM1133.9,91.7 1136.7,93.8 1135.6,97.2 1132.1,97.2 1131.0,93.8ZM1134.4,89.5 1137.3,91.5 1136.2,94.9 1132.6,94.9 1131.5,91.5ZM1134.9,112.9 1137.8,115.0 1136.7,118.4 1133.2,118.4 1132.1,115.0ZM1135.5,82.9 1138.4,85.0 1137.3,88.3 1133.7,88.3 1132.6,85.0ZM1136.0,112.2 1138.9,114.3 1137.8,117.6 1134.3,117.6 1133.2,114.3ZM1136.6,98.7 1139.4,100.8 1138.4,104.1 1134.8,104.1 1133.7,100.8ZM1137.1,94.5 1140.0,96.6 1138.9,99.9 1135.4,99.9 1134.3,96.6ZM1137.7,60.4 1140.5,62.5 1139.5,65.8 1135.9,65.8 1134.8,62.5ZM1138.2,73.0 1141.1,75.1 1140.0,78.4 1136.5,78.4 1135.4,75.1ZM1138.8,108.1 1141.6,110.2 1140.6,113.6 1137.0,113.6 1135.9,110.2ZM1139.9,99.5 1142.7,101.6 1141.7,105.0 1138.1,105.0 1137.0,101.6ZM1140.4,109.3 1143.3,111.4 1142.2,114.8 1138.7,114.8 1137.6,111.4ZM1141.0,89.6 1143.8,91.6 1142.7,95.0 1139.2,95.0 1138.1,91.6ZM1141.5,90.5 1144.4,92.5 1143.3,95.9 1139.8,95.9 1138.7,92.5ZM1142.1,85.8 1144.9,87.8 1143.8,91.2 1140.3,91.2 1139.2,87.8ZM1142.6,114.1 1145.5,116.2 1144.4,119.5 1140.9,119.5 1139.8,116.2ZM1143.2,103.6 1146.0,105.6 1144.9,109.0 1141.4,109.0 1140.3,105.6ZM1144.8,108.1 1147.7,110.1 1146.6,113.5 1143.1,113.5 1142.0,110.1ZM1145.4,104.3 1148.2,106.4 1147.1,109.8 1143.6,109.8 1142.5,106.4ZM1146.5,128.7 1149.3,130.8 1148.2,134.2 1144.7,134.2 1143.6,130.8ZM1147.6,100.1 1150.4,102.2 1149.3,105.5 1145.8,105.5 1144.7,102.2ZM1148.1,125.5 1151.0,127.5 1149.9,130.9 1146.4,130.9 1145.3,127.5ZM1148.7,118.0 1151.5,120.1 1150.4,123.4 1146.9,123.4 1145.8,120.1ZM1149.2,99.3 1152.1,101.3 1151.0,104.7 1147.5,104.7 1146.4,101.3ZM1149.8,110.2 1152.6,112.3 1151.5,115.6 1148.0,115.6 1146.9,112.3ZM1150.3,83.1 1153.2,85.1 1152.1,88.5 1148.6,88.5 1147.5,85.1ZM1152.0,123.0 1154.8,125.1 1153.7,128.4 1150.2,128.4 1149.1,125.1ZM1152.5,70.1 1155.4,72.1 1154.3,75.5 1150.7,75.5 1149.7,72.1ZM1153.1,114.4 1155.9,116.4 1154.8,119.8 1151.3,119.8 1150.2,116.4ZM1153.6,88.9 1156.5,90.9 1155.4,94.3 1151.8,94.3 1150.8,90.9ZM1154.2,86.6 1157.0,88.7 1155.9,92.0 1152.4,92.0 1151.3,88.7ZM1154.7,100.3 1157.6,102.3 1156.5,105.7 1152.9,105.7 1151.9,102.3ZM1155.3,108.4 1158.1,110.5 1157.0,113.8 1153.5,113.8 1152.4,110.5ZM1155.8,114.6 1158.7,116.7 1157.6,120.0 1154.0,120.0 1152.9,116.7ZM1156.3,134.6 1159.2,136.7 1158.1,140.0 1154.6,140.0 1153.5,136.7ZM1156.9,110.8 1159.8,112.9 1158.7,116.2 1155.1,116.2 1154.0,112.9ZM1157.4,120.0 1160.3,122.1 1159.2,125.4 1155.7,125.4 1154.6,122.1ZM1158.0,95.1 1160.8,97.2 1159.8,100.5 1156.2,100.5 1155.1,97.2ZM1158.5,117.7 1161.4,119.8 1160.3,123.1 1156.8,123.1 1155.7,119.8ZM1159.1,108.4 1161.9,110.5 1160.9,113.9 1157.3,113.9 1156.2,110.5ZM1159.6,98.2 1162.5,100.3 1161.4,103.7 1157.9,103.7 1156.8,100.3ZM1160.7,105.6 1163.6,107.7 1162.5,111.0 1159.0,111.0 1157.9,107.7ZM1161.3,110.2 1164.1,112.3 1163.1,115.6 1159.5,115.6 1158.4,112.3ZM1161.8,114.1 1164.7,116.1 1163.6,119.5 1160.1,119.5 1159.0,116.1ZM1162.4,98.9 1165.2,100.9 1164.1,104.3 1160.6,104.3 1159.5,100.9ZM1163.5,120.8 1166.3,122.8 1165.2,126.2 1161.7,126.2 1160.6,122.8ZM1164.0,79.5 1166.9,81.6 1165.8,85.0 1162.3,85.0 1161.2,81.6ZM1164.6,98.1 1167.4,100.2 1166.3,103.6 1162.8,103.6 1161.7,100.2ZM1165.7,63.2 1168.5,65.3 1167.4,68.7 1163.9,68.7 1162.8,65.3ZM1166.2,97.7 1169.1,99.8 1168.0,103.1 1164.5,103.1 1163.4,99.8ZM1166.8,121.4 1169.6,123.5 1168.5,126.9 1165.0,126.9 1163.9,123.5ZM1167.9,153.7 1170.7,155.8 1169.6,159.1 1166.1,159.1 1165.0,155.8ZM1168.4,66.7 1171.3,68.8 1170.2,72.1 1166.7,72.1 1165.6,68.8ZM1169.0,135.2 1171.8,137.3 1170.7,140.7 1167.2,140.7 1166.1,137.3ZM1169.5,137.5 1172.4,139.6 1171.3,143.0 1167.8,143.0 1166.7,139.6ZM1170.1,127.0 1172.9,129.0 1171.8,132.4 1168.3,132.4 1167.2,129.0ZM1170.6,108.0 1173.5,110.0 1172.4,113.4 1168.9,113.4 1167.8,110.0ZM1171.2,118.0 1174.0,120.1 1172.9,123.5 1169.4,123.5 1168.3,120.1ZM1172.3,126.3 1175.1,128.3 1174.0,131.7 1170.5,131.7 1169.4,128.3ZM1172.8,93.9 1175.7,96.0 1174.6,99.3 1171.0,99.3 1170.0,96.0ZM1173.4,108.5 1176.2,110.6 1175.1,113.9 1171.6,113.9 1170.5,110.6ZM1173.9,130.2 1176.8,132.3 1175.7,135.7 1172.1,135.7 1171.1,132.3ZM1174.5,94.8 1177.3,96.9 1176.2,100.3 1172.7,100.3 1171.6,96.9ZM1175.0,107.8 1177.9,109.9 1176.8,113.2 1173.2,113.2 1172.2,109.9ZM1175.6,117.0 1178.4,119.1 1177.3,122.4 1173.8,122.4 1172.7,119.1ZM1176.1,91.8 1179.0,93.9 1177.9,97.3 1174.3,97.3 1173.3,93.9ZM1177.2,120.8 1180.1,122.9 1179.0,126.3 1175.4,126.3 1174.3,122.9ZM1177.8,89.8 1180.6,91.8 1179.5,95.2 1176.0,95.2 1174.9,91.8ZM1178.8,102.8 1181.7,104.9 1180.6,108.2 1177.1,108.2 1176.0,104.9ZM1179.4,105.1 1182.3,107.2 1181.2,110.5 1177.6,110.5 1176.5,107.2ZM1179.9,117.8 1182.8,119.8 1181.7,123.2 1178.2,123.2 1177.1,119.8ZM1180.5,104.8 1183.3,106.8 1182.3,110.2 1178.7,110.2 1177.6,106.8ZM1181.0,133.3 1183.9,135.4 1182.8,138.7 1179.3,138.7 1178.2,135.4ZM1182.1,134.1 1185.0,136.2 1183.9,139.6 1180.4,139.6 1179.3,136.2ZM1182.7,117.1 1185.5,119.2 1184.5,122.6 1180.9,122.6 1179.8,119.2ZM1183.2,132.6 1186.1,134.6 1185.0,138.0 1181.5,138.0 1180.4,134.6ZM1183.8,109.3 1186.6,111.4 1185.6,114.7 1182.0,114.7 1180.9,111.4ZM1184.3,110.2 1187.2,112.3 1186.1,115.6 1182.6,115.6 1181.5,112.3ZM1184.9,99.6 1187.7,101.6 1186.6,105.0 1183.1,105.0 1182.0,101.6ZM1185.4,129.0 1188.3,131.1 1187.2,134.4 1183.7,134.4 1182.6,131.1ZM1186.5,155.5 1189.4,157.5 1188.3,160.9 1184.8,160.9 1183.7,157.5ZM1187.1,141.8 1189.9,143.9 1188.8,147.2 1185.3,147.2 1184.2,143.9ZM1187.6,124.6 1190.5,126.6 1189.4,130.0 1185.9,130.0 1184.8,126.6ZM1188.2,117.1 1191.0,119.2 1189.9,122.5 1186.4,122.5 1185.3,119.2ZM1188.7,127.5 1191.6,129.5 1190.5,132.9 1187.0,132.9 1185.9,129.5ZM1189.3,120.7 1192.1,122.8 1191.0,126.2 1187.5,126.2 1186.4,122.8ZM1189.8,146.1 1192.7,148.2 1191.6,151.5 1188.1,151.5 1187.0,148.2ZM1190.4,137.6 1193.2,139.7 1192.1,143.1 1188.6,143.1 1187.5,139.7ZM1190.9,108.0 1193.8,110.1 1192.7,113.4 1189.2,113.4 1188.1,110.1ZM1191.5,110.8 1194.3,112.8 1193.2,116.2 1189.7,116.2 1188.6,112.8ZM1192.0,145.6 1194.9,147.6 1193.8,151.0 1190.3,151.0 1189.2,147.6ZM1192.6,128.1 1195.4,130.1 1194.3,133.5 1190.8,133.5 1189.7,130.1ZM1193.7,143.3 1196.5,145.4 1195.4,148.8 1191.9,148.8 1190.8,145.4ZM1194.2,117.2 1197.1,119.3 1196.0,122.6 1192.5,122.6 1191.4,119.3ZM1195.3,116.6 1198.2,118.6 1197.1,122.0 1193.5,122.0 1192.5,118.6ZM1195.9,91.7 1198.7,93.8 1197.6,97.1 1194.1,97.1 1193.0,93.8ZM1196.4,139.4 1199.3,141.5 1198.2,144.8 1194.6,144.8 1193.6,141.5ZM1197.0,105.0 1199.8,107.0 1198.7,110.4 1195.2,110.4 1194.1,107.0ZM1197.5,116.0 1200.4,118.1 1199.3,121.4 1195.7,121.4 1194.7,118.1ZM1198.1,113.4 1200.9,115.4 1199.8,118.8 1196.3,118.8 1195.2,115.4ZM1198.6,138.3 1201.5,140.4 1200.4,143.7 1196.8,143.7 1195.8,140.4ZM1199.2,125.3 1202.0,127.4 1200.9,130.7 1197.4,130.7 1196.3,127.4ZM1199.7,127.0 1202.6,129.1 1201.5,132.4 1197.9,132.4 1196.8,129.1ZM1200.2,99.0 1203.1,101.0 1202.0,104.4 1198.5,104.4 1197.4,101.0ZM1200.8,125.9 1203.7,128.0 1202.6,131.3 1199.0,131.3 1197.9,128.0ZM1201.3,103.0 1204.2,105.1 1203.1,108.4 1199.6,108.4 1198.5,105.1ZM1201.9,133.1 1204.7,135.2 1203.7,138.5 1200.1,138.5 1199.0,135.2ZM1202.4,134.4 1205.3,136.5 1204.2,139.8 1200.7,139.8 1199.6,136.5ZM1203.0,128.3 1205.8,130.4 1204.8,133.7 1201.2,133.7 1200.1,130.4ZM1203.5,163.0 1206.4,165.1 1205.3,168.5 1201.8,168.5 1200.7,165.1ZM1204.1,138.0 1206.9,140.1 1205.9,143.5 1202.3,143.5 1201.2,140.1ZM1204.6,139.5 1207.5,141.5 1206.4,144.9 1202.9,144.9 1201.8,141.5ZM1205.2,132.2 1208.0,134.3 1207.0,137.6 1203.4,137.6 1202.3,134.3ZM1206.3,146.6 1209.1,148.6 1208.0,152.0 1204.5,152.0 1203.4,148.6ZM1206.8,149.1 1209.7,151.2 1208.6,154.6 1205.1,154.6 1204.0,151.2ZM1207.4,109.4 1210.2,111.4 1209.1,114.8 1205.6,114.8 1204.5,111.4ZM1207.9,149.0 1210.8,151.0 1209.7,154.4 1206.2,154.4 1205.1,151.0ZM1208.5,140.2 1211.3,142.3 1210.2,145.7 1206.7,145.7 1205.6,142.3ZM1209.0,148.0 1211.9,150.1 1210.8,153.4 1207.3,153.4 1206.2,150.1ZM1210.7,113.4 1213.5,115.4 1212.4,118.8 1208.9,118.8 1207.8,115.4ZM1211.2,163.7 1214.1,165.8 1213.0,169.1 1209.5,169.1 1208.4,165.8ZM1211.8,138.1 1214.6,140.1 1213.5,143.5 1210.0,143.5 1208.9,140.1ZM1212.3,110.8 1215.2,112.9 1214.1,116.2 1210.6,116.2 1209.5,112.9ZM1212.9,140.7 1215.7,142.8 1214.6,146.2 1211.1,146.2 1210.0,142.8ZM1214.0,105.7 1216.8,107.8 1215.7,111.2 1212.2,111.2 1211.1,107.8ZM1214.5,99.1 1217.4,101.1 1216.3,104.5 1212.8,104.5 1211.7,101.1ZM1215.1,111.3 1217.9,113.3 1216.8,116.7 1213.3,116.7 1212.2,113.3ZM1215.6,143.2 1218.5,145.3 1217.4,148.6 1213.9,148.6 1212.8,145.3ZM1216.2,138.6 1219.0,140.7 1217.9,144.1 1214.4,144.1 1213.3,140.7ZM1216.7,136.1 1219.6,138.1 1218.5,141.5 1214.9,141.5 1213.9,138.1ZM1217.3,145.7 1220.1,147.8 1219.0,151.1 1215.5,151.1 1214.4,147.8ZM1217.8,151.7 1220.7,153.8 1219.6,157.1 1216.0,157.1 1215.0,153.8ZM1218.4,107.6 1221.2,109.6 1220.1,113.0 1216.6,113.0 1215.5,109.6ZM1218.9,138.2 1221.8,140.3 1220.7,143.7 1217.1,143.7 1216.1,140.3ZM1219.5,130.3 1222.3,132.3 1221.2,135.7 1217.7,135.7 1216.6,132.3ZM1220.6,136.4 1223.4,138.5 1222.3,141.9 1218.8,141.9 1217.7,138.5ZM1221.7,141.9 1224.5,144.0 1223.4,147.3 1219.9,147.3 1218.8,144.0ZM1222.2,122.4 1225.1,124.4 1224.0,127.8 1220.4,127.8 1219.3,124.4ZM1222.7,138.6 1225.6,140.7 1224.5,144.1 1221.0,144.1 1219.9,140.7ZM1223.3,180.2 1226.2,182.3 1225.1,185.6 1221.5,185.6 1220.4,182.3ZM1223.8,129.5 1226.7,131.6 1225.6,134.9 1222.1,134.9 1221.0,131.6ZM1224.4,119.2 1227.2,121.2 1226.2,124.6 1222.6,124.6 1221.5,121.2ZM1224.9,151.8 1227.8,153.9 1226.7,157.3 1223.2,157.3 1222.1,153.9ZM1225.5,157.3 1228.3,159.4 1227.3,162.7 1223.7,162.7 1222.6,159.4ZM1226.0,155.3 1228.9,157.3 1227.8,160.7 1224.3,160.7 1223.2,157.3ZM1226.6,129.2 1229.4,131.3 1228.4,134.7 1224.8,134.7 1223.7,131.3ZM1227.1,164.4 1230.0,166.5 1228.9,169.8 1225.4,169.8 1224.3,166.5ZM1227.7,135.1 1230.5,137.2 1229.5,140.5 1225.9,140.5 1224.8,137.2ZM1228.2,129.5 1231.1,131.5 1230.0,134.9 1226.5,134.9 1225.4,131.5ZM1228.8,138.3 1231.6,140.4 1230.5,143.8 1227.0,143.8 1225.9,140.4ZM1229.3,146.8 1232.2,148.8 1231.1,152.2 1227.6,152.2 1226.5,148.8ZM1229.9,160.5 1232.7,162.6 1231.6,165.9 1228.1,165.9 1227.0,162.6ZM1231.0,148.7 1233.8,150.7 1232.7,154.1 1229.2,154.1 1228.1,150.7ZM1232.1,150.7 1234.9,152.8 1233.8,156.1 1230.3,156.1 1229.2,152.8ZM1232.6,164.3 1235.5,166.4 1234.4,169.7 1230.9,169.7 1229.8,166.4ZM1233.2,126.5 1236.0,128.6 1234.9,131.9 1231.4,131.9 1230.3,128.6ZM1234.3,162.8 1237.1,164.8 1236.0,168.2 1232.5,168.2 1231.4,164.8ZM1234.8,127.2 1237.7,129.3 1236.6,132.6 1233.1,132.6 1232.0,129.3ZM1235.4,145.3 1238.2,147.4 1237.1,150.7 1233.6,150.7 1232.5,147.4ZM1235.9,148.8 1238.8,150.9 1237.7,154.2 1234.2,154.2 1233.1,150.9ZM1236.5,142.5 1239.3,144.6 1238.2,147.9 1234.7,147.9 1233.6,144.6ZM1237.0,143.2 1239.9,145.3 1238.8,148.6 1235.3,148.6 1234.2,145.3ZM1237.6,173.7 1240.4,175.8 1239.3,179.2 1235.8,179.2 1234.7,175.8ZM1238.1,109.3 1241.0,111.4 1239.9,114.7 1236.4,114.7 1235.3,111.4ZM1238.7,165.6 1241.5,167.7 1240.4,171.0 1236.9,171.0 1235.8,167.7ZM1239.8,151.7 1242.6,153.8 1241.5,157.1 1238.0,157.1 1236.9,153.8ZM1240.3,151.2 1243.2,153.2 1242.1,156.6 1238.5,156.6 1237.5,153.2ZM1240.9,163.5 1243.7,165.6 1242.6,169.0 1239.1,169.0 1238.0,165.6ZM1241.4,181.8 1244.3,183.9 1243.2,187.2 1239.6,187.2 1238.6,183.9ZM1242.0,132.3 1244.8,134.4 1243.7,137.8 1240.2,137.8 1239.1,134.4ZM1242.5,153.4 1245.4,155.5 1244.3,158.9 1240.7,158.9 1239.7,155.5ZM1243.1,149.1 1245.9,151.1 1244.8,154.5 1241.3,154.5 1240.2,151.1ZM1243.6,161.4 1246.5,163.5 1245.4,166.9 1241.8,166.9 1240.7,163.5ZM1244.2,155.0 1247.0,157.1 1245.9,160.4 1242.4,160.4 1241.3,157.1ZM1245.2,145.7 1248.1,147.8 1247.0,151.2 1243.5,151.2 1242.4,147.8ZM1245.8,153.6 1248.6,155.7 1247.6,159.0 1244.0,159.0 1242.9,155.7ZM1246.3,141.9 1249.2,144.0 1248.1,147.3 1244.6,147.3 1243.5,144.0ZM1247.4,150.9 1250.3,152.9 1249.2,156.3 1245.7,156.3 1244.6,152.9ZM1248.5,134.2 1251.4,136.3 1250.3,139.6 1246.8,139.6 1245.7,136.3ZM1249.1,179.3 1251.9,181.4 1250.9,184.7 1247.3,184.7 1246.2,181.4ZM1249.6,151.5 1252.5,153.6 1251.4,156.9 1247.9,156.9 1246.8,153.6ZM1250.2,131.2 1253.0,133.2 1251.9,136.6 1248.4,136.6 1247.3,133.2ZM1250.7,172.0 1253.6,174.1 1252.5,177.4 1249.0,177.4 1247.9,174.1ZM1251.3,141.8 1254.1,143.9 1253.0,147.3 1249.5,147.3 1248.4,143.9ZM1251.8,162.5 1254.7,164.6 1253.6,168.0 1250.1,168.0 1249.0,164.6ZM1252.4,154.1 1255.2,156.1 1254.1,159.5 1250.6,159.5 1249.5,156.1ZM1253.5,157.4 1256.3,159.5 1255.2,162.8 1251.7,162.8 1250.6,159.5ZM1254.0,145.3 1256.9,147.4 1255.8,150.8 1252.3,150.8 1251.2,147.4ZM1254.6,155.5 1257.4,157.6 1256.3,161.0 1252.8,161.0 1251.7,157.6ZM1255.1,188.2 1258.0,190.3 1256.9,193.7 1253.4,193.7 1252.3,190.3ZM1255.7,118.6 1258.5,120.6 1257.4,124.0 1253.9,124.0 1252.8,120.6ZM1256.2,156.3 1259.1,158.4 1258.0,161.8 1254.5,161.8 1253.4,158.4ZM1256.8,162.5 1259.6,164.6 1258.5,167.9 1255.0,167.9 1253.9,164.6ZM1258.4,191.0 1261.3,193.1 1260.2,196.5 1256.7,196.5 1255.6,193.1ZM1259.0,149.9 1261.8,151.9 1260.7,155.3 1257.2,155.3 1256.1,151.9ZM1260.1,164.9 1262.9,167.0 1261.8,170.3 1258.3,170.3 1257.2,167.0ZM1260.6,157.6 1263.5,159.6 1262.4,163.0 1258.8,163.0 1257.8,159.6ZM1261.7,166.9 1264.6,169.0 1263.5,172.4 1259.9,172.4 1258.9,169.0ZM1262.3,175.9 1265.1,178.0 1264.0,181.4 1260.5,181.4 1259.4,178.0ZM1262.8,163.9 1265.7,166.0 1264.6,169.4 1261.0,169.4 1260.0,166.0ZM1263.9,160.0 1266.8,162.0 1265.7,165.4 1262.1,165.4 1261.1,162.0ZM1265.0,170.7 1267.9,172.7 1266.8,176.1 1263.2,176.1 1262.1,172.7ZM1265.6,141.2 1268.4,143.3 1267.3,146.6 1263.8,146.6 1262.7,143.3ZM1266.1,147.3 1269.0,149.3 1267.9,152.7 1264.3,152.7 1263.2,149.3ZM1266.6,163.1 1269.5,165.2 1268.4,168.6 1264.9,168.6 1263.8,165.2ZM1267.2,147.7 1270.1,149.8 1269.0,153.2 1265.4,153.2 1264.3,149.8ZM1267.7,151.9 1270.6,154.0 1269.5,157.3 1266.0,157.3 1264.9,154.0ZM1268.3,142.6 1271.1,144.7 1270.1,148.0 1266.5,148.0 1265.4,144.7ZM1268.8,154.0 1271.7,156.1 1270.6,159.4 1267.1,159.4 1266.0,156.1ZM1269.4,165.3 1272.2,167.3 1271.2,170.7 1267.6,170.7 1266.5,167.3ZM1269.9,174.7 1272.8,176.8 1271.7,180.1 1268.2,180.1 1267.1,176.8ZM1270.5,158.8 1273.3,160.9 1272.3,164.2 1268.7,164.2 1267.6,160.9ZM1271.6,157.7 1274.4,159.7 1273.4,163.1 1269.8,163.1 1268.7,159.7ZM1272.1,204.1 1275.0,206.2 1273.9,209.5 1270.4,209.5 1269.3,206.2ZM1272.7,175.4 1275.5,177.5 1274.4,180.8 1270.9,180.8 1269.8,177.5ZM1273.2,167.4 1276.1,169.4 1275.0,172.8 1271.5,172.8 1270.4,169.4ZM1273.8,151.3 1276.6,153.4 1275.5,156.8 1272.0,156.8 1270.9,153.4ZM1274.3,114.7 1277.2,116.8 1276.1,120.1 1272.6,120.1 1271.5,116.8ZM1274.9,157.2 1277.7,159.2 1276.6,162.6 1273.1,162.6 1272.0,159.2ZM1275.4,162.7 1278.3,164.8 1277.2,168.1 1273.7,168.1 1272.6,164.8ZM1276.0,191.1 1278.8,193.2 1277.7,196.5 1274.2,196.5 1273.1,193.2ZM1276.5,137.7 1279.4,139.8 1278.3,143.2 1274.8,143.2 1273.7,139.8ZM1277.6,156.3 1280.5,158.3 1279.4,161.7 1275.9,161.7 1274.8,158.3ZM1278.2,172.2 1281.0,174.3 1279.9,177.6 1276.4,177.6 1275.3,174.3ZM1278.7,119.5 1281.6,121.6 1280.5,124.9 1277.0,124.9 1275.9,121.6ZM1279.3,163.0 1282.1,165.0 1281.0,168.4 1277.5,168.4 1276.4,165.0ZM1279.8,155.3 1282.7,157.4 1281.6,160.7 1278.1,160.7 1277.0,157.4ZM1280.4,172.0 1283.2,174.1 1282.1,177.4 1278.6,177.4 1277.5,174.1ZM1280.9,162.6 1283.8,164.7 1282.7,168.0 1279.2,168.0 1278.1,164.7ZM1281.5,142.8 1284.3,144.9 1283.2,148.2 1279.7,148.2 1278.6,144.9ZM1282.0,176.7 1284.9,178.7 1283.8,182.1 1280.3,182.1 1279.2,178.7ZM1282.6,172.7 1285.4,174.8 1284.3,178.1 1280.8,178.1 1279.7,174.8ZM1283.1,171.3 1286.0,173.3 1284.9,176.7 1281.3,176.7 1280.3,173.3ZM1283.7,178.0 1286.5,180.1 1285.4,183.5 1281.9,183.5 1280.8,180.1ZM1284.2,179.7 1287.1,181.7 1286.0,185.1 1282.4,185.1 1281.4,181.7ZM1284.8,161.7 1287.6,163.7 1286.5,167.1 1283.0,167.1 1281.9,163.7ZM1285.3,140.2 1288.2,142.3 1287.1,145.7 1283.5,145.7 1282.5,142.3ZM1285.9,139.9 1288.7,142.0 1287.6,145.4 1284.1,145.4 1283.0,142.0ZM1286.4,184.2 1289.3,186.2 1288.2,189.6 1284.6,189.6 1283.6,186.2ZM1287.0,174.0 1289.8,176.1 1288.7,179.4 1285.2,179.4 1284.1,176.1ZM1287.5,164.3 1290.4,166.4 1289.3,169.7 1285.7,169.7 1284.6,166.4ZM1288.0,155.8 1290.9,157.9 1289.8,161.2 1286.3,161.2 1285.2,157.9ZM1288.6,163.4 1291.5,165.5 1290.4,168.8 1286.8,168.8 1285.7,165.5ZM1289.1,163.4 1292.0,165.5 1290.9,168.9 1287.4,168.9 1286.3,165.5ZM1289.7,157.7 1292.5,159.8 1291.5,163.2 1287.9,163.2 1286.8,159.8ZM1290.2,152.0 1293.1,154.1 1292.0,157.5 1288.5,157.5 1287.4,154.1ZM1290.8,198.3 1293.6,200.3 1292.6,203.7 1289.0,203.7 1287.9,200.3ZM1291.3,167.3 1294.2,169.3 1293.1,172.7 1289.6,172.7 1288.5,169.3ZM1291.9,154.0 1294.7,156.1 1293.7,159.4 1290.1,159.4 1289.0,156.1ZM1292.4,143.0 1295.3,145.0 1294.2,148.4 1290.7,148.4 1289.6,145.0ZM1293.0,152.4 1295.8,154.5 1294.8,157.8 1291.2,157.8 1290.1,154.5ZM1293.5,175.8 1296.4,177.9 1295.3,181.2 1291.8,181.2 1290.7,177.9ZM1294.1,176.6 1296.9,178.6 1295.8,182.0 1292.3,182.0 1291.2,178.6ZM1294.6,161.0 1297.5,163.1 1296.4,166.5 1292.9,166.5 1291.8,163.1ZM1295.2,165.5 1298.0,167.6 1296.9,171.0 1293.4,171.0 1292.3,167.6ZM1295.7,160.0 1298.6,162.0 1297.5,165.4 1294.0,165.4 1292.9,162.0ZM1296.3,147.2 1299.1,149.3 1298.0,152.7 1294.5,152.7 1293.4,149.3ZM1296.8,186.1 1299.7,188.1 1298.6,191.5 1295.1,191.5 1294.0,188.1ZM1297.9,205.2 1300.8,207.3 1299.7,210.7 1296.2,210.7 1295.1,207.3ZM1298.5,153.5 1301.3,155.6 1300.2,159.0 1296.7,159.0 1295.6,155.6ZM1299.0,163.6 1301.9,165.7 1300.8,169.0 1297.3,169.0 1296.2,165.7ZM1300.1,162.2 1303.0,164.3 1301.9,167.6 1298.4,167.6 1297.3,164.3ZM1300.7,144.1 1303.5,146.1 1302.4,149.5 1298.9,149.5 1297.8,146.1ZM1301.2,151.3 1304.1,153.3 1303.0,156.7 1299.5,156.7 1298.4,153.3ZM1301.8,168.2 1304.6,170.3 1303.5,173.7 1300.0,173.7 1298.9,170.3ZM1302.3,172.3 1305.2,174.4 1304.1,177.7 1300.6,177.7 1299.5,174.4ZM1302.9,165.4 1305.7,167.5 1304.6,170.9 1301.1,170.9 1300.0,167.5ZM1303.4,183.2 1306.3,185.2 1305.2,188.6 1301.7,188.6 1300.6,185.2ZM1304.0,183.1 1306.8,185.2 1305.7,188.6 1302.2,188.6 1301.1,185.2ZM1304.5,172.6 1307.4,174.7 1306.3,178.0 1302.7,178.0 1301.7,174.7ZM1305.1,168.0 1307.9,170.1 1306.8,173.4 1303.3,173.4 1302.2,170.1ZM1305.6,163.7 1308.5,165.8 1307.4,169.1 1303.8,169.1 1302.8,165.8ZM1306.2,176.7 1309.0,178.8 1307.9,182.1 1304.4,182.1 1303.3,178.8ZM1306.7,182.8 1309.6,184.8 1308.5,188.2 1304.9,188.2 1303.9,184.8ZM1307.3,169.2 1310.1,171.3 1309.0,174.6 1305.5,174.6 1304.4,171.3ZM1307.8,175.6 1310.7,177.6 1309.6,181.0 1306.0,181.0 1305.0,177.6ZM1308.4,163.4 1311.2,165.4 1310.1,168.8 1306.6,168.8 1305.5,165.4ZM1308.9,146.2 1311.8,148.2 1310.7,151.6 1307.1,151.6 1306.0,148.2ZM1309.5,152.9 1312.3,154.9 1311.2,158.3 1307.7,158.3 1306.6,154.9ZM1310.0,181.2 1312.9,183.3 1311.8,186.7 1308.2,186.7 1307.1,183.3ZM1310.5,176.3 1313.4,178.4 1312.3,181.7 1308.8,181.7 1307.7,178.4ZM1311.6,170.4 1314.5,172.5 1313.4,175.8 1309.9,175.8 1308.8,172.5ZM1312.2,183.4 1315.0,185.5 1314.0,188.9 1310.4,188.9 1309.3,185.5ZM1312.7,190.9 1315.6,193.0 1314.5,196.3 1311.0,196.3 1309.9,193.0ZM1313.3,185.8 1316.1,187.9 1315.1,191.2 1311.5,191.2 1310.4,187.9ZM1313.8,160.4 1316.7,162.5 1315.6,165.9 1312.1,165.9 1311.0,162.5ZM1314.4,167.4 1317.2,169.4 1316.2,172.8 1312.6,172.8 1311.5,169.4ZM1314.9,172.5 1317.8,174.6 1316.7,177.9 1313.2,177.9 1312.1,174.6ZM1315.5,154.9 1318.3,157.0 1317.3,160.3 1313.7,160.3 1312.6,157.0ZM1316.6,187.2 1319.4,189.3 1318.3,192.7 1314.8,192.7 1313.7,189.3ZM1317.1,163.4 1320.0,165.5 1318.9,168.9 1315.4,168.9 1314.3,165.5ZM1317.7,202.6 1320.5,204.7 1319.4,208.1 1315.9,208.1 1314.8,204.7ZM1318.2,166.8 1321.1,168.9 1320.0,172.2 1316.5,172.2 1315.4,168.9ZM1318.8,168.3 1321.6,170.4 1320.5,173.8 1317.0,173.8 1315.9,170.4ZM1319.3,167.9 1322.2,170.0 1321.1,173.4 1317.6,173.4 1316.5,170.0ZM1319.9,160.6 1322.7,162.7 1321.6,166.1 1318.1,166.1 1317.0,162.7ZM1320.4,178.7 1323.3,180.8 1322.2,184.1 1318.7,184.1 1317.6,180.8ZM1321.0,172.5 1323.8,174.6 1322.7,177.9 1319.2,177.9 1318.1,174.6ZM1321.5,198.7 1324.4,200.8 1323.3,204.2 1319.8,204.2 1318.7,200.8ZM1322.1,182.2 1324.9,184.2 1323.8,187.6 1320.3,187.6 1319.2,184.2ZM1322.6,181.2 1325.5,183.3 1324.4,186.6 1320.9,186.6 1319.8,183.3ZM1323.2,169.3 1326.0,171.4 1324.9,174.7 1321.4,174.7 1320.3,171.4ZM1323.7,150.6 1326.6,152.6 1325.5,156.0 1322.0,156.0 1320.9,152.6ZM1324.3,171.7 1327.1,173.8 1326.0,177.2 1322.5,177.2 1321.4,173.8ZM1324.8,159.8 1327.7,161.9 1326.6,165.3 1323.1,165.3 1322.0,161.9ZM1325.4,188.6 1328.2,190.6 1327.1,194.0 1323.6,194.0 1322.5,190.6ZM1325.9,173.1 1328.8,175.2 1327.7,178.6 1324.2,178.6 1323.1,175.2ZM1326.5,200.2 1329.3,202.3 1328.2,205.6 1324.7,205.6 1323.6,202.3ZM1327.0,185.6 1329.9,187.7 1328.8,191.0 1325.2,191.0 1324.2,187.7ZM1327.6,187.3 1330.4,189.4 1329.3,192.8 1325.8,192.8 1324.7,189.4ZM1328.1,177.9 1331.0,180.0 1329.9,183.3 1326.3,183.3 1325.3,180.0ZM1329.2,184.9 1332.1,187.0 1331.0,190.3 1327.4,190.3 1326.4,187.0ZM1329.8,189.3 1332.6,191.4 1331.5,194.8 1328.0,194.8 1326.9,191.4ZM1330.9,182.8 1333.7,184.9 1332.6,188.3 1329.1,188.3 1328.0,184.9ZM1331.4,216.6 1334.3,218.7 1333.2,222.1 1329.6,222.1 1328.5,218.7ZM1332.0,173.9 1334.8,176.0 1333.7,179.4 1330.2,179.4 1329.1,176.0ZM1333.0,164.7 1335.9,166.8 1334.8,170.2 1331.3,170.2 1330.2,166.8ZM1333.6,153.0 1336.4,155.0 1335.4,158.4 1331.8,158.4 1330.7,155.0ZM1334.1,194.8 1337.0,196.8 1335.9,200.2 1332.4,200.2 1331.3,196.8ZM1334.7,177.1 1337.5,179.2 1336.5,182.5 1332.9,182.5 1331.8,179.2ZM1335.2,181.0 1338.1,183.1 1337.0,186.5 1333.5,186.5 1332.4,183.1ZM1335.8,205.6 1338.6,207.6 1337.6,211.0 1334.0,211.0 1332.9,207.6ZM1336.3,216.2 1339.2,218.3 1338.1,221.6 1334.6,221.6 1333.5,218.3ZM1336.9,162.7 1339.7,164.8 1338.7,168.2 1335.1,168.2 1334.0,164.8ZM1338.0,186.9 1340.8,189.0 1339.7,192.3 1336.2,192.3 1335.1,189.0ZM1338.5,183.5 1341.4,185.6 1340.3,188.9 1336.8,188.9 1335.7,185.6ZM1339.1,184.9 1341.9,187.0 1340.8,190.4 1337.3,190.4 1336.2,187.0ZM1339.6,177.2 1342.5,179.2 1341.4,182.6 1337.9,182.6 1336.8,179.2ZM1340.2,202.7 1343.0,204.8 1341.9,208.2 1338.4,208.2 1337.3,204.8ZM1340.7,187.5 1343.6,189.6 1342.5,193.0 1339.0,193.0 1337.9,189.6ZM1341.3,183.4 1344.1,185.5 1343.0,188.9 1339.5,188.9 1338.4,185.5ZM1341.8,197.8 1344.7,199.9 1343.6,203.2 1340.1,203.2 1339.0,199.9ZM1342.4,192.4 1345.2,194.5 1344.1,197.8 1340.6,197.8 1339.5,194.5ZM1342.9,185.7 1345.8,187.8 1344.7,191.1 1341.2,191.1 1340.1,187.8ZM1343.5,183.8 1346.3,185.8 1345.2,189.2 1341.7,189.2 1340.6,185.8ZM1344.0,206.4 1346.9,208.4 1345.8,211.8 1342.3,211.8 1341.2,208.4ZM1345.1,177.7 1348.0,179.7 1346.9,183.1 1343.4,183.1 1342.3,179.7ZM1346.2,174.0 1349.1,176.0 1348.0,179.4 1344.5,179.4 1343.4,176.0ZM1346.8,163.0 1349.6,165.1 1348.5,168.5 1345.0,168.5 1343.9,165.1ZM1347.3,181.4 1350.2,183.4 1349.1,186.8 1345.6,186.8 1344.5,183.4ZM1348.4,147.8 1351.3,149.9 1350.2,153.2 1346.6,153.2 1345.6,149.9ZM1349.0,180.4 1351.8,182.5 1350.7,185.8 1347.2,185.8 1346.1,182.5ZM1349.5,190.4 1352.4,192.5 1351.3,195.9 1347.7,195.9 1346.7,192.5ZM1350.1,183.0 1352.9,185.1 1351.8,188.5 1348.3,188.5 1347.2,185.1ZM1351.2,200.6 1354.0,202.7 1352.9,206.0 1349.4,206.0 1348.3,202.7ZM1351.7,170.0 1354.6,172.0 1353.5,175.4 1349.9,175.4 1348.9,172.0ZM1352.3,161.8 1355.1,163.8 1354.0,167.2 1350.5,167.2 1349.4,163.8ZM1352.8,164.2 1355.7,166.3 1354.6,169.7 1351.0,169.7 1349.9,166.3ZM1353.4,181.1 1356.2,183.2 1355.1,186.5 1351.6,186.5 1350.5,183.2ZM1354.4,199.8 1357.3,201.9 1356.2,205.3 1352.7,205.3 1351.6,201.9ZM1355.0,185.0 1357.9,187.1 1356.8,190.5 1353.2,190.5 1352.1,187.1ZM1355.5,163.2 1358.4,165.3 1357.3,168.7 1353.8,168.7 1352.7,165.3ZM1356.1,171.8 1358.9,173.9 1357.9,177.2 1354.3,177.2 1353.2,173.9ZM1356.6,168.2 1359.5,170.2 1358.4,173.6 1354.9,173.6 1353.8,170.2ZM1357.7,154.8 1360.6,156.8 1359.5,160.2 1356.0,160.2 1354.9,156.8ZM1358.3,184.4 1361.1,186.5 1360.1,189.8 1356.5,189.8 1355.4,186.5ZM1359.4,180.6 1362.2,182.7 1361.2,186.0 1357.6,186.0 1356.5,182.7ZM1360.5,168.6 1363.3,170.7 1362.2,174.0 1358.7,174.0 1357.6,170.7ZM1361.0,160.7 1363.9,162.8 1362.8,166.1 1359.3,166.1 1358.2,162.8ZM1361.6,173.6 1364.4,175.7 1363.3,179.0 1359.8,179.0 1358.7,175.7ZM1362.1,201.7 1365.0,203.8 1363.9,207.2 1360.4,207.2 1359.3,203.8ZM1362.7,199.9 1365.5,202.0 1364.4,205.3 1360.9,205.3 1359.8,202.0ZM1363.8,202.9 1366.6,205.0 1365.5,208.3 1362.0,208.3 1360.9,205.0ZM1364.3,179.2 1367.2,181.3 1366.1,184.6 1362.6,184.6 1361.5,181.3ZM1364.9,208.0 1367.7,210.0 1366.6,213.4 1363.1,213.4 1362.0,210.0ZM1365.4,192.1 1368.3,194.2 1367.2,197.5 1363.7,197.5 1362.6,194.2ZM1366.0,177.7 1368.8,179.8 1367.7,183.1 1364.2,183.1 1363.1,179.8ZM1366.5,197.2 1369.4,199.3 1368.3,202.7 1364.8,202.7 1363.7,199.3ZM1367.6,170.6 1370.5,172.7 1369.4,176.0 1365.9,176.0 1364.8,172.7ZM1368.2,162.7 1371.0,164.8 1369.9,168.2 1366.4,168.2 1365.3,164.8ZM1368.7,189.5 1371.6,191.5 1370.5,194.9 1367.0,194.9 1365.9,191.5ZM1369.3,184.8 1372.1,186.8 1371.0,190.2 1367.5,190.2 1366.4,186.8ZM1370.4,179.5 1373.2,181.6 1372.1,185.0 1368.6,185.0 1367.5,181.6ZM1370.9,208.4 1373.8,210.5 1372.7,213.8 1369.1,213.8 1368.1,210.5ZM1371.5,179.6 1374.3,181.7 1373.2,185.0 1369.7,185.0 1368.6,181.7ZM1372.0,175.1 1374.9,177.2 1373.8,180.5 1370.2,180.5 1369.2,177.2ZM1372.6,205.8 1375.4,207.9 1374.3,211.3 1370.8,211.3 1369.7,207.9ZM1373.1,208.7 1376.0,210.8 1374.9,214.1 1371.3,214.1 1370.3,210.8ZM1373.7,192.0 1376.5,194.1 1375.4,197.5 1371.9,197.5 1370.8,194.1ZM1374.2,159.9 1377.1,162.0 1376.0,165.4 1372.4,165.4 1371.4,162.0ZM1375.8,187.7 1378.7,189.7 1377.6,193.1 1374.1,193.1 1373.0,189.7ZM1376.4,211.6 1379.3,213.7 1378.2,217.0 1374.6,217.0 1373.5,213.7ZM1376.9,166.5 1379.8,168.6 1378.7,171.9 1375.2,171.9 1374.1,168.6ZM1377.5,198.3 1380.3,200.4 1379.3,203.8 1375.7,203.8 1374.6,200.4ZM1378.0,178.3 1380.9,180.3 1379.8,183.7 1376.3,183.7 1375.2,180.3ZM1378.6,208.6 1381.4,210.7 1380.4,214.0 1376.8,214.0 1375.7,210.7ZM1379.1,187.1 1382.0,189.2 1380.9,192.5 1377.4,192.5 1376.3,189.2ZM1379.7,204.4 1382.5,206.4 1381.5,209.8 1377.9,209.8 1376.8,206.4ZM1380.2,178.5 1383.1,180.6 1382.0,184.0 1378.5,184.0 1377.4,180.6ZM1380.8,166.9 1383.6,169.0 1382.6,172.3 1379.0,172.3 1377.9,169.0ZM1381.3,171.7 1384.2,173.8 1383.1,177.1 1379.6,177.1 1378.5,173.8ZM1381.9,179.6 1384.7,181.7 1383.6,185.1 1380.1,185.1 1379.0,181.7ZM1382.4,173.3 1385.3,175.4 1384.2,178.7 1380.7,178.7 1379.6,175.4ZM1383.5,210.1 1386.4,212.2 1385.3,215.6 1381.8,215.6 1380.7,212.2ZM1384.1,193.8 1386.9,195.9 1385.8,199.2 1382.3,199.2 1381.2,195.9ZM1384.6,173.8 1387.5,175.9 1386.4,179.2 1382.9,179.2 1381.8,175.9ZM1385.2,188.1 1388.0,190.2 1386.9,193.5 1383.4,193.5 1382.3,190.2ZM1385.7,179.6 1388.6,181.6 1387.5,185.0 1384.0,185.0 1382.9,181.6ZM1386.3,212.8 1389.1,214.9 1388.0,218.3 1384.5,218.3 1383.4,214.9ZM1386.8,195.5 1389.7,197.6 1388.6,200.9 1385.1,200.9 1384.0,197.6ZM1387.4,198.4 1390.2,200.5 1389.1,203.8 1385.6,203.8 1384.5,200.5ZM1387.9,184.9 1390.8,187.0 1389.7,190.4 1386.2,190.4 1385.1,187.0ZM1389.0,179.7 1391.9,181.8 1390.8,185.1 1387.3,185.1 1386.2,181.8ZM1389.6,174.6 1392.4,176.7 1391.3,180.0 1387.8,180.0 1386.7,176.7ZM1390.7,193.8 1393.5,195.8 1392.4,199.2 1388.9,199.2 1387.8,195.8ZM1391.2,180.2 1394.1,182.2 1393.0,185.6 1389.5,185.6 1388.4,182.2ZM1391.8,186.8 1394.6,188.8 1393.5,192.2 1390.0,192.2 1388.9,188.8ZM1392.3,217.1 1395.2,219.2 1394.1,222.5 1390.5,222.5 1389.5,219.2ZM1392.9,178.5 1395.7,180.5 1394.6,183.9 1391.1,183.9 1390.0,180.5ZM1393.4,179.3 1396.3,181.4 1395.2,184.8 1391.6,184.8 1390.6,181.4ZM1394.0,190.2 1396.8,192.3 1395.7,195.6 1392.2,195.6 1391.1,192.3ZM1394.5,183.2 1397.4,185.3 1396.3,188.6 1392.7,188.6 1391.7,185.3ZM1395.1,187.6 1397.9,189.6 1396.8,193.0 1393.3,193.0 1392.2,189.6ZM1396.2,221.2 1399.0,223.3 1397.9,226.7 1394.4,226.7 1393.3,223.3ZM1397.3,194.8 1400.1,196.9 1399.0,200.2 1395.5,200.2 1394.4,196.9ZM1397.8,196.0 1400.7,198.0 1399.6,201.4 1396.0,201.4 1394.9,198.0ZM1398.3,194.3 1401.2,196.4 1400.1,199.7 1396.6,199.7 1395.5,196.4ZM1398.9,192.9 1401.8,195.0 1400.7,198.4 1397.1,198.4 1396.0,195.0ZM1399.4,190.8 1402.3,192.9 1401.2,196.2 1397.7,196.2 1396.6,192.9ZM1400.0,211.7 1402.8,213.7 1401.8,217.1 1398.2,217.1 1397.1,213.7ZM1400.5,189.4 1403.4,191.4 1402.3,194.8 1398.8,194.8 1397.7,191.4ZM1401.1,194.7 1403.9,196.8 1402.9,200.2 1399.3,200.2 1398.2,196.8ZM1402.2,198.7 1405.0,200.8 1404.0,204.2 1400.4,204.2 1399.3,200.8ZM1402.7,194.7 1405.6,196.8 1404.5,200.1 1401.0,200.1 1399.9,196.8ZM1403.3,212.8 1406.1,214.9 1405.1,218.2 1401.5,218.2 1400.4,214.9ZM1403.8,197.6 1406.7,199.7 1405.6,203.0 1402.1,203.0 1401.0,199.7ZM1404.9,197.3 1407.8,199.4 1406.7,202.8 1403.2,202.8 1402.1,199.4ZM1405.5,183.0 1408.3,185.1 1407.2,188.4 1403.7,188.4 1402.6,185.1ZM1406.0,185.8 1408.9,187.9 1407.8,191.3 1404.3,191.3 1403.2,187.9ZM1406.6,182.7 1409.4,184.8 1408.3,188.1 1404.8,188.1 1403.7,184.8ZM1407.1,201.9 1410.0,204.0 1408.9,207.3 1405.4,207.3 1404.3,204.0ZM1407.7,188.2 1410.5,190.3 1409.4,193.7 1405.9,193.7 1404.8,190.3ZM1408.2,183.1 1411.1,185.2 1410.0,188.6 1406.5,188.6 1405.4,185.2ZM1408.8,203.2 1411.6,205.3 1410.5,208.6 1407.0,208.6 1405.9,205.3ZM1409.3,207.8 1412.2,209.8 1411.1,213.2 1407.6,213.2 1406.5,209.8ZM1409.9,173.1 1412.7,175.2 1411.6,178.5 1408.1,178.5 1407.0,175.2ZM1410.4,226.0 1413.3,228.0 1412.2,231.4 1408.7,231.4 1407.6,228.0ZM1411.0,200.9 1413.8,202.9 1412.7,206.3 1409.2,206.3 1408.1,202.9ZM1411.5,199.0 1414.4,201.1 1413.3,204.4 1409.8,204.4 1408.7,201.1ZM1412.6,202.1 1415.5,204.1 1414.4,207.5 1410.9,207.5 1409.8,204.1ZM1413.2,192.0 1416.0,194.1 1414.9,197.4 1411.4,197.4 1410.3,194.1ZM1413.7,234.8 1416.6,236.9 1415.5,240.3 1412.0,240.3 1410.9,236.9ZM1414.3,185.2 1417.1,187.3 1416.0,190.7 1412.5,190.7 1411.4,187.3ZM1414.8,200.3 1417.7,202.4 1416.6,205.7 1413.0,205.7 1412.0,202.4ZM1415.4,214.9 1418.2,217.0 1417.1,220.3 1413.6,220.3 1412.5,217.0ZM1415.9,186.0 1418.8,188.0 1417.7,191.4 1414.1,191.4 1413.1,188.0ZM1416.5,200.9 1419.3,203.0 1418.2,206.3 1414.7,206.3 1413.6,203.0ZM1417.0,208.6 1419.9,210.6 1418.8,214.0 1415.2,214.0 1414.2,210.6ZM1417.6,239.4 1420.4,241.5 1419.3,244.8 1415.8,244.8 1414.7,241.5ZM1418.1,189.5 1421.0,191.6 1419.9,195.0 1416.3,195.0 1415.3,191.6ZM1419.8,205.0 1422.6,207.1 1421.5,210.4 1418.0,210.4 1416.9,207.1ZM1420.8,210.4 1423.7,212.5 1422.6,215.8 1419.1,215.8 1418.0,212.5ZM1421.4,206.0 1424.2,208.1 1423.2,211.5 1419.6,211.5 1418.5,208.1ZM1421.9,211.4 1424.8,213.5 1423.7,216.8 1420.2,216.8 1419.1,213.5ZM1422.5,222.0 1425.3,224.1 1424.3,227.4 1420.7,227.4 1419.6,224.1ZM1423.0,220.4 1425.9,222.5 1424.8,225.9 1421.3,225.9 1420.2,222.5ZM1423.6,211.5 1426.4,213.5 1425.4,216.9 1421.8,216.9 1420.7,213.5ZM1424.1,210.2 1427.0,212.3 1425.9,215.6 1422.4,215.6 1421.3,212.3ZM1424.7,189.1 1427.5,191.1 1426.5,194.5 1422.9,194.5 1421.8,191.1ZM1425.2,203.9 1428.1,206.0 1427.0,209.3 1423.5,209.3 1422.4,206.0ZM1426.3,200.3 1429.2,202.4 1428.1,205.7 1424.6,205.7 1423.5,202.4ZM1426.9,208.0 1429.7,210.1 1428.6,213.5 1425.1,213.5 1424.0,210.1ZM1427.4,194.3 1430.3,196.4 1429.2,199.7 1425.7,199.7 1424.6,196.4ZM1428.0,230.2 1430.8,232.3 1429.7,235.7 1426.2,235.7 1425.1,232.3ZM1428.5,239.8 1431.4,241.9 1430.3,245.2 1426.8,245.2 1425.7,241.9ZM1429.1,201.5 1431.9,203.6 1430.8,207.0 1427.3,207.0 1426.2,203.6ZM1429.6,213.7 1432.5,215.8 1431.4,219.1 1427.9,219.1 1426.8,215.8ZM1430.2,204.3 1433.0,206.4 1431.9,209.8 1428.4,209.8 1427.3,206.4ZM1430.7,227.2 1433.6,229.2 1432.5,232.6 1429.0,232.6 1427.9,229.2ZM1431.3,214.9 1434.1,216.9 1433.0,220.3 1429.5,220.3 1428.4,216.9ZM1431.8,209.7 1434.7,211.8 1433.6,215.1 1430.1,215.1 1429.0,211.8ZM1432.4,205.4 1435.2,207.4 1434.1,210.8 1430.6,210.8 1429.5,207.4ZM1432.9,210.9 1435.8,212.9 1434.7,216.3 1431.2,216.3 1430.1,212.9ZM1433.5,194.1 1436.3,196.1 1435.2,199.5 1431.7,199.5 1430.6,196.1ZM1434.0,219.6 1436.9,221.6 1435.8,225.0 1432.3,225.0 1431.2,221.6ZM1435.1,217.9 1438.0,220.0 1436.9,223.3 1433.4,223.3 1432.3,220.0ZM1435.7,212.0 1438.5,214.1 1437.4,217.4 1433.9,217.4 1432.8,214.1ZM1436.2,226.7 1439.1,228.8 1438.0,232.2 1434.4,232.2 1433.4,228.8ZM1436.8,210.2 1439.6,212.3 1438.5,215.6 1435.0,215.6 1433.9,212.3ZM1437.3,226.1 1440.2,228.2 1439.1,231.5 1435.5,231.5 1434.5,228.2ZM1437.9,197.0 1440.7,199.1 1439.6,202.4 1436.1,202.4 1435.0,199.1ZM1438.4,220.3 1441.3,222.4 1440.2,225.7 1436.6,225.7 1435.6,222.4ZM1439.0,207.9 1441.8,210.0 1440.7,213.4 1437.2,213.4 1436.1,210.0ZM1440.1,212.8 1442.9,214.9 1441.8,218.3 1438.3,218.3 1437.2,214.9ZM1440.6,226.1 1443.5,228.1 1442.4,231.5 1438.8,231.5 1437.7,228.1ZM1441.2,181.8 1444.0,183.9 1442.9,187.2 1439.4,187.2 1438.3,183.9ZM1441.7,217.3 1444.6,219.3 1443.5,222.7 1439.9,222.7 1438.8,219.3ZM1442.2,190.1 1445.1,192.2 1444.0,195.6 1440.5,195.6 1439.4,192.2ZM1442.8,232.1 1445.7,234.1 1444.6,237.5 1441.0,237.5 1439.9,234.1ZM1443.3,186.5 1446.2,188.6 1445.1,191.9 1441.6,191.9 1440.5,188.6ZM1443.9,203.3 1446.7,205.4 1445.7,208.8 1442.1,208.8 1441.0,205.4ZM1444.4,195.5 1447.3,197.6 1446.2,200.9 1442.7,200.9 1441.6,197.6ZM1445.0,248.4 1447.8,250.4 1446.8,253.8 1443.2,253.8 1442.1,250.4ZM1445.5,209.1 1448.4,211.2 1447.3,214.5 1443.8,214.5 1442.7,211.2ZM1094.1,20.3 1097.0,22.4 1095.9,25.7 1092.3,25.7 1091.2,22.4ZM1100.2,19.9 1103.1,22.0 1102.0,25.3 1098.4,25.3 1097.3,22.0ZM1423.6,267.2 1426.5,269.3 1425.4,272.6 1421.8,272.6 1420.7,269.3ZM1381.0,241.5 1383.9,243.6 1382.8,246.9 1379.2,246.9 1378.1,243.6ZM1430.0,253.7 1432.9,255.8 1431.8,259.1 1428.2,259.1 1427.1,255.8ZM1431.0,242.0 1433.9,244.1 1432.8,247.4 1429.2,247.4 1428.1,244.1ZM1362.5,221.5 1365.4,223.6 1364.3,226.9 1360.7,226.9 1359.6,223.6ZM1292.5,212.5 1295.4,214.6 1294.3,217.9 1290.7,217.9 1289.6,214.6ZM1311.0,208.0 1313.9,210.1 1312.8,213.4 1309.2,213.4 1308.1,210.1ZM1329.0,214.0 1331.9,216.1 1330.8,219.4 1327.2,219.4 1326.1,216.1ZM1284.7,115.3 1287.6,117.4 1286.5,120.7 1282.9,120.7 1281.8,117.4ZM1295.0,124.4 1297.9,126.5 1296.8,129.8 1293.2,129.8 1292.1,126.5ZM1333.0,133.0 1335.9,135.1 1334.8,138.4 1331.2,138.4 1330.1,135.1ZM1386.8,137.0 1389.7,139.1 1388.6,142.4 1385.0,142.4 1383.9,139.1ZM1406.5,144.6 1409.4,146.7 1408.3,150.0 1404.7,150.0 1403.6,146.7ZM1429.4,169.3 1432.3,171.4 1431.2,174.7 1427.6,174.7 1426.5,171.4ZM1446.5,176.0 1449.4,178.1 1448.3,181.4 1444.7,181.4 1443.6,178.1ZM1105.7,36.2 1108.6,38.3 1107.5,41.6 1103.9,41.6 1102.8,38.3ZM1160.9,44.6 1163.8,46.7 1162.7,50.0 1159.1,50.0 1158.0,46.7ZM1196.3,65.5 1199.2,67.6 1198.1,70.9 1194.5,70.9 1193.4,67.6ZM1131.0,47.6 1133.9,49.7 1132.8,53.0 1129.2,53.0 1128.1,49.7Z" fill="#ff0000" stroke="#ff0000" stroke-width="1.5" stroke-linejoin="round"/>
<path d="M1093.2,70.8 1096.1,72.9 1095.0,76.3 1091.5,76.3 1090.4,72.9ZM1093.8,69.5 1096.6,71.6 1095.6,74.9 1092.0,74.9 1090.9,71.6ZM1094.3,70.4 1097.2,72.5 1096.1,75.8 1092.6,75.8 1091.5,72.5ZM1094.9,71.9 1097.7,74.0 1096.7,77.3 1093.1,77.3 1092.0,74.0ZM1095.4,72.4 1098.3,74.5 1097.2,77.8 1093.7,77.8 1092.6,74.5ZM1096.0,70.8 1098.8,72.9 1097.8,76.3 1094.2,76.3 1093.1,72.9ZM1096.5,71.2 1099.4,73.2 1098.3,76.6 1094.8,76.6 1093.7,73.2ZM1097.1,72.4 1099.9,74.5 1098.8,77.9 1095.3,77.9 1094.2,74.5ZM1097.6,71.5 1100.5,73.6 1099.4,76.9 1095.9,76.9 1094.8,73.6ZM1098.2,71.4 1101.0,73.5 1099.9,76.8 1096.4,76.8 1095.3,73.5ZM1098.7,72.3 1101.6,74.4 1100.5,77.7 1097.0,77.7 1095.9,74.4ZM1099.3,72.1 1102.1,74.1 1101.0,77.5 1097.5,77.5 1096.4,74.1ZM1099.8,72.9 1102.7,74.9 1101.6,78.3 1098.1,78.3 1097.0,74.9ZM1100.4,72.7 1103.2,74.8 1102.1,78.1 1098.6,78.1 1097.5,74.8ZM1100.9,71.8 1103.8,73.8 1102.7,77.2 1099.2,77.2 1098.1,73.8ZM1101.5,72.3 1104.3,74.4 1103.2,77.7 1099.7,77.7 1098.6,74.4ZM1102.0,72.6 1104.9,74.7 1103.8,78.0 1100.3,78.0 1099.2,74.7ZM1102.6,71.9 1105.4,73.9 1104.3,77.3 1100.8,77.3 1099.7,73.9ZM1103.1,72.5 1106.0,74.6 1104.9,78.0 1101.4,78.0 1100.3,74.6ZM1103.7,74.5 1106.5,76.6 1105.4,79.9 1101.9,79.9 1100.8,76.6ZM1104.2,72.9 1107.1,75.0 1106.0,78.4 1102.5,78.4 1101.4,75.0ZM1104.8,75.5 1107.6,77.6 1106.5,80.9 1103.0,80.9 1101.9,77.6ZM1105.3,75.5 1108.2,77.5 1107.1,80.9 1103.6,80.9 1102.5,77.5ZM1105.9,75.7 1108.7,77.7 1107.6,81.1 1104.1,81.1 1103.0,77.7ZM1106.4,76.8 1109.3,78.9 1108.2,82.2 1104.7,82.2 1103.6,78.9ZM1107.0,77.3 1109.8,79.4 1108.7,82.7 1105.2,82.7 1104.1,79.4ZM1107.5,78.5 1110.4,80.5 1109.3,83.9 1105.7,83.9 1104.7,80.5ZM1108.1,77.8 1110.9,79.9 1109.8,83.2 1106.3,83.2 1105.2,79.9ZM1108.6,78.5 1111.5,80.6 1110.4,84.0 1106.8,84.0 1105.8,80.6ZM1109.2,79.1 1112.0,81.2 1110.9,84.5 1107.4,84.5 1106.3,81.2ZM1109.7,81.4 1112.6,83.5 1111.5,86.8 1107.9,86.8 1106.9,83.5ZM1110.3,81.2 1113.1,83.3 1112.0,86.6 1108.5,86.6 1107.4,83.3ZM1110.8,80.2 1113.7,82.3 1112.6,85.6 1109.0,85.6 1108.0,82.3ZM1111.4,81.2 1114.2,83.3 1113.1,86.6 1109.6,86.6 1108.5,83.3ZM1111.9,81.3 1114.8,83.4 1113.7,86.8 1110.1,86.8 1109.0,83.4ZM1112.5,82.4 1115.3,84.4 1114.2,87.8 1110.7,87.8 1109.6,84.4ZM1113.0,82.9 1115.9,85.0 1114.8,88.4 1111.2,88.4 1110.1,85.0ZM1113.5,85.0 1116.4,87.1 1115.3,90.4 1111.8,90.4 1110.7,87.1ZM1114.1,82.0 1116.9,84.1 1115.9,87.5 1112.3,87.5 1111.2,84.1ZM1114.6,84.7 1117.5,86.7 1116.4,90.1 1112.9,90.1 1111.8,86.7ZM1115.2,84.5 1118.0,86.6 1117.0,89.9 1113.4,89.9 1112.3,86.6ZM1115.7,83.9 1118.6,86.0 1117.5,89.3 1114.0,89.3 1112.9,86.0ZM1116.3,84.7 1119.1,86.7 1118.1,90.1 1114.5,90.1 1113.4,86.7ZM1116.8,84.7 1119.7,86.8 1118.6,90.1 1115.1,90.1 1114.0,86.8ZM1117.4,85.5 1120.2,87.5 1119.2,90.9 1115.6,90.9 1114.5,87.5ZM1117.9,86.5 1120.8,88.6 1119.7,92.0 1116.2,92.0 1115.1,88.6ZM1118.5,84.8 1121.3,86.9 1120.2,90.3 1116.7,90.3 1115.6,86.9ZM1119.0,87.4 1121.9,89.5 1120.8,92.9 1117.3,92.9 1116.2,89.5ZM1119.6,86.4 1122.4,88.5 1121.3,91.8 1117.8,91.8 1116.7,88.5ZM1120.1,88.2 1123.0,90.3 1121.9,93.6 1118.4,93.6 1117.3,90.3ZM1120.7,87.6 1123.5,89.7 1122.4,93.1 1118.9,93.1 1117.8,89.7ZM1121.2,88.6 1124.1,90.7 1123.0,94.0 1119.5,94.0 1118.4,90.7ZM1121.8,88.4 1124.6,90.5 1123.5,93.9 1120.0,93.9 1118.9,90.5ZM1122.3,89.2 1125.2,91.3 1124.1,94.6 1120.6,94.6 1119.5,91.3ZM1122.9,88.8 1125.7,90.9 1124.6,94.2 1121.1,94.2 1120.0,90.9ZM1123.4,88.5 1126.3,90.6 1125.2,93.9 1121.7,93.9 1120.6,90.6ZM1124.0,90.1 1126.8,92.2 1125.7,95.6 1122.2,95.6 1121.1,92.2ZM1124.5,90.6 1127.4,92.7 1126.3,96.0 1122.8,96.0 1121.7,92.7ZM1125.1,92.1 1127.9,94.2 1126.8,97.5 1123.3,97.5 1122.2,94.2ZM1125.6,89.2 1128.5,91.3 1127.4,94.6 1123.9,94.6 1122.8,91.3ZM1126.2,91.1 1129.0,93.1 1127.9,96.5 1124.4,96.5 1123.3,93.1ZM1126.7,92.5 1129.6,94.6 1128.5,97.9 1125.0,97.9 1123.9,94.6ZM1127.3,91.0 1130.1,93.1 1129.0,96.5 1125.5,96.5 1124.4,93.1ZM1127.8,92.3 1130.7,94.4 1129.6,97.7 1126.1,97.7 1125.0,94.4ZM1128.4,94.6 1131.2,96.7 1130.1,100.0 1126.6,100.0 1125.5,96.7ZM1128.9,94.4 1131.8,96.5 1130.7,99.9 1127.1,99.9 1126.1,96.5ZM1129.5,93.0 1132.3,95.1 1131.2,98.4 1127.7,98.4 1126.6,95.1ZM1130.0,95.2 1132.9,97.3 1131.8,100.7 1128.2,100.7 1127.2,97.3ZM1130.6,95.4 1133.4,97.5 1132.3,100.8 1128.8,100.8 1127.7,97.5ZM1131.1,95.4 1134.0,97.5 1132.9,100.8 1129.3,100.8 1128.3,97.5ZM1131.7,95.4 1134.5,97.4 1133.4,100.8 1129.9,100.8 1128.8,97.4ZM1132.2,95.5 1135.1,97.6 1134.0,101.0 1130.4,101.0 1129.4,97.6ZM1132.8,94.9 1135.6,97.0 1134.5,100.3 1131.0,100.3 1129.9,97.0ZM1133.3,95.4 1136.2,97.5 1135.1,100.9 1131.5,100.9 1130.4,97.5ZM1133.9,96.6 1136.7,98.7 1135.6,102.1 1132.1,102.1 1131.0,98.7ZM1134.4,96.4 1137.3,98.4 1136.2,101.8 1132.6,101.8 1131.5,98.4ZM1134.9,97.9 1137.8,100.0 1136.7,103.3 1133.2,103.3 1132.1,100.0ZM1135.5,96.3 1138.4,98.4 1137.3,101.7 1133.7,101.7 1132.6,98.4ZM1136.0,94.8 1138.9,96.8 1137.8,100.2 1134.3,100.2 1133.2,96.8ZM1136.6,96.5 1139.4,98.6 1138.4,102.0 1134.8,102.0 1133.7,98.6ZM1137.1,98.0 1140.0,100.1 1138.9,103.4 1135.4,103.4 1134.3,100.1ZM1137.7,98.0 1140.5,100.1 1139.5,103.5 1135.9,103.5 1134.8,100.1ZM1138.2,97.7 1141.1,99.8 1140.0,103.1 1136.5,103.1 1135.4,99.8ZM1138.8,96.9 1141.6,99.0 1140.6,102.4 1137.0,102.4 1135.9,99.0ZM1139.3,98.7 1142.2,100.8 1141.1,104.1 1137.6,104.1 1136.5,100.8ZM1139.9,96.9 1142.7,98.9 1141.7,102.3 1138.1,102.3 1137.0,98.9ZM1140.4,97.9 1143.3,99.9 1142.2,103.3 1138.7,103.3 1137.6,99.9ZM1141.0,97.0 1143.8,99.1 1142.7,102.4 1139.2,102.4 1138.1,99.1ZM1141.5,96.2 1144.4,98.3 1143.3,101.6 1139.8,101.6 1138.7,98.3ZM1142.1,98.2 1144.9,100.3 1143.8,103.7 1140.3,103.7 1139.2,100.3ZM1142.6,95.0 1145.5,97.1 1144.4,100.5 1140.9,100.5 1139.8,97.1ZM1143.2,96.3 1146.0,98.4 1144.9,101.8 1141.4,101.8 1140.3,98.4ZM1143.7,97.4 1146.6,99.4 1145.5,102.8 1142.0,102.8 1140.9,99.4ZM1144.3,96.7 1147.1,98.8 1146.0,102.2 1142.5,102.2 1141.4,98.8ZM1144.8,97.6 1147.7,99.7 1146.6,103.1 1143.1,103.1 1142.0,99.7ZM1145.4,97.0 1148.2,99.1 1147.1,102.4 1143.6,102.4 1142.5,99.1ZM1145.9,96.8 1148.8,98.9 1147.7,102.2 1144.2,102.2 1143.1,98.9ZM1146.5,99.0 1149.3,101.1 1148.2,104.4 1144.7,104.4 1143.6,101.1ZM1147.0,97.3 1149.9,99.3 1148.8,102.7 1145.3,102.7 1144.2,99.3ZM1147.6,97.5 1150.4,99.6 1149.3,103.0 1145.8,103.0 1144.7,99.6ZM1148.1,97.1 1151.0,99.1 1149.9,102.5 1146.4,102.5 1145.3,99.1ZM1148.7,97.7 1151.5,99.8 1150.4,103.1 1146.9,103.1 1145.8,99.8ZM1149.2,99.2 1152.1,101.3 1151.0,104.6 1147.5,104.6 1146.4,101.3ZM1149.8,99.6 1152.6,101.7 1151.5,105.0 1148.0,105.0 1146.9,101.7ZM1150.3,99.7 1153.2,101.8 1152.1,105.1 1148.6,105.1 1147.5,101.8ZM1150.9,99.7 1153.7,101.8 1152.6,105.1 1149.1,105.1 1148.0,101.8ZM1151.4,101.5 1154.3,103.5 1153.2,106.9 1149.6,106.9 1148.6,103.5ZM1152.0,100.2 1154.8,102.3 1153.7,105.7 1150.2,105.7 1149.1,102.3ZM1152.5,102.1 1155.4,104.1 1154.3,107.5 1150.7,107.5 1149.7,104.1ZM1153.1,102.9 1155.9,105.0 1154.8,108.3 1151.3,108.3 1150.2,105.0ZM1153.6,103.2 1156.5,105.3 1155.4,108.7 1151.8,108.7 1150.8,105.3ZM1154.2,104.8 1157.0,106.9 1155.9,110.3 1152.4,110.3 1151.3,106.9ZM1154.7,105.0 1157.6,107.1 1156.5,110.4 1152.9,110.4 1151.9,107.1ZM1155.3,105.7 1158.1,107.8 1157.0,111.1 1153.5,111.1 1152.4,107.8ZM1155.8,108.6 1158.7,110.6 1157.6,114.0 1154.0,114.0 1152.9,110.6ZM1156.3,108.5 1159.2,110.5 1158.1,113.9 1154.6,113.9 1153.5,110.5ZM1156.9,109.6 1159.8,111.6 1158.7,115.0 1155.1,115.0 1154.0,111.6ZM1157.4,109.3 1160.3,111.4 1159.2,114.7 1155.7,114.7 1154.6,111.4ZM1158.0,110.6 1160.8,112.7 1159.8,116.1 1156.2,116.1 1155.1,112.7ZM1158.5,111.0 1161.4,113.1 1160.3,116.5 1156.8,116.5 1155.7,113.1ZM1159.1,111.8 1161.9,113.9 1160.9,117.3 1157.3,117.3 1156.2,113.9ZM1159.6,113.2 1162.5,115.3 1161.4,118.6 1157.9,118.6 1156.8,115.3ZM1160.2,111.5 1163.0,113.5 1162.0,116.9 1158.4,116.9 1157.3,113.5ZM1160.7,112.1 1163.6,114.2 1162.5,117.6 1159.0,117.6 1157.9,114.2ZM1161.3,112.1 1164.1,114.2 1163.1,117.5 1159.5,117.5 1158.4,114.2ZM1161.8,109.5 1164.7,111.5 1163.6,114.9 1160.1,114.9 1159.0,111.5ZM1162.4,111.3 1165.2,113.3 1164.1,116.7 1160.6,116.7 1159.5,113.3ZM1162.9,112.4 1165.8,114.5 1164.7,117.9 1161.2,117.9 1160.1,114.5ZM1163.5,113.0 1166.3,115.0 1165.2,118.4 1161.7,118.4 1160.6,115.0ZM1164.0,112.0 1166.9,114.1 1165.8,117.4 1162.3,117.4 1161.2,114.1ZM1164.6,113.3 1167.4,115.4 1166.3,118.7 1162.8,118.7 1161.7,115.4ZM1165.1,113.4 1168.0,115.5 1166.9,118.8 1163.4,118.8 1162.3,115.5ZM1165.7,112.0 1168.5,114.1 1167.4,117.4 1163.9,117.4 1162.8,114.1ZM1166.2,113.4 1169.1,115.5 1168.0,118.9 1164.5,118.9 1163.4,115.5ZM1166.8,113.7 1169.6,115.7 1168.5,119.1 1165.0,119.1 1163.9,115.7ZM1167.3,112.6 1170.2,114.6 1169.1,118.0 1165.6,118.0 1164.5,114.6ZM1167.9,111.4 1170.7,113.4 1169.6,116.8 1166.1,116.8 1165.0,113.4ZM1168.4,113.2 1171.3,115.3 1170.2,118.7 1166.7,118.7 1165.6,115.3ZM1169.0,111.9 1171.8,113.9 1170.7,117.3 1167.2,117.3 1166.1,113.9ZM1169.5,111.6 1172.4,113.7 1171.3,117.1 1167.8,117.1 1166.7,113.7ZM1170.1,112.0 1172.9,114.1 1171.8,117.4 1168.3,117.4 1167.2,114.1ZM1170.6,111.5 1173.5,113.5 1172.4,116.9 1168.9,116.9 1167.8,113.5ZM1171.2,112.7 1174.0,114.8 1172.9,118.2 1169.4,118.2 1168.3,114.8ZM1171.7,112.5 1174.6,114.6 1173.5,118.0 1170.0,118.0 1168.9,114.6ZM1172.3,113.0 1175.1,115.1 1174.0,118.4 1170.5,118.4 1169.4,115.1ZM1172.8,112.6 1175.7,114.7 1174.6,118.0 1171.0,118.0 1170.0,114.7ZM1173.4,111.6 1176.2,113.7 1175.1,117.1 1171.6,117.1 1170.5,113.7ZM1173.9,112.3 1176.8,114.4 1175.7,117.8 1172.1,117.8 1171.1,114.4ZM1174.5,113.4 1177.3,115.4 1176.2,118.8 1172.7,118.8 1171.6,115.4ZM1175.0,112.6 1177.9,114.6 1176.8,118.0 1173.2,118.0 1172.2,114.6ZM1175.6,115.5 1178.4,117.6 1177.3,120.9 1173.8,120.9 1172.7,117.6ZM1176.1,113.2 1179.0,115.3 1177.9,118.6 1174.3,118.6 1173.3,115.3ZM1176.7,113.2 1179.5,115.3 1178.4,118.6 1174.9,118.6 1173.8,115.3ZM1177.2,114.9 1180.1,117.0 1179.0,120.3 1175.4,120.3 1174.3,117.0ZM1177.8,114.9 1180.6,116.9 1179.5,120.3 1176.0,120.3 1174.9,116.9ZM1178.3,114.5 1181.2,116.6 1180.1,120.0 1176.5,120.0 1175.4,116.6ZM1178.8,114.6 1181.7,116.7 1180.6,120.1 1177.1,120.1 1176.0,116.7ZM1179.4,115.4 1182.3,117.5 1181.2,120.8 1177.6,120.8 1176.5,117.5ZM1179.9,115.9 1182.8,118.0 1181.7,121.4 1178.2,121.4 1177.1,118.0ZM1180.5,116.1 1183.3,118.1 1182.3,121.5 1178.7,121.5 1177.6,118.1ZM1181.0,115.4 1183.9,117.4 1182.8,120.8 1179.3,120.8 1178.2,117.4ZM1181.6,116.1 1184.4,118.2 1183.4,121.5 1179.8,121.5 1178.7,118.2ZM1182.1,116.5 1185.0,118.6 1183.9,122.0 1180.4,122.0 1179.3,118.6ZM1182.7,116.6 1185.5,118.6 1184.5,122.0 1180.9,122.0 1179.8,118.6ZM1183.2,113.6 1186.1,115.7 1185.0,119.0 1181.5,119.0 1180.4,115.7ZM1183.8,115.4 1186.6,117.5 1185.6,120.9 1182.0,120.9 1180.9,117.5ZM1184.3,115.6 1187.2,117.7 1186.1,121.0 1182.6,121.0 1181.5,117.7ZM1184.9,116.1 1187.7,118.2 1186.6,121.5 1183.1,121.5 1182.0,118.2ZM1185.4,116.5 1188.3,118.6 1187.2,121.9 1183.7,121.9 1182.6,118.6ZM1186.0,117.1 1188.8,119.2 1187.7,122.5 1184.2,122.5 1183.1,119.2ZM1186.5,116.9 1189.4,119.0 1188.3,122.3 1184.8,122.3 1183.7,119.0ZM1187.1,116.3 1189.9,118.4 1188.8,121.7 1185.3,121.7 1184.2,118.4ZM1187.6,116.4 1190.5,118.5 1189.4,121.9 1185.9,121.9 1184.8,118.5ZM1188.2,117.8 1191.0,119.9 1189.9,123.2 1186.4,123.2 1185.3,119.9ZM1188.7,115.9 1191.6,118.0 1190.5,121.3 1187.0,121.3 1185.9,118.0ZM1189.3,116.7 1192.1,118.7 1191.0,122.1 1187.5,122.1 1186.4,118.7ZM1189.8,117.7 1192.7,119.8 1191.6,123.2 1188.1,123.2 1187.0,119.8ZM1190.4,116.9 1193.2,118.9 1192.1,122.3 1188.6,122.3 1187.5,118.9ZM1190.9,115.1 1193.8,117.2 1192.7,120.5 1189.2,120.5 1188.1,117.2ZM1191.5,117.2 1194.3,119.3 1193.2,122.7 1189.7,122.7 1188.6,119.3ZM1192.0,116.9 1194.9,118.9 1193.8,122.3 1190.3,122.3 1189.2,118.9ZM1192.6,117.3 1195.4,119.4 1194.3,122.8 1190.8,122.8 1189.7,119.4ZM1193.1,118.6 1196.0,120.6 1194.9,124.0 1191.4,124.0 1190.3,120.6ZM1193.7,118.4 1196.5,120.5 1195.4,123.8 1191.9,123.8 1190.8,120.5ZM1194.2,118.2 1197.1,120.3 1196.0,123.6 1192.5,123.6 1191.4,120.3ZM1194.8,119.5 1197.6,121.6 1196.5,124.9 1193.0,124.9 1191.9,121.6ZM1195.3,119.6 1198.2,121.7 1197.1,125.1 1193.5,125.1 1192.5,121.7ZM1195.9,119.9 1198.7,122.0 1197.6,125.3 1194.1,125.3 1193.0,122.0ZM1196.4,120.6 1199.3,122.7 1198.2,126.0 1194.6,126.0 1193.6,122.7ZM1197.0,121.2 1199.8,123.2 1198.7,126.6 1195.2,126.6 1194.1,123.2ZM1197.5,121.3 1200.4,123.4 1199.3,126.7 1195.7,126.7 1194.7,123.4ZM1198.1,121.8 1200.9,123.9 1199.8,127.2 1196.3,127.2 1195.2,123.9ZM1198.6,122.8 1201.5,124.9 1200.4,128.2 1196.8,128.2 1195.8,124.9ZM1199.2,122.7 1202.0,124.7 1200.9,128.1 1197.4,128.1 1196.3,124.7ZM1199.7,123.0 1202.6,125.1 1201.5,128.4 1197.9,128.4 1196.8,125.1ZM1200.2,125.7 1203.1,127.8 1202.0,131.1 1198.5,131.1 1197.4,127.8ZM1200.8,125.1 1203.7,127.2 1202.6,130.5 1199.0,130.5 1197.9,127.2ZM1201.3,125.9 1204.2,128.0 1203.1,131.4 1199.6,131.4 1198.5,128.0ZM1201.9,126.5 1204.7,128.6 1203.7,132.0 1200.1,132.0 1199.0,128.6ZM1202.4,127.3 1205.3,129.4 1204.2,132.8 1200.7,132.8 1199.6,129.4ZM1203.0,128.0 1205.8,130.1 1204.8,133.5 1201.2,133.5 1200.1,130.1ZM1203.5,128.8 1206.4,130.8 1205.3,134.2 1201.8,134.2 1200.7,130.8ZM1204.1,128.8 1206.9,130.8 1205.9,134.2 1202.3,134.2 1201.2,130.8ZM1204.6,130.8 1207.5,132.9 1206.4,136.2 1202.9,136.2 1201.8,132.9ZM1205.2,130.1 1208.0,132.2 1207.0,135.5 1203.4,135.5 1202.3,132.2ZM1205.7,132.0 1208.6,134.1 1207.5,137.4 1204.0,137.4 1202.9,134.1ZM1206.3,130.1 1209.1,132.2 1208.0,135.5 1204.5,135.5 1203.4,132.2ZM1206.8,131.2 1209.7,133.3 1208.6,136.6 1205.1,136.6 1204.0,133.3ZM1207.4,133.2 1210.2,135.3 1209.1,138.6 1205.6,138.6 1204.5,135.3ZM1207.9,132.6 1210.8,134.7 1209.7,138.0 1206.2,138.0 1205.1,134.7ZM1208.5,132.4 1211.3,134.5 1210.2,137.8 1206.7,137.8 1205.6,134.5ZM1209.0,133.4 1211.9,135.5 1210.8,138.9 1207.3,138.9 1206.2,135.5ZM1209.6,132.4 1212.4,134.5 1211.3,137.9 1207.8,137.9 1206.7,134.5ZM1210.1,133.4 1213.0,135.5 1211.9,138.9 1208.4,138.9 1207.3,135.5ZM1210.7,131.7 1213.5,133.8 1212.4,137.1 1208.9,137.1 1207.8,133.8ZM1211.2,133.3 1214.1,135.3 1213.0,138.7 1209.5,138.7 1208.4,135.3ZM1211.8,133.4 1214.6,135.4 1213.5,138.8 1210.0,138.8 1208.9,135.4ZM1212.3,134.5 1215.2,136.6 1214.1,140.0 1210.6,140.0 1209.5,136.6ZM1212.9,135.0 1215.7,137.1 1214.6,140.5 1211.1,140.5 1210.0,137.1ZM1213.4,134.0 1216.3,136.1 1215.2,139.4 1211.7,139.4 1210.6,136.1ZM1214.0,136.4 1216.8,138.5 1215.7,141.9 1212.2,141.9 1211.1,138.5ZM1214.5,135.1 1217.4,137.2 1216.3,140.6 1212.8,140.6 1211.7,137.2ZM1215.1,134.5 1217.9,136.5 1216.8,139.9 1213.3,139.9 1212.2,136.5ZM1215.6,134.7 1218.5,136.8 1217.4,140.2 1213.9,140.2 1212.8,136.8ZM1216.2,138.4 1219.0,140.5 1217.9,143.9 1214.4,143.9 1213.3,140.5ZM1216.7,137.8 1219.6,139.8 1218.5,143.2 1214.9,143.2 1213.9,139.8ZM1217.3,138.0 1220.1,140.0 1219.0,143.4 1215.5,143.4 1214.4,140.0ZM1217.8,138.6 1220.7,140.7 1219.6,144.0 1216.0,144.0 1215.0,140.7ZM1218.4,139.1 1221.2,141.2 1220.1,144.5 1216.6,144.5 1215.5,141.2ZM1218.9,141.9 1221.8,144.0 1220.7,147.3 1217.1,147.3 1216.1,144.0ZM1219.5,141.7 1222.3,143.7 1221.2,147.1 1217.7,147.1 1216.6,143.7ZM1220.0,144.1 1222.9,146.2 1221.8,149.6 1218.2,149.6 1217.2,146.2ZM1220.6,143.6 1223.4,145.6 1222.3,149.0 1218.8,149.0 1217.7,145.6ZM1221.1,142.8 1224.0,144.9 1222.9,148.3 1219.3,148.3 1218.2,144.9ZM1221.7,145.9 1224.5,148.0 1223.4,151.3 1219.9,151.3 1218.8,148.0ZM1222.2,145.5 1225.1,147.6 1224.0,150.9 1220.4,150.9 1219.3,147.6ZM1222.7,146.1 1225.6,148.2 1224.5,151.6 1221.0,151.6 1219.9,148.2ZM1223.3,148.1 1226.2,150.2 1225.1,153.6 1221.5,153.6 1220.4,150.2ZM1223.8,147.2 1226.7,149.3 1225.6,152.7 1222.1,152.7 1221.0,149.3ZM1224.4,148.9 1227.2,151.0 1226.2,154.4 1222.6,154.4 1221.5,151.0ZM1224.9,148.5 1227.8,150.6 1226.7,153.9 1223.2,153.9 1222.1,150.6ZM1225.5,148.4 1228.3,150.5 1227.3,153.8 1223.7,153.8 1222.6,150.5ZM1226.0,149.9 1228.9,152.0 1227.8,155.3 1224.3,155.3 1223.2,152.0ZM1226.6,149.4 1229.4,151.5 1228.4,154.8 1224.8,154.8 1223.7,151.5ZM1227.1,151.3 1230.0,153.4 1228.9,156.7 1225.4,156.7 1224.3,153.4ZM1227.7,151.5 1230.5,153.6 1229.5,156.9 1225.9,156.9 1224.8,153.6ZM1228.2,151.2 1231.1,153.2 1230.0,156.6 1226.5,156.6 1225.4,153.2ZM1228.8,152.0 1231.6,154.0 1230.5,157.4 1227.0,157.4 1225.9,154.0ZM1229.3,152.3 1232.2,154.3 1231.1,157.7 1227.6,157.7 1226.5,154.3ZM1229.9,151.9 1232.7,154.0 1231.6,157.4 1228.1,157.4 1227.0,154.0ZM1230.4,153.2 1233.3,155.3 1232.2,158.6 1228.7,158.6 1227.6,155.3ZM1231.0,152.6 1233.8,154.7 1232.7,158.0 1229.2,158.0 1228.1,154.7ZM1231.5,153.5 1234.4,155.6 1233.3,159.0 1229.8,159.0 1228.7,155.6ZM1232.1,152.5 1234.9,154.6 1233.8,158.0 1230.3,158.0 1229.2,154.6ZM1232.6,153.6 1235.5,155.7 1234.4,159.0 1230.9,159.0 1229.8,155.7ZM1233.2,154.0 1236.0,156.1 1234.9,159.5 1231.4,159.5 1230.3,156.1ZM1233.7,153.3 1236.6,155.4 1235.5,158.7 1232.0,158.7 1230.9,155.4ZM1234.3,153.8 1237.1,155.8 1236.0,159.2 1232.5,159.2 1231.4,155.8ZM1234.8,153.9 1237.7,155.9 1236.6,159.3 1233.1,159.3 1232.0,155.9ZM1235.4,155.0 1238.2,157.1 1237.1,160.5 1233.6,160.5 1232.5,157.1ZM1235.9,154.0 1238.8,156.1 1237.7,159.4 1234.2,159.4 1233.1,156.1ZM1236.5,155.0 1239.3,157.1 1238.2,160.4 1234.7,160.4 1233.6,157.1ZM1237.0,155.9 1239.9,158.0 1238.8,161.3 1235.3,161.3 1234.2,158.0ZM1237.6,155.0 1240.4,157.1 1239.3,160.4 1235.8,160.4 1234.7,157.1ZM1238.1,153.4 1241.0,155.5 1239.9,158.8 1236.4,158.8 1235.3,155.5ZM1238.7,154.7 1241.5,156.8 1240.4,160.2 1236.9,160.2 1235.8,156.8ZM1239.2,155.4 1242.1,157.4 1241.0,160.8 1237.4,160.8 1236.4,157.4ZM1239.8,154.2 1242.6,156.2 1241.5,159.6 1238.0,159.6 1236.9,156.2ZM1240.3,155.1 1243.2,157.2 1242.1,160.5 1238.5,160.5 1237.5,157.2ZM1240.9,154.5 1243.7,156.6 1242.6,159.9 1239.1,159.9 1238.0,156.6ZM1241.4,154.1 1244.3,156.2 1243.2,159.5 1239.6,159.5 1238.6,156.2ZM1242.0,153.3 1244.8,155.3 1243.7,158.7 1240.2,158.7 1239.1,155.3ZM1242.5,152.8 1245.4,154.9 1244.3,158.2 1240.7,158.2 1239.7,154.9ZM1243.1,152.7 1245.9,154.8 1244.8,158.2 1241.3,158.2 1240.2,154.8ZM1243.6,152.7 1246.5,154.8 1245.4,158.1 1241.8,158.1 1240.7,154.8ZM1244.2,152.9 1247.0,154.9 1245.9,158.3 1242.4,158.3 1241.3,154.9ZM1244.7,152.6 1247.6,154.7 1246.5,158.0 1242.9,158.0 1241.8,154.7ZM1245.2,151.9 1248.1,153.9 1247.0,157.3 1243.5,157.3 1242.4,153.9ZM1245.8,152.1 1248.6,154.1 1247.6,157.5 1244.0,157.5 1242.9,154.1ZM1246.3,152.3 1249.2,154.4 1248.1,157.7 1244.6,157.7 1243.5,154.4ZM1246.9,150.7 1249.7,152.8 1248.7,156.1 1245.1,156.1 1244.0,152.8ZM1247.4,151.5 1250.3,153.6 1249.2,156.9 1245.7,156.9 1244.6,153.6ZM1248.0,151.7 1250.8,153.8 1249.8,157.1 1246.2,157.1 1245.1,153.8ZM1248.5,152.5 1251.4,154.5 1250.3,157.9 1246.8,157.9 1245.7,154.5ZM1249.1,152.8 1251.9,154.8 1250.9,158.2 1247.3,158.2 1246.2,154.8ZM1249.6,153.2 1252.5,155.3 1251.4,158.6 1247.9,158.6 1246.8,155.3ZM1250.2,153.1 1253.0,155.2 1251.9,158.6 1248.4,158.6 1247.3,155.2ZM1250.7,154.8 1253.6,156.9 1252.5,160.3 1249.0,160.3 1247.9,156.9ZM1251.3,155.0 1254.1,157.1 1253.0,160.4 1249.5,160.4 1248.4,157.1ZM1251.8,154.0 1254.7,156.1 1253.6,159.4 1250.1,159.4 1249.0,156.1ZM1252.4,155.9 1255.2,157.9 1254.1,161.3 1250.6,161.3 1249.5,157.9ZM1252.9,155.5 1255.8,157.5 1254.7,160.9 1251.2,160.9 1250.1,157.5ZM1253.5,158.3 1256.3,160.3 1255.2,163.7 1251.7,163.7 1250.6,160.3ZM1254.0,157.0 1256.9,159.1 1255.8,162.4 1252.3,162.4 1251.2,159.1ZM1254.6,157.5 1257.4,159.6 1256.3,162.9 1252.8,162.9 1251.7,159.6ZM1255.1,158.3 1258.0,160.3 1256.9,163.7 1253.4,163.7 1252.3,160.3ZM1255.7,158.3 1258.5,160.4 1257.4,163.8 1253.9,163.8 1252.8,160.4ZM1256.2,158.6 1259.1,160.7 1258.0,164.1 1254.5,164.1 1253.4,160.7ZM1256.8,160.0 1259.6,162.1 1258.5,165.5 1255.0,165.5 1253.9,162.1ZM1257.3,159.0 1260.2,161.1 1259.1,164.4 1255.6,164.4 1254.5,161.1ZM1257.9,159.5 1260.7,161.6 1259.6,164.9 1256.1,164.9 1255.0,161.6ZM1258.4,159.7 1261.3,161.7 1260.2,165.1 1256.7,165.1 1255.6,161.7ZM1259.0,157.9 1261.8,160.0 1260.7,163.3 1257.2,163.3 1256.1,160.0ZM1259.5,159.9 1262.4,162.0 1261.3,165.4 1257.8,165.4 1256.7,162.0ZM1260.1,159.0 1262.9,161.1 1261.8,164.5 1258.3,164.5 1257.2,161.1ZM1260.6,159.1 1263.5,161.2 1262.4,164.5 1258.8,164.5 1257.8,161.2ZM1261.2,157.6 1264.0,159.6 1262.9,163.0 1259.4,163.0 1258.3,159.6ZM1261.7,158.8 1264.6,160.9 1263.5,164.2 1259.9,164.2 1258.9,160.9ZM1262.3,158.5 1265.1,160.5 1264.0,163.9 1260.5,163.9 1259.4,160.5ZM1262.8,157.7 1265.7,159.8 1264.6,163.1 1261.0,163.1 1260.0,159.8ZM1263.4,160.0 1266.2,162.1 1265.1,165.5 1261.6,165.5 1260.5,162.1ZM1263.9,158.8 1266.8,160.9 1265.7,164.3 1262.1,164.3 1261.1,160.9ZM1264.5,158.4 1267.3,160.5 1266.2,163.8 1262.7,163.8 1261.6,160.5ZM1265.0,159.0 1267.9,161.1 1266.8,164.4 1263.2,164.4 1262.1,161.1ZM1265.6,159.9 1268.4,161.9 1267.3,165.3 1263.8,165.3 1262.7,161.9ZM1266.1,160.4 1269.0,162.4 1267.9,165.8 1264.3,165.8 1263.2,162.4ZM1266.6,160.3 1269.5,162.4 1268.4,165.7 1264.9,165.7 1263.8,162.4ZM1267.2,161.2 1270.1,163.3 1269.0,166.6 1265.4,166.6 1264.3,163.3ZM1267.7,161.8 1270.6,163.9 1269.5,167.2 1266.0,167.2 1264.9,163.9ZM1268.3,160.1 1271.1,162.1 1270.1,165.5 1266.5,165.5 1265.4,162.1ZM1268.8,161.1 1271.7,163.1 1270.6,166.5 1267.1,166.5 1266.0,163.1ZM1269.4,161.1 1272.2,163.2 1271.2,166.5 1267.6,166.5 1266.5,163.2ZM1269.9,162.3 1272.8,164.4 1271.7,167.7 1268.2,167.7 1267.1,164.4ZM1270.5,163.7 1273.3,165.8 1272.3,169.1 1268.7,169.1 1267.6,165.8ZM1271.0,163.3 1273.9,165.4 1272.8,168.7 1269.3,168.7 1268.2,165.4ZM1271.6,162.2 1274.4,164.3 1273.4,167.6 1269.8,167.6 1268.7,164.3ZM1272.1,163.0 1275.0,165.0 1273.9,168.4 1270.4,168.4 1269.3,165.0ZM1272.7,164.1 1275.5,166.2 1274.4,169.5 1270.9,169.5 1269.8,166.2ZM1273.2,162.9 1276.1,165.0 1275.0,168.4 1271.5,168.4 1270.4,165.0ZM1273.8,163.3 1276.6,165.4 1275.5,168.7 1272.0,168.7 1270.9,165.4ZM1274.3,163.6 1277.2,165.6 1276.1,169.0 1272.6,169.0 1271.5,165.6ZM1274.9,161.8 1277.7,163.8 1276.6,167.2 1273.1,167.2 1272.0,163.8ZM1275.4,163.7 1278.3,165.8 1277.2,169.1 1273.7,169.1 1272.6,165.8ZM1276.0,163.2 1278.8,165.3 1277.7,168.6 1274.2,168.6 1273.1,165.3ZM1276.5,163.2 1279.4,165.3 1278.3,168.7 1274.8,168.7 1273.7,165.3ZM1277.1,161.9 1279.9,163.9 1278.8,167.3 1275.3,167.3 1274.2,163.9ZM1277.6,161.9 1280.5,164.0 1279.4,167.4 1275.9,167.4 1274.8,164.0ZM1278.2,162.0 1281.0,164.1 1279.9,167.4 1276.4,167.4 1275.3,164.1ZM1278.7,162.6 1281.6,164.7 1280.5,168.1 1277.0,168.1 1275.9,164.7ZM1279.3,162.5 1282.1,164.6 1281.0,167.9 1277.5,167.9 1276.4,164.6ZM1279.8,162.6 1282.7,164.6 1281.6,168.0 1278.1,168.0 1277.0,164.6ZM1280.4,163.9 1283.2,166.0 1282.1,169.4 1278.6,169.4 1277.5,166.0ZM1280.9,163.6 1283.8,165.7 1282.7,169.0 1279.2,169.0 1278.1,165.7ZM1281.5,162.1 1284.3,164.1 1283.2,167.5 1279.7,167.5 1278.6,164.1ZM1282.0,162.2 1284.9,164.2 1283.8,167.6 1280.3,167.6 1279.2,164.2ZM1282.6,164.1 1285.4,166.2 1284.3,169.6 1280.8,169.6 1279.7,166.2ZM1283.1,162.6 1286.0,164.7 1284.9,168.0 1281.3,168.0 1280.3,164.7ZM1283.7,164.0 1286.5,166.1 1285.4,169.5 1281.9,169.5 1280.8,166.1ZM1284.2,164.3 1287.1,166.4 1286.0,169.8 1282.4,169.8 1281.4,166.4ZM1284.8,162.8 1287.6,164.8 1286.5,168.2 1283.0,168.2 1281.9,164.8ZM1285.3,163.1 1288.2,165.2 1287.1,168.5 1283.5,168.5 1282.5,165.2ZM1285.9,163.5 1288.7,165.6 1287.6,168.9 1284.1,168.9 1283.0,165.6ZM1286.4,162.9 1289.3,165.0 1288.2,168.3 1284.6,168.3 1283.6,165.0ZM1287.0,162.9 1289.8,165.0 1288.7,168.4 1285.2,168.4 1284.1,165.0ZM1287.5,163.6 1290.4,165.6 1289.3,169.0 1285.7,169.0 1284.6,165.6ZM1288.0,164.8 1290.9,166.8 1289.8,170.2 1286.3,170.2 1285.2,166.8ZM1288.6,164.0 1291.5,166.0 1290.4,169.4 1286.8,169.4 1285.7,166.0ZM1289.1,164.4 1292.0,166.5 1290.9,169.9 1287.4,169.9 1286.3,166.5ZM1289.7,164.5 1292.5,166.6 1291.5,170.0 1287.9,170.0 1286.8,166.6ZM1290.2,164.1 1293.1,166.2 1292.0,169.6 1288.5,169.6 1287.4,166.2ZM1290.8,166.8 1293.6,168.9 1292.6,172.2 1289.0,172.2 1287.9,168.9ZM1291.3,164.1 1294.2,166.2 1293.1,169.6 1289.6,169.6 1288.5,166.2ZM1291.9,166.0 1294.7,168.0 1293.7,171.4 1290.1,171.4 1289.0,168.0ZM1292.4,167.5 1295.3,169.5 1294.2,172.9 1290.7,172.9 1289.6,169.5ZM1293.0,166.4 1295.8,168.5 1294.8,171.8 1291.2,171.8 1290.1,168.5ZM1293.5,168.6 1296.4,170.6 1295.3,174.0 1291.8,174.0 1290.7,170.6ZM1294.1,169.6 1296.9,171.7 1295.8,175.1 1292.3,175.1 1291.2,171.7ZM1294.6,168.5 1297.5,170.6 1296.4,174.0 1292.9,174.0 1291.8,170.6ZM1295.2,170.0 1298.0,172.1 1296.9,175.4 1293.4,175.4 1292.3,172.1ZM1295.7,169.5 1298.6,171.6 1297.5,175.0 1294.0,175.0 1292.9,171.6ZM1296.3,171.4 1299.1,173.5 1298.0,176.8 1294.5,176.8 1293.4,173.5ZM1296.8,171.7 1299.7,173.7 1298.6,177.1 1295.1,177.1 1294.0,173.7ZM1297.4,172.3 1300.2,174.4 1299.1,177.8 1295.6,177.8 1294.5,174.4ZM1297.9,173.8 1300.8,175.9 1299.7,179.2 1296.2,179.2 1295.1,175.9ZM1298.5,173.6 1301.3,175.6 1300.2,179.0 1296.7,179.0 1295.6,175.6ZM1299.0,174.7 1301.9,176.8 1300.8,180.2 1297.3,180.2 1296.2,176.8ZM1299.6,174.6 1302.4,176.7 1301.3,180.0 1297.8,180.0 1296.7,176.7ZM1300.1,173.5 1303.0,175.5 1301.9,178.9 1298.4,178.9 1297.3,175.5ZM1300.7,174.9 1303.5,177.0 1302.4,180.3 1298.9,180.3 1297.8,177.0ZM1301.2,175.3 1304.1,177.4 1303.0,180.7 1299.5,180.7 1298.4,177.4ZM1301.8,173.9 1304.6,175.9 1303.5,179.3 1300.0,179.3 1298.9,175.9ZM1302.3,176.1 1305.2,178.2 1304.1,181.6 1300.6,181.6 1299.5,178.2ZM1302.9,175.1 1305.7,177.2 1304.6,180.5 1301.1,180.5 1300.0,177.2ZM1303.4,175.3 1306.3,177.4 1305.2,180.7 1301.7,180.7 1300.6,177.4ZM1304.0,174.1 1306.8,176.2 1305.7,179.6 1302.2,179.6 1301.1,176.2ZM1304.5,174.7 1307.4,176.8 1306.3,180.2 1302.7,180.2 1301.7,176.8ZM1305.1,174.7 1307.9,176.7 1306.8,180.1 1303.3,180.1 1302.2,176.7ZM1305.6,173.9 1308.5,176.0 1307.4,179.3 1303.8,179.3 1302.8,176.0ZM1306.2,173.9 1309.0,176.0 1307.9,179.4 1304.4,179.4 1303.3,176.0ZM1306.7,171.9 1309.6,173.9 1308.5,177.3 1304.9,177.3 1303.9,173.9ZM1307.3,174.4 1310.1,176.4 1309.0,179.8 1305.5,179.8 1304.4,176.4ZM1307.8,172.1 1310.7,174.2 1309.6,177.5 1306.0,177.5 1305.0,174.2ZM1308.4,171.0 1311.2,173.1 1310.1,176.4 1306.6,176.4 1305.5,173.1ZM1308.9,171.7 1311.8,173.8 1310.7,177.2 1307.1,177.2 1306.0,173.8ZM1309.5,171.6 1312.3,173.7 1311.2,177.0 1307.7,177.0 1306.6,173.7ZM1310.0,172.5 1312.9,174.6 1311.8,178.0 1308.2,178.0 1307.1,174.6ZM1310.5,171.2 1313.4,173.3 1312.3,176.7 1308.8,176.7 1307.7,173.3ZM1311.1,172.1 1314.0,174.1 1312.9,177.5 1309.3,177.5 1308.2,174.1ZM1311.6,171.0 1314.5,173.1 1313.4,176.4 1309.9,176.4 1308.8,173.1ZM1312.2,173.5 1315.0,175.5 1314.0,178.9 1310.4,178.9 1309.3,175.5ZM1312.7,172.1 1315.6,174.2 1314.5,177.5 1311.0,177.5 1309.9,174.2ZM1313.3,173.2 1316.1,175.3 1315.1,178.6 1311.5,178.6 1310.4,175.3ZM1313.8,170.8 1316.7,172.9 1315.6,176.3 1312.1,176.3 1311.0,172.9ZM1314.4,172.2 1317.2,174.2 1316.2,177.6 1312.6,177.6 1311.5,174.2ZM1314.9,170.9 1317.8,173.0 1316.7,176.3 1313.2,176.3 1312.1,173.0ZM1315.5,172.2 1318.3,174.3 1317.3,177.6 1313.7,177.6 1312.6,174.3ZM1316.0,172.4 1318.9,174.4 1317.8,177.8 1314.3,177.8 1313.2,174.4ZM1316.6,170.7 1319.4,172.7 1318.3,176.1 1314.8,176.1 1313.7,172.7ZM1317.1,171.2 1320.0,173.3 1318.9,176.6 1315.4,176.6 1314.3,173.3ZM1317.7,171.3 1320.5,173.4 1319.4,176.8 1315.9,176.8 1314.8,173.4ZM1318.2,171.2 1321.1,173.3 1320.0,176.7 1316.5,176.7 1315.4,173.3ZM1318.8,172.0 1321.6,174.1 1320.5,177.4 1317.0,177.4 1315.9,174.1ZM1319.3,172.0 1322.2,174.1 1321.1,177.4 1317.6,177.4 1316.5,174.1ZM1319.9,171.8 1322.7,173.8 1321.6,177.2 1318.1,177.2 1317.0,173.8ZM1320.4,173.1 1323.3,175.2 1322.2,178.6 1318.7,178.6 1317.6,175.2ZM1321.0,173.6 1323.8,175.7 1322.7,179.0 1319.2,179.0 1318.1,175.7ZM1321.5,172.2 1324.4,174.3 1323.3,177.7 1319.8,177.7 1318.7,174.3ZM1322.1,173.0 1324.9,175.0 1323.8,178.4 1320.3,178.4 1319.2,175.0ZM1322.6,173.5 1325.5,175.6 1324.4,179.0 1320.9,179.0 1319.8,175.6ZM1323.2,173.5 1326.0,175.5 1324.9,178.9 1321.4,178.9 1320.3,175.5ZM1323.7,173.2 1326.6,175.3 1325.5,178.7 1322.0,178.7 1320.9,175.3ZM1324.3,174.6 1327.1,176.7 1326.0,180.1 1322.5,180.1 1321.4,176.7ZM1324.8,174.9 1327.7,177.0 1326.6,180.3 1323.1,180.3 1322.0,177.0ZM1325.4,175.0 1328.2,177.1 1327.1,180.5 1323.6,180.5 1322.5,177.1ZM1325.9,174.7 1328.8,176.7 1327.7,180.1 1324.2,180.1 1323.1,176.7ZM1326.5,176.8 1329.3,178.8 1328.2,182.2 1324.7,182.2 1323.6,178.8ZM1327.0,177.0 1329.9,179.0 1328.8,182.4 1325.2,182.4 1324.2,179.0ZM1327.6,175.6 1330.4,177.7 1329.3,181.1 1325.8,181.1 1324.7,177.7ZM1328.1,176.3 1331.0,178.4 1329.9,181.7 1326.3,181.7 1325.3,178.4ZM1328.7,177.7 1331.5,179.8 1330.4,183.2 1326.9,183.2 1325.8,179.8ZM1329.2,176.5 1332.1,178.6 1331.0,182.0 1327.4,182.0 1326.4,178.6ZM1329.8,177.9 1332.6,179.9 1331.5,183.3 1328.0,183.3 1326.9,179.9ZM1330.3,177.9 1333.2,180.0 1332.1,183.4 1328.5,183.4 1327.5,180.0ZM1330.9,177.7 1333.7,179.8 1332.6,183.1 1329.1,183.1 1328.0,179.8ZM1331.4,178.4 1334.3,180.5 1333.2,183.9 1329.6,183.9 1328.5,180.5ZM1332.0,177.7 1334.8,179.8 1333.7,183.1 1330.2,183.1 1329.1,179.8ZM1332.5,178.9 1335.4,180.9 1334.3,184.3 1330.7,184.3 1329.6,180.9ZM1333.0,178.1 1335.9,180.1 1334.8,183.5 1331.3,183.5 1330.2,180.1ZM1333.6,181.8 1336.4,183.9 1335.4,187.2 1331.8,187.2 1330.7,183.9ZM1334.1,181.5 1337.0,183.6 1335.9,186.9 1332.4,186.9 1331.3,183.6ZM1334.7,181.6 1337.5,183.7 1336.5,187.0 1332.9,187.0 1331.8,183.7ZM1335.2,181.2 1338.1,183.2 1337.0,186.6 1333.5,186.6 1332.4,183.2ZM1335.8,182.0 1338.6,184.1 1337.6,187.5 1334.0,187.5 1332.9,184.1ZM1336.3,182.6 1339.2,184.6 1338.1,188.0 1334.6,188.0 1333.5,184.6ZM1336.9,182.7 1339.7,184.8 1338.7,188.1 1335.1,188.1 1334.0,184.8ZM1337.4,182.9 1340.3,185.0 1339.2,188.3 1335.7,188.3 1334.6,185.0ZM1338.0,181.7 1340.8,183.8 1339.7,187.2 1336.2,187.2 1335.1,183.8ZM1338.5,183.1 1341.4,185.2 1340.3,188.5 1336.8,188.5 1335.7,185.2ZM1339.1,182.5 1341.9,184.6 1340.8,188.0 1337.3,188.0 1336.2,184.6ZM1339.6,182.2 1342.5,184.3 1341.4,187.6 1337.9,187.6 1336.8,184.3ZM1340.2,182.4 1343.0,184.5 1341.9,187.8 1338.4,187.8 1337.3,184.5ZM1340.7,183.8 1343.6,185.9 1342.5,189.3 1339.0,189.3 1337.9,185.9ZM1341.3,184.5 1344.1,186.5 1343.0,189.9 1339.5,189.9 1338.4,186.5ZM1341.8,182.6 1344.7,184.7 1343.6,188.1 1340.1,188.1 1339.0,184.7ZM1342.4,185.3 1345.2,187.3 1344.1,190.7 1340.6,190.7 1339.5,187.3ZM1342.9,185.2 1345.8,187.2 1344.7,190.6 1341.2,190.6 1340.1,187.2ZM1343.5,183.8 1346.3,185.9 1345.2,189.2 1341.7,189.2 1340.6,185.9ZM1344.0,183.9 1346.9,186.0 1345.8,189.3 1342.3,189.3 1341.2,186.0ZM1344.6,184.4 1347.4,186.5 1346.3,189.8 1342.8,189.8 1341.7,186.5ZM1345.1,185.4 1348.0,187.5 1346.9,190.8 1343.4,190.8 1342.3,187.5ZM1345.7,184.5 1348.5,186.6 1347.4,189.9 1343.9,189.9 1342.8,186.6ZM1346.2,184.0 1349.1,186.1 1348.0,189.5 1344.5,189.5 1343.4,186.1ZM1346.8,185.3 1349.6,187.4 1348.5,190.7 1345.0,190.7 1343.9,187.4ZM1347.3,183.5 1350.2,185.5 1349.1,188.9 1345.6,188.9 1344.5,185.5ZM1347.9,185.3 1350.7,187.4 1349.6,190.7 1346.1,190.7 1345.0,187.4ZM1348.4,186.2 1351.3,188.2 1350.2,191.6 1346.6,191.6 1345.6,188.2ZM1349.0,185.5 1351.8,187.6 1350.7,190.9 1347.2,190.9 1346.1,187.6ZM1349.5,185.9 1352.4,187.9 1351.3,191.3 1347.7,191.3 1346.7,187.9ZM1350.1,185.6 1352.9,187.7 1351.8,191.1 1348.3,191.1 1347.2,187.7ZM1350.6,185.8 1353.5,187.9 1352.4,191.2 1348.8,191.2 1347.8,187.9ZM1351.2,185.3 1354.0,187.4 1352.9,190.7 1349.4,190.7 1348.3,187.4ZM1351.7,184.5 1354.6,186.6 1353.5,189.9 1349.9,189.9 1348.9,186.6ZM1352.3,185.0 1355.1,187.1 1354.0,190.4 1350.5,190.4 1349.4,187.1ZM1352.8,185.1 1355.7,187.2 1354.6,190.6 1351.0,190.6 1349.9,187.2ZM1353.4,186.2 1356.2,188.3 1355.1,191.7 1351.6,191.7 1350.5,188.3ZM1353.9,186.6 1356.8,188.7 1355.7,192.0 1352.1,192.0 1351.0,188.7ZM1354.4,185.7 1357.3,187.7 1356.2,191.1 1352.7,191.1 1351.6,187.7ZM1355.0,184.8 1357.9,186.8 1356.8,190.2 1353.2,190.2 1352.1,186.8ZM1355.5,184.8 1358.4,186.9 1357.3,190.3 1353.8,190.3 1352.7,186.9ZM1356.1,185.4 1358.9,187.4 1357.9,190.8 1354.3,190.8 1353.2,187.4ZM1356.6,186.7 1359.5,188.8 1358.4,192.1 1354.9,192.1 1353.8,188.8ZM1357.2,186.0 1360.0,188.1 1359.0,191.4 1355.4,191.4 1354.3,188.1ZM1357.7,185.8 1360.6,187.9 1359.5,191.2 1356.0,191.2 1354.9,187.9ZM1358.3,185.4 1361.1,187.4 1360.1,190.8 1356.5,190.8 1355.4,187.4ZM1358.8,186.8 1361.7,188.9 1360.6,192.3 1357.1,192.3 1356.0,188.9ZM1359.4,186.5 1362.2,188.6 1361.2,192.0 1357.6,192.0 1356.5,188.6ZM1359.9,186.5 1362.8,188.5 1361.7,191.9 1358.2,191.9 1357.1,188.5ZM1360.5,186.8 1363.3,188.9 1362.2,192.2 1358.7,192.2 1357.6,188.9ZM1361.0,188.3 1363.9,190.4 1362.8,193.8 1359.3,193.8 1358.2,190.4ZM1361.6,187.2 1364.4,189.2 1363.3,192.6 1359.8,192.6 1358.7,189.2ZM1362.1,189.0 1365.0,191.0 1363.9,194.4 1360.4,194.4 1359.3,191.0ZM1362.7,189.0 1365.5,191.1 1364.4,194.4 1360.9,194.4 1359.8,191.1ZM1363.2,188.5 1366.1,190.5 1365.0,193.9 1361.5,193.9 1360.4,190.5ZM1363.8,189.6 1366.6,191.7 1365.5,195.0 1362.0,195.0 1360.9,191.7ZM1364.3,189.3 1367.2,191.3 1366.1,194.7 1362.6,194.7 1361.5,191.3ZM1364.9,189.2 1367.7,191.2 1366.6,194.6 1363.1,194.6 1362.0,191.2ZM1365.4,190.0 1368.3,192.1 1367.2,195.5 1363.7,195.5 1362.6,192.1ZM1366.0,189.9 1368.8,192.0 1367.7,195.4 1364.2,195.4 1363.1,192.0ZM1366.5,191.4 1369.4,193.5 1368.3,196.9 1364.8,196.9 1363.7,193.5ZM1367.1,191.4 1369.9,193.4 1368.8,196.8 1365.3,196.8 1364.2,193.4ZM1367.6,192.1 1370.5,194.2 1369.4,197.5 1365.9,197.5 1364.8,194.2ZM1368.2,192.6 1371.0,194.7 1369.9,198.0 1366.4,198.0 1365.3,194.7ZM1368.7,189.7 1371.6,191.7 1370.5,195.1 1367.0,195.1 1365.9,191.7ZM1369.3,192.6 1372.1,194.7 1371.0,198.1 1367.5,198.1 1366.4,194.7ZM1369.8,191.1 1372.7,193.2 1371.6,196.5 1368.1,196.5 1367.0,193.2ZM1370.4,192.8 1373.2,194.9 1372.1,198.3 1368.6,198.3 1367.5,194.9ZM1370.9,192.1 1373.8,194.2 1372.7,197.5 1369.1,197.5 1368.1,194.2ZM1371.5,193.0 1374.3,195.1 1373.2,198.4 1369.7,198.4 1368.6,195.1ZM1372.0,194.1 1374.9,196.2 1373.8,199.6 1370.2,199.6 1369.2,196.2ZM1372.6,191.8 1375.4,193.9 1374.3,197.2 1370.8,197.2 1369.7,193.9ZM1373.1,193.4 1376.0,195.5 1374.9,198.8 1371.3,198.8 1370.3,195.5ZM1373.7,193.3 1376.5,195.4 1375.4,198.7 1371.9,198.7 1370.8,195.4ZM1374.2,191.9 1377.1,194.0 1376.0,197.3 1372.4,197.3 1371.4,194.0ZM1374.8,194.0 1377.6,196.0 1376.5,199.4 1373.0,199.4 1371.9,196.0ZM1375.3,193.5 1378.2,195.5 1377.1,198.9 1373.5,198.9 1372.4,195.5ZM1375.8,193.0 1378.7,195.1 1377.6,198.4 1374.1,198.4 1373.0,195.1ZM1376.4,192.8 1379.3,194.8 1378.2,198.2 1374.6,198.2 1373.5,194.8ZM1376.9,195.8 1379.8,197.9 1378.7,201.3 1375.2,201.3 1374.1,197.9ZM1377.5,192.9 1380.3,194.9 1379.3,198.3 1375.7,198.3 1374.6,194.9ZM1378.0,191.6 1380.9,193.7 1379.8,197.0 1376.3,197.0 1375.2,193.7ZM1378.6,192.2 1381.4,194.3 1380.4,197.6 1376.8,197.6 1375.7,194.3ZM1379.1,192.5 1382.0,194.6 1380.9,197.9 1377.4,197.9 1376.3,194.6ZM1379.7,192.4 1382.5,194.4 1381.5,197.8 1377.9,197.8 1376.8,194.4ZM1380.2,192.5 1383.1,194.5 1382.0,197.9 1378.5,197.9 1377.4,194.5ZM1380.8,191.5 1383.6,193.6 1382.6,197.0 1379.0,197.0 1377.9,193.6ZM1381.3,192.7 1384.2,194.8 1383.1,198.1 1379.6,198.1 1378.5,194.8ZM1381.9,191.7 1384.7,193.8 1383.6,197.2 1380.1,197.2 1379.0,193.8ZM1382.4,190.9 1385.3,193.0 1384.2,196.4 1380.7,196.4 1379.6,193.0ZM1383.0,191.3 1385.8,193.3 1384.7,196.7 1381.2,196.7 1380.1,193.3ZM1383.5,191.5 1386.4,193.6 1385.3,197.0 1381.8,197.0 1380.7,193.6ZM1384.1,192.5 1386.9,194.6 1385.8,197.9 1382.3,197.9 1381.2,194.6ZM1384.6,192.2 1387.5,194.3 1386.4,197.6 1382.9,197.6 1381.8,194.3ZM1385.2,191.6 1388.0,193.6 1386.9,197.0 1383.4,197.0 1382.3,193.6ZM1385.7,192.0 1388.6,194.1 1387.5,197.4 1384.0,197.4 1382.9,194.1ZM1386.3,192.4 1389.1,194.4 1388.0,197.8 1384.5,197.8 1383.4,194.4ZM1386.8,194.1 1389.7,196.1 1388.6,199.5 1385.1,199.5 1384.0,196.1ZM1387.4,192.3 1390.2,194.3 1389.1,197.7 1385.6,197.7 1384.5,194.3ZM1387.9,193.5 1390.8,195.6 1389.7,198.9 1386.2,198.9 1385.1,195.6ZM1388.5,194.2 1391.3,196.2 1390.2,199.6 1386.7,199.6 1385.6,196.2ZM1389.0,193.3 1391.9,195.4 1390.8,198.8 1387.3,198.8 1386.2,195.4ZM1389.6,194.8 1392.4,196.9 1391.3,200.2 1387.8,200.2 1386.7,196.9ZM1390.1,195.4 1393.0,197.5 1391.9,200.8 1388.4,200.8 1387.3,197.5ZM1390.7,195.5 1393.5,197.6 1392.4,201.0 1388.9,201.0 1387.8,197.6ZM1391.2,197.1 1394.1,199.1 1393.0,202.5 1389.5,202.5 1388.4,199.1ZM1391.8,198.2 1394.6,200.2 1393.5,203.6 1390.0,203.6 1388.9,200.2ZM1392.3,199.0 1395.2,201.1 1394.1,204.4 1390.5,204.4 1389.5,201.1ZM1392.9,198.7 1395.7,200.8 1394.6,204.1 1391.1,204.1 1390.0,200.8ZM1393.4,199.7 1396.3,201.8 1395.2,205.2 1391.6,205.2 1390.6,201.8ZM1394.0,202.2 1396.8,204.3 1395.7,207.6 1392.2,207.6 1391.1,204.3ZM1394.5,200.1 1397.4,202.2 1396.3,205.5 1392.7,205.5 1391.7,202.2ZM1395.1,201.8 1397.9,203.8 1396.8,207.2 1393.3,207.2 1392.2,203.8ZM1395.6,202.9 1398.5,204.9 1397.4,208.3 1393.8,208.3 1392.8,204.9ZM1396.2,202.8 1399.0,204.9 1397.9,208.2 1394.4,208.2 1393.3,204.9ZM1396.7,203.6 1399.6,205.7 1398.5,209.1 1394.9,209.1 1393.8,205.7ZM1397.3,203.6 1400.1,205.7 1399.0,209.0 1395.5,209.0 1394.4,205.7ZM1397.8,204.3 1400.7,206.4 1399.6,209.8 1396.0,209.8 1394.9,206.4ZM1398.3,205.0 1401.2,207.0 1400.1,210.4 1396.6,210.4 1395.5,207.0ZM1398.9,203.9 1401.8,206.0 1400.7,209.3 1397.1,209.3 1396.0,206.0ZM1399.4,204.3 1402.3,206.4 1401.2,209.7 1397.7,209.7 1396.6,206.4ZM1400.0,204.1 1402.8,206.2 1401.8,209.5 1398.2,209.5 1397.1,206.2ZM1400.5,203.7 1403.4,205.8 1402.3,209.2 1398.8,209.2 1397.7,205.8ZM1401.1,203.9 1403.9,206.0 1402.9,209.4 1399.3,209.4 1398.2,206.0ZM1401.6,202.9 1404.5,205.0 1403.4,208.3 1399.9,208.3 1398.8,205.0ZM1402.2,204.3 1405.0,206.3 1404.0,209.7 1400.4,209.7 1399.3,206.3ZM1402.7,204.8 1405.6,206.9 1404.5,210.3 1401.0,210.3 1399.9,206.9ZM1403.3,204.6 1406.1,206.7 1405.1,210.0 1401.5,210.0 1400.4,206.7ZM1403.8,204.1 1406.7,206.2 1405.6,209.5 1402.1,209.5 1401.0,206.2ZM1404.4,202.1 1407.2,204.2 1406.1,207.6 1402.6,207.6 1401.5,204.2ZM1404.9,204.0 1407.8,206.1 1406.7,209.4 1403.2,209.4 1402.1,206.1ZM1405.5,202.1 1408.3,204.2 1407.2,207.5 1403.7,207.5 1402.6,204.2ZM1406.0,202.6 1408.9,204.7 1407.8,208.0 1404.3,208.0 1403.2,204.7ZM1406.6,204.1 1409.4,206.2 1408.3,209.5 1404.8,209.5 1403.7,206.2ZM1407.1,201.8 1410.0,203.9 1408.9,207.2 1405.4,207.2 1404.3,203.9ZM1407.7,203.5 1410.5,205.5 1409.4,208.9 1405.9,208.9 1404.8,205.5ZM1408.2,203.2 1411.1,205.3 1410.0,208.6 1406.5,208.6 1405.4,205.3ZM1408.8,203.1 1411.6,205.1 1410.5,208.5 1407.0,208.5 1405.9,205.1ZM1409.3,202.8 1412.2,204.8 1411.1,208.2 1407.6,208.2 1406.5,204.8ZM1409.9,204.2 1412.7,206.2 1411.6,209.6 1408.1,209.6 1407.0,206.2ZM1410.4,203.8 1413.3,205.9 1412.2,209.3 1408.7,209.3 1407.6,205.9ZM1411.0,205.5 1413.8,207.6 1412.7,210.9 1409.2,210.9 1408.1,207.6ZM1411.5,206.2 1414.4,208.3 1413.3,211.6 1409.8,211.6 1408.7,208.3ZM1412.1,204.7 1414.9,206.8 1413.8,210.1 1410.3,210.1 1409.2,206.8ZM1412.6,206.1 1415.5,208.1 1414.4,211.5 1410.9,211.5 1409.8,208.1ZM1413.2,206.9 1416.0,209.0 1414.9,212.3 1411.4,212.3 1410.3,209.0ZM1413.7,206.9 1416.6,209.0 1415.5,212.3 1412.0,212.3 1410.9,209.0ZM1414.3,207.7 1417.1,209.8 1416.0,213.1 1412.5,213.1 1411.4,209.8ZM1414.8,209.4 1417.7,211.4 1416.6,214.8 1413.0,214.8 1412.0,211.4ZM1415.4,209.8 1418.2,211.9 1417.1,215.2 1413.6,215.2 1412.5,211.9ZM1415.9,209.3 1418.8,211.4 1417.7,214.7 1414.1,214.7 1413.1,211.4ZM1416.5,210.8 1419.3,212.9 1418.2,216.3 1414.7,216.3 1413.6,212.9ZM1417.0,212.3 1419.9,214.3 1418.8,217.7 1415.2,217.7 1414.2,214.3ZM1417.6,211.4 1420.4,213.5 1419.3,216.8 1415.8,216.8 1414.7,213.5ZM1418.1,212.1 1421.0,214.2 1419.9,217.5 1416.3,217.5 1415.3,214.2ZM1418.7,214.5 1421.5,216.6 1420.4,219.9 1416.9,219.9 1415.8,216.6ZM1419.2,214.6 1422.1,216.7 1421.0,220.0 1417.4,220.0 1416.3,216.7ZM1419.8,212.5 1422.6,214.6 1421.5,217.9 1418.0,217.9 1416.9,214.6ZM1420.3,212.9 1423.2,215.0 1422.1,218.3 1418.5,218.3 1417.4,215.0ZM1420.8,214.4 1423.7,216.5 1422.6,219.9 1419.1,219.9 1418.0,216.5ZM1421.4,213.3 1424.2,215.4 1423.2,218.7 1419.6,218.7 1418.5,215.4ZM1421.9,214.1 1424.8,216.2 1423.7,219.5 1420.2,219.5 1419.1,216.2ZM1422.5,214.0 1425.3,216.0 1424.3,219.4 1420.7,219.4 1419.6,216.0ZM1423.0,214.7 1425.9,216.8 1424.8,220.2 1421.3,220.2 1420.2,216.8ZM1423.6,212.2 1426.4,214.3 1425.4,217.6 1421.8,217.6 1420.7,214.3ZM1424.1,212.4 1427.0,214.5 1425.9,217.8 1422.4,217.8 1421.3,214.5ZM1424.7,213.2 1427.5,215.2 1426.5,218.6 1422.9,218.6 1421.8,215.2ZM1425.2,214.9 1428.1,217.0 1427.0,220.4 1423.5,220.4 1422.4,217.0ZM1425.8,214.0 1428.6,216.1 1427.5,219.4 1424.0,219.4 1422.9,216.1ZM1426.3,212.8 1429.2,214.8 1428.1,218.2 1424.6,218.2 1423.5,214.8ZM1426.9,214.6 1429.7,216.7 1428.6,220.0 1425.1,220.0 1424.0,216.7ZM1427.4,214.9 1430.3,217.0 1429.2,220.3 1425.7,220.3 1424.6,217.0ZM1428.0,214.3 1430.8,216.3 1429.7,219.7 1426.2,219.7 1425.1,216.3ZM1428.5,214.4 1431.4,216.5 1430.3,219.8 1426.8,219.8 1425.7,216.5ZM1429.1,215.2 1431.9,217.3 1430.8,220.7 1427.3,220.7 1426.2,217.3ZM1429.6,216.1 1432.5,218.2 1431.4,221.6 1427.9,221.6 1426.8,218.2ZM1430.2,215.6 1433.0,217.7 1431.9,221.1 1428.4,221.1 1427.3,217.7ZM1430.7,216.3 1433.6,218.4 1432.5,221.7 1429.0,221.7 1427.9,218.4ZM1431.3,216.3 1434.1,218.3 1433.0,221.7 1429.5,221.7 1428.4,218.3ZM1431.8,216.5 1434.7,218.5 1433.6,221.9 1430.1,221.9 1429.0,218.5ZM1432.4,216.6 1435.2,218.6 1434.1,222.0 1430.6,222.0 1429.5,218.6ZM1432.9,218.1 1435.8,220.1 1434.7,223.5 1431.2,223.5 1430.1,220.1ZM1433.5,218.2 1436.3,220.2 1435.2,223.6 1431.7,223.6 1430.6,220.2ZM1434.0,218.7 1436.9,220.8 1435.8,224.2 1432.3,224.2 1431.2,220.8ZM1434.6,220.2 1437.4,222.3 1436.3,225.6 1432.8,225.6 1431.7,222.3ZM1435.1,220.4 1438.0,222.4 1436.9,225.8 1433.4,225.8 1432.3,222.4ZM1435.7,221.1 1438.5,223.2 1437.4,226.5 1433.9,226.5 1432.8,223.2ZM1436.2,219.6 1439.1,221.6 1438.0,225.0 1434.4,225.0 1433.4,221.6ZM1436.8,221.6 1439.6,223.7 1438.5,227.1 1435.0,227.1 1433.9,223.7ZM1437.3,221.0 1440.2,223.1 1439.1,226.4 1435.5,226.4 1434.5,223.1ZM1437.9,221.1 1440.7,223.1 1439.6,226.5 1436.1,226.5 1435.0,223.1ZM1438.4,221.2 1441.3,223.2 1440.2,226.6 1436.6,226.6 1435.6,223.2ZM1439.0,222.9 1441.8,224.9 1440.7,228.3 1437.2,228.3 1436.1,224.9ZM1439.5,222.5 1442.4,224.6 1441.3,228.0 1437.7,228.0 1436.7,224.6ZM1440.1,221.2 1442.9,223.3 1441.8,226.7 1438.3,226.7 1437.2,223.3ZM1440.6,220.8 1443.5,222.9 1442.4,226.2 1438.8,226.2 1437.7,222.9ZM1441.2,221.6 1444.0,223.6 1442.9,227.0 1439.4,227.0 1438.3,223.6ZM1441.7,221.0 1444.6,223.1 1443.5,226.4 1439.9,226.4 1438.8,223.1ZM1442.2,222.5 1445.1,224.5 1444.0,227.9 1440.5,227.9 1439.4,224.5ZM1442.8,220.8 1445.7,222.9 1444.6,226.2 1441.0,226.2 1439.9,222.9ZM1443.3,222.3 1446.2,224.4 1445.1,227.7 1441.6,227.7 1440.5,224.4ZM1443.9,225.3 1446.7,227.4 1445.7,230.7 1442.1,230.7 1441.0,227.4ZM1444.4,227.3 1447.3,229.4 1446.2,232.7 1442.7,232.7 1441.6,229.4ZM1445.0,230.1 1447.8,232.2 1446.8,235.5 1443.2,235.5 1442.1,232.2ZM1445.5,234.9 1448.4,236.9 1447.3,240.3 1443.8,240.3 1442.7,236.9ZM1447.0,221.0 1449.9,223.1 1448.8,226.4 1445.2,226.4 1444.1,223.1ZM1448.2,224.5 1451.1,226.6 1450.0,229.9 1446.4,229.9 1445.3,226.6ZM1446.5,218.5 1449.4,220.6 1448.3,223.9 1444.7,223.9 1443.6,220.6Z" fill="#0000ff" stroke="#0000ff" stroke-width="1.5" stroke-linejoin="round"/>
<path d="M1093.0,78.0 1115.0,87.2 1155.0,108.0 1195.0,128.8 1211.0,138.0 1213.0,140.0 1221.0,151.2 1235.0,155.5 1291.0,170.0 1335.0,184.0 1385.0,199.3 1400.0,206.3 1415.0,212.5 1442.5,224.5 1444.8,234.0 1446.2,246.0" fill="none" stroke="#008000" stroke-width="7" stroke-linejoin="round" stroke-linecap="round"/>
</g>
<rect x="1073.7" y="1.5" width="392.79999999999995" height="288.5" fill="none" stroke="#2a2a2a" stroke-width="1.0"/>
<line x1="1071.2" y1="77.5" x2="1073.7" y2="77.5" stroke="#2a2a2a" stroke-width="1.0"/>
<text transform="translate(1069.20,88.80) scale(1.0,1)" font-family="'DejaVu Sans','Liberation Sans',sans-serif" font-size="30.9" font-weight="normal" text-anchor="end" stroke="#000" stroke-width="0.4" >1.0</text>
<line x1="1071.2" y1="191.5" x2="1073.7" y2="191.5" stroke="#2a2a2a" stroke-width="1.0"/>
<text transform="translate(1069.20,203.30) scale(1.0,1)" font-family="'DejaVu Sans','Liberation Sans',sans-serif" font-size="30.9" font-weight="normal" text-anchor="end" stroke="#000" stroke-width="0.4" >0.9</text>
<line x1="1090.5" y1="290.0" x2="1090.5" y2="292.5" stroke="#2a2a2a" stroke-width="1.0"/>
<text transform="translate(1090.50,318.40) scale(1.0,1)" font-family="'DejaVu Sans','Liberation Sans',sans-serif" font-size="30.9" font-weight="normal" text-anchor="middle" stroke="#000" stroke-width="0.4" >0</text>
<line x1="1200.5" y1="290.0" x2="1200.5" y2="292.5" stroke="#2a2a2a" stroke-width="1.0"/>
<text transform="translate(1200.25,318.40) scale(1.0,1)" font-family="'DejaVu Sans','Liberation Sans',sans-serif" font-size="30.9" font-weight="normal" text-anchor="middle" stroke="#000" stroke-width="0.4" >200</text>
<line x1="1310.5" y1="290.0" x2="1310.5" y2="292.5" stroke="#2a2a2a" stroke-width="1.0"/>
<text transform="translate(1310.00,318.40) scale(1.0,1)" font-family="'DejaVu Sans','Liberation Sans',sans-serif" font-size="30.9" font-weight="normal" text-anchor="middle" stroke="#000" stroke-width="0.4" >400</text>
<line x1="1419.5" y1="290.0" x2="1419.5" y2="292.5" stroke="#2a2a2a" stroke-width="1.0"/>
<text transform="translate(1419.75,318.40) scale(1.0,1)" font-family="'DejaVu Sans','Liberation Sans',sans-serif" font-size="30.9" font-weight="normal" text-anchor="middle" stroke="#000" stroke-width="0.4" >600</text>
<text transform="translate(1270.20,350.50) scale(1.0,1)" font-family="'DejaVu Sans','Liberation Sans',sans-serif" font-size="30.9" font-weight="normal" text-anchor="middle" stroke="#000" stroke-width="0.4" >Cycles</text>
<text transform="translate(1010.80,145.70) rotate(-90) scale(1.0,1)" font-family="'DejaVu Sans','Liberation Sans',sans-serif" font-size="30.9" font-weight="normal" text-anchor="middle" stroke="#000" stroke-width="0.4" >SOH</text>
<rect x="1206.6" y="6" width="255.30000000000018" height="112.5" rx="4.5" ry="4.5" fill="none" stroke="#cfcfcf" stroke-width="1"/>
<path d="M1228.5,24.6 1231.4,26.7 1230.3,30.0 1226.7,30.0 1225.6,26.7Z" fill="#ff0000" stroke="#ff0000" stroke-width="1.5" stroke-linejoin="round"/>
<path d="M1228.5,59.4 1231.4,61.5 1230.3,64.8 1226.7,64.8 1225.6,61.5Z" fill="#0000ff" stroke="#0000ff" stroke-width="1.5" stroke-linejoin="round"/>
<path d="M1228.5,94.5 1231.4,96.6 1230.3,99.9 1226.7,99.9 1225.6,96.6Z" fill="#008000" stroke="#008000" stroke-width="1.5" stroke-linejoin="round"/>
<text transform="translate(1247.20,33.70) scale(1.0,1)" font-family="'DejaVu Sans','Liberation Sans',sans-serif" font-size="24.15" font-weight="normal" text-anchor="start" stroke="#000" stroke-width="0.4" >noise 100mV,mA</text>
<text transform="translate(1247.20,68.90) scale(1.0,1)" font-family="'DejaVu Sans','Liberation Sans',sans-serif" font-size="24.15" font-weight="normal" text-anchor="start" stroke="#000" stroke-width="0.4" >noise 10mV,mA</text>
<text transform="translate(1247.20,104.10) scale(1.0,1)" font-family="'DejaVu Sans','Liberation Sans',sans-serif" font-size="24.15" font-weight="normal" text-anchor="start" stroke="#000" stroke-width="0.4" >Actual</text>
<path d="M1649.0,218.5 1653.3,221.6 1651.6,226.6 1646.4,226.6 1644.7,221.6ZM1685.5,192.2 1689.8,195.3 1688.1,200.3 1682.9,200.3 1681.2,195.3ZM1723.0,207.2 1727.3,210.3 1725.6,215.3 1720.4,215.3 1718.7,210.3ZM1759.5,194.2 1763.8,197.3 1762.1,202.3 1756.9,202.3 1755.2,197.3ZM1796.5,178.7 1800.8,181.8 1799.1,186.8 1793.9,186.8 1792.2,181.8ZM1833.5,146.7 1837.8,149.8 1836.1,154.8 1830.9,154.8 1829.2,149.8ZM1870.5,171.2 1874.8,174.3 1873.1,179.3 1867.9,179.3 1866.2,174.3ZM1907.5,157.2 1911.8,160.3 1910.1,165.3 1904.9,165.3 1903.2,160.3ZM1944.5,131.2 1948.8,134.3 1947.1,139.3 1941.9,139.3 1940.2,134.3ZM1981.5,104.2 1985.8,107.3 1984.1,112.3 1978.9,112.3 1977.2,107.3Z" fill="#ff0000" stroke="#ff0000" stroke-width="2.2" stroke-linejoin="round"/>
<rect x="1631.9" y="24.7" width="366.5" height="267.7" fill="none" stroke="#2a2a2a" stroke-width="1.0"/>
<line x1="1629.4" y1="101.5" x2="1631.9" y2="101.5" stroke="#2a2a2a" stroke-width="1.0"/>
<text transform="translate(1626.90,113.70) scale(1.0,1)" font-family="'DejaVu Sans','Liberation Sans',sans-serif" font-size="29.8" font-weight="normal" text-anchor="end" stroke="#000" stroke-width="0.4" >0.02</text>
<line x1="1629.4" y1="199.5" x2="1631.9" y2="199.5" stroke="#2a2a2a" stroke-width="1.0"/>
<text transform="translate(1626.90,211.50) scale(1.0,1)" font-family="'DejaVu Sans','Liberation Sans',sans-serif" font-size="29.8" font-weight="normal" text-anchor="end" stroke="#000" stroke-width="0.4" >0.01</text>
<line x1="1704.5" y1="292.4" x2="1704.5" y2="294.9" stroke="#2a2a2a" stroke-width="1.0"/>
<text transform="translate(1704.00,320.00) scale(1.0,1)" font-family="'DejaVu Sans','Liberation Sans',sans-serif" font-size="29.8" font-weight="normal" text-anchor="middle" stroke="#000" stroke-width="0.4" >25</text>
<line x1="1796.5" y1="292.4" x2="1796.5" y2="294.9" stroke="#2a2a2a" stroke-width="1.0"/>
<text transform="translate(1796.50,320.00) scale(1.0,1)" font-family="'DejaVu Sans','Liberation Sans',sans-serif" font-size="29.8" font-weight="normal" text-anchor="middle" stroke="#000" stroke-width="0.4" >50</text>
<line x1="1889.5" y1="292.4" x2="1889.5" y2="294.9" stroke="#2a2a2a" stroke-width="1.0"/>
<text transform="translate(1889.00,320.00) scale(1.0,1)" font-family="'DejaVu Sans','Liberation Sans',sans-serif" font-size="29.8" font-weight="normal" text-anchor="middle" stroke="#000" stroke-width="0.4" >75</text>
<line x1="1981.5" y1="292.4" x2="1981.5" y2="294.9" stroke="#2a2a2a" stroke-width="1.0"/>
<text transform="translate(1981.50,320.00) scale(1.0,1)" font-family="'DejaVu Sans','Liberation Sans',sans-serif" font-size="29.8" font-weight="normal" text-anchor="middle" stroke="#000" stroke-width="0.4" >100</text>
<text transform="translate(1815.30,350.20) scale(1.0,1)" font-family="'DejaVu Sans','Liberation Sans',sans-serif" font-size="29.6" font-weight="normal" text-anchor="middle" stroke="#000" stroke-width="0.4" >Noise amplitude (mV,mA)</text>
<text transform="translate(1552.50,158.00) rotate(-90) scale(1.0,1)" font-family="'DejaVu Sans','Liberation Sans',sans-serif" font-size="29.8" font-weight="normal" text-anchor="middle" stroke="#000" stroke-width="0.4" >MAE</text>
<text transform="translate(508.00,396.20) scale(1.0,1)" font-family="'Liberation Serif','DejaVu Serif',serif" font-size="52.5" font-weight="bold" text-anchor="middle" stroke="#000" stroke-width="0" letter-spacing="0.8">(a)</text>
<text transform="translate(1269.80,407.00) scale(1.0,1)" font-family="'Liberation Serif','DejaVu Serif',serif" font-size="52.5" font-weight="bold" text-anchor="middle" stroke="#000" stroke-width="0" letter-spacing="0.8">(b)</text>
<text transform="translate(1842.20,395.90) scale(1.0,1)" font-family="'Liberation Serif','DejaVu Serif',serif" font-size="52.5" font-weight="bold" text-anchor="middle" stroke="#000" stroke-width="0" letter-spacing="0.8">(c)</text>
</svg>
</body></html>
